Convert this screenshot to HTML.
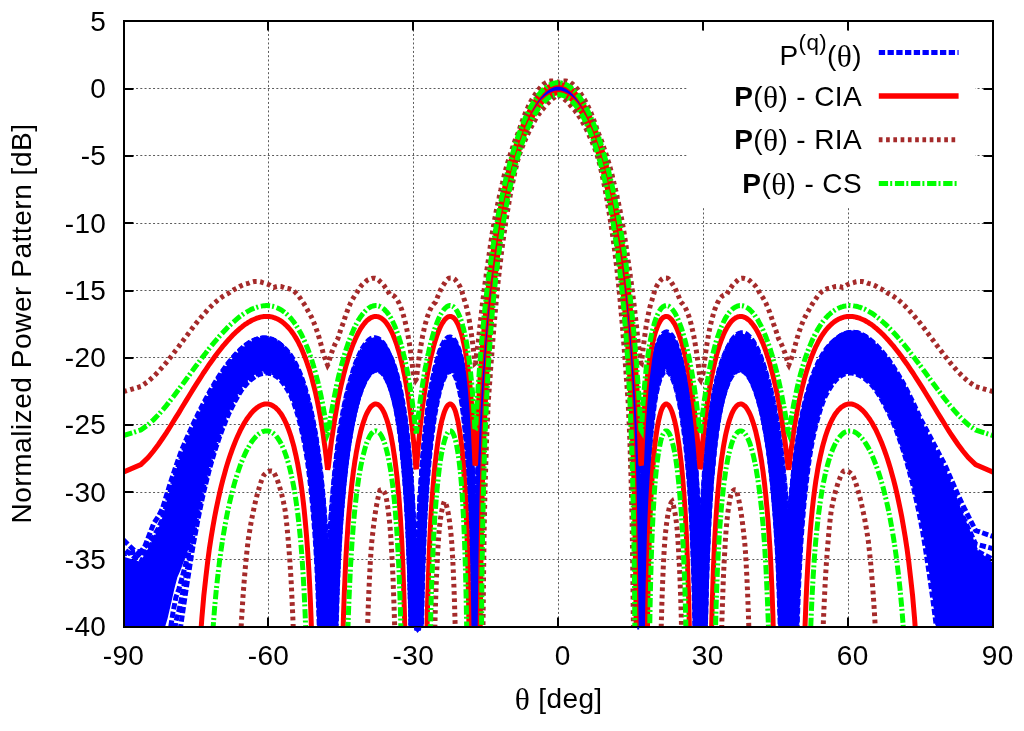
<!DOCTYPE html><html><head><meta charset="utf-8"><title>Normalized Power Pattern</title><style>
html,body{margin:0;padding:0;background:#fff}
#c{position:relative;width:1024px;height:731px;overflow:hidden;background:#fff}
</style></head><body><div id="c">
<svg width="1024" height="731" viewBox="0 0 1024 731" style="position:absolute;left:0;top:0">
<defs><clipPath id="cp"><rect x="123.3" y="21.2" width="869.8" height="605.4"/></clipPath></defs>
<path d="M268.5 21.2V626.6M413.5 21.2V626.6M558.5 21.2V626.6M703.5 21.2V626.6M848.5 21.2V626.6M123.3 88.5H993.1M123.3 155.5H993.1M123.3 223.5H993.1M123.3 290.5H993.1M123.3 357.5H993.1M123.3 424.5H993.1M123.3 492.5H993.1M123.3 559.5H993.1" stroke="#5c5c5c" stroke-width="1" stroke-dasharray="2 2.25" fill="none"/>
<rect x="687.6" y="30.5" width="287.4" height="175.5" fill="#fff"/>
<path d="M268 627.0v-9.5M268 21.0v9.5M413 627.0v-9.5M413 21.0v9.5M558 627.0v-9.5M558 21.0v9.5M703 627.0v-9.5M703 21.0v9.5M848 627.0v-9.5M848 21.0v9.5M124.0 89h9.5M993.0 89h-9.5M124.0 156h9.5M993.0 156h-9.5M124.0 223h9.5M993.0 223h-9.5M124.0 291h9.5M993.0 291h-9.5M124.0 358h9.5M993.0 358h-9.5M124.0 425h9.5M993.0 425h-9.5M124.0 492h9.5M993.0 492h-9.5M124.0 560h9.5M993.0 560h-9.5" stroke="#000" stroke-width="2" fill="none"/>
<g clip-path="url(#cp)" fill="none">
<path d="M123.3 558.0 140.8 563.4 148.1 551.3 153.7 540.9 158.4 532.0 162.5 522.3 166.3 508.2 169.7 495.9 172.9 484.9 175.9 475.1 178.8 466.1 181.5 458.0 184.1 451.5 186.6 445.3 189.0 439.6 191.3 434.1 193.5 429.0 195.7 424.1 197.8 419.5 199.9 415.1 201.9 410.9 203.8 406.9 205.8 403.1 207.6 399.5 209.4 396.1 211.2 392.8 213.0 389.6 214.7 386.6 216.4 383.8 218.1 381.0 219.7 378.4 221.3 375.9 222.9 373.5 224.5 371.2 226.0 369.0 227.5 366.9 229.0 364.9 230.5 363.0 232.0 361.2 233.4 359.5 234.8 357.9 236.2 356.3 237.6 354.8 239.0 353.5 240.3 352.1 241.7 350.8 243.0 349.5 244.3 348.3 245.6 347.2 246.9 346.1 248.2 345.1 249.5 344.2 250.7 343.4 251.9 342.6 253.2 341.9 254.4 341.3 255.6 340.8 256.8 340.3 258.0 339.8 259.2 339.5 260.3 339.2 261.5 338.9 262.7 338.7 263.8 338.6 264.9 338.6 266.1 338.6 267.2 338.6 268.3 338.8 269.4 338.9 270.5 339.2 271.6 339.5 272.7 339.9 273.7 340.4 274.8 341.0 275.9 341.7 276.9 342.4 278.0 343.1 279.0 344.0 280.0 344.6 281.1 345.4 282.1 346.5 283.1 347.5 284.1 348.5 285.1 349.5 286.1 350.8 287.1 352.1 288.1 353.5 289.1 355.0 290.1 356.6 291.1 358.3 292.0 360.0 293.0 361.6 294.0 363.3 294.9 365.1 295.9 366.9 296.8 368.9 297.8 370.9 298.7 373.0 299.6 375.3 300.6 377.6 301.5 380.0 302.4 382.6 303.3 385.3 304.2 388.1 305.1 391.0 306.0 394.1 306.9 397.3 307.8 400.7 308.7 404.2 309.6 407.9 310.5 411.8 311.4 415.8 312.3 420.1 313.1 424.6 314.0 429.3 314.9 434.3 315.8 439.6 316.6 445.1 317.5 451.0 318.3 457.3 319.2 463.9 320.0 471.0 320.9 478.7 321.7 486.9 322.6 495.7 323.4 505.3 324.2 515.8 325.1 527.3 325.9 540.1 326.7 554.3 327.6 570.5 328.4 579.5 329.2 561.3 330.0 545.1 330.8 530.9 331.6 518.3 332.5 506.9 333.3 496.6 334.1 487.1 334.9 478.5 335.7 470.4 336.5 462.9 337.3 455.9 338.0 449.4 338.8 443.2 339.6 437.5 340.4 432.1 341.2 427.2 342.0 422.6 342.8 418.3 343.5 414.1 344.3 410.1 345.1 406.3 345.8 402.7 346.6 399.3 347.4 396.0 348.1 392.8 348.9 389.8 349.7 386.9 350.4 384.2 351.2 381.3 351.9 378.6 352.7 376.0 353.4 373.5 354.2 371.2 354.9 368.9 355.7 366.7 356.4 364.7 357.2 362.7 357.9 360.9 358.6 359.1 359.4 357.4 360.1 355.9 360.8 354.4 361.6 352.9 362.3 351.6 363.0 350.3 363.8 349.2 364.5 348.1 365.2 347.0 365.9 346.1 366.6 345.2 367.4 344.4 368.1 343.6 368.8 343.0 369.5 342.4 370.2 341.9 370.9 341.4 371.6 341.0 372.4 340.7 373.1 340.4 373.8 340.3 374.5 340.2 375.2 340.1 375.9 340.2 376.6 340.3 377.3 340.5 378.0 340.7 378.7 341.0 379.4 341.4 380.0 341.8 380.7 342.3 381.4 342.9 382.1 343.6 382.8 344.3 383.5 345.1 384.2 346.0 384.9 346.9 385.5 348.0 386.2 349.1 386.9 350.3 387.6 351.5 388.3 352.9 388.9 354.4 389.6 355.9 390.3 357.5 391.0 359.1 391.6 360.8 392.3 362.9 393.0 364.9 393.6 366.8 394.3 368.9 395.0 371.1 395.6 373.4 396.3 375.8 397.0 378.3 397.6 381.0 398.3 383.8 399.0 386.8 399.6 389.9 400.3 393.1 400.9 396.5 401.6 400.1 402.2 403.9 402.9 407.9 403.5 412.1 404.2 416.5 404.9 421.2 405.5 426.1 406.2 431.4 406.8 436.9 407.5 442.9 408.1 449.3 408.7 456.2 409.4 463.6 410.0 471.6 410.7 480.2 411.3 489.6 412.0 499.9 412.6 511.3 413.2 524.0 413.9 538.3 414.5 554.7 415.2 573.5 415.8 582.6 416.4 583.9 417.1 567.2 417.7 551.0 418.3 534.8 419.0 520.5 419.6 507.8 420.2 496.3 420.9 485.8 421.5 476.3 422.1 467.5 422.7 459.6 423.4 452.2 424.0 445.4 424.6 438.9 425.2 432.9 425.9 427.2 426.5 421.8 427.1 416.6 427.7 411.8 428.4 407.1 429.0 402.8 429.6 398.6 430.2 394.7 430.8 391.0 431.4 387.4 432.1 384.0 432.7 380.8 433.3 377.7 433.9 374.8 434.5 372.1 435.1 369.4 435.8 366.9 436.4 364.6 437.0 362.3 437.6 360.2 438.2 358.2 438.8 356.3 439.4 354.5 440.0 352.9 440.6 351.3 441.2 349.9 441.8 348.5 442.5 347.3 443.1 346.1 443.7 345.1 444.3 344.1 444.9 343.2 445.5 342.5 446.1 341.8 446.7 341.2 447.3 340.7 447.9 340.3 448.5 340.0 449.1 339.8 449.7 339.8 450.3 339.8 450.9 340.0 451.5 340.2 452.1 340.6 452.7 341.0 453.3 341.6 453.9 342.3 454.5 343.1 455.1 344.0 455.7 345.0 456.2 346.2 456.8 347.4 457.4 348.8 458.0 350.2 458.6 351.8 459.2 353.6 459.8 355.5 460.4 357.6 461.0 359.8 461.6 362.3 462.2 365.0 462.7 367.9 463.3 371.0 463.9 374.4 464.5 378.0 465.1 382.0 465.7 386.2 466.3 390.9 466.9 395.9 467.4 401.4 468.0 407.3 468.6 413.8 469.2 421.0 469.8 428.9 470.4 437.6 470.9 447.4 471.5 458.3 472.1 470.8 472.7 485.3 473.3 502.2 473.8 522.6 474.4 547.9 475.0 563.8 475.6 566.0 476.2 541.6 476.7 515.1 477.3 493.1 477.9 474.2 478.5 457.6 479.1 442.8 479.6 429.4 480.2 417.2 480.8 406.0 481.4 395.5 481.9 385.8 482.5 376.6 483.1 368.0 483.7 359.8 484.2 352.1 484.8 344.7 485.4 337.7 486.0 331.0 486.5 324.6 487.1 318.4 487.7 312.4 488.2 306.7 488.8 301.2 489.4 295.8 490.0 290.7 490.5 285.7 491.1 280.8 491.7 276.1 492.2 271.5 492.8 267.1 493.4 262.8 493.9 258.6 494.5 254.5 495.1 250.5 495.7 246.6 496.2 242.7 496.8 239.0 497.4 235.4 497.9 231.8 498.5 228.4 499.1 225.0 499.6 221.7 500.2 218.5 500.8 215.3 501.3 212.2 501.9 209.2 502.5 206.3 503.0 203.4 503.6 200.5 504.1 197.8 504.7 195.0 505.3 192.4 505.8 189.8 506.4 187.2 507.0 184.7 507.5 182.2 508.1 179.8 508.7 177.4 509.2 175.1 509.8 172.9 510.3 170.6 510.9 168.4 511.5 166.3 512.0 164.2 512.6 162.1 513.2 160.1 513.7 158.1 514.3 156.2 514.8 154.3 515.4 152.4 516.0 150.5 516.5 148.7 517.1 147.0 517.6 145.2 518.2 143.5 518.8 141.9 519.3 140.2 519.9 138.7 520.4 137.1 521.0 135.6 521.5 134.1 522.1 132.6 522.7 131.1 523.2 129.7 523.8 128.3 524.3 126.9 524.9 125.6 525.5 124.3 526.0 123.0 526.6 121.7 527.1 120.5 527.7 119.3 528.2 118.1 528.8 117.0 529.4 115.8 529.9 114.7 530.5 113.7 531.0 112.6 531.6 111.6 532.1 110.6 532.7 109.6 533.2 108.7 533.8 107.7 534.4 106.8 534.9 105.9 535.5 105.1 536.0 104.3 536.6 103.4 537.1 102.7 537.7 101.9 538.2 101.1 538.8 100.4 539.4 99.7 539.9 99.0 540.5 98.4 541.0 97.8 541.6 97.1 542.1 96.6 542.7 96.0 543.2 95.4 543.8 94.9 544.4 94.4 544.9 93.9 545.5 93.5 546.0 93.0 546.6 92.6 547.1 92.2 547.7 91.8 548.2 91.5 548.8 91.1 549.3 90.8 549.9 90.5 550.4 90.2 551.0 90.0 551.6 89.8 552.1 89.5 552.7 89.4 553.2 89.2 553.8 89.0 554.3 88.9 554.9 88.8 555.4 88.7 556.0 88.6 556.5 88.6 557.1 88.5 557.6 88.5 558.2 88.5 558.8 88.5 559.3 88.5 559.9 88.6 560.4 88.6 561.0 88.7 561.5 88.8 562.1 88.9 562.6 89.0 563.2 89.2 563.7 89.3 564.3 89.5 564.8 89.7 565.4 90.0 566.0 90.2 566.5 90.5 567.1 90.8 567.6 91.1 568.2 91.4 568.7 91.8 569.3 92.2 569.8 92.6 570.4 93.0 570.9 93.4 571.5 93.9 572.0 94.3 572.6 94.8 573.2 95.3 573.7 95.9 574.3 96.4 574.8 97.0 575.4 97.6 575.9 98.3 576.5 98.9 577.0 99.6 577.6 100.3 578.2 101.0 578.7 101.7 579.3 102.5 579.8 103.2 580.4 104.0 580.9 104.9 581.5 105.7 582.0 106.6 582.6 107.5 583.2 108.4 583.7 109.3 584.3 110.3 584.8 111.3 585.4 112.3 585.9 113.3 586.5 114.4 587.0 115.5 587.6 116.6 588.2 117.7 588.7 118.9 589.3 120.1 589.8 121.3 590.4 122.5 590.9 123.8 591.5 125.1 592.1 126.4 592.6 127.7 593.2 129.1 593.7 130.5 594.3 132.0 594.9 133.4 595.4 134.9 596.0 136.4 596.5 137.9 597.1 139.5 597.6 141.1 598.2 142.7 598.8 144.4 599.3 146.1 599.9 147.9 600.4 149.6 601.0 151.5 601.6 153.3 602.1 155.2 602.7 157.1 603.2 159.1 603.8 161.1 604.4 163.1 604.9 165.2 605.5 167.3 606.1 169.5 606.6 171.7 607.2 173.9 607.7 176.2 608.3 178.6 608.9 180.9 609.4 183.4 610.0 185.8 610.6 188.4 611.1 190.9 611.7 193.6 612.3 196.3 612.8 199.0 613.4 201.8 613.9 204.6 614.5 207.6 615.1 210.5 615.6 213.6 616.2 216.7 616.8 219.9 617.3 223.1 617.9 226.4 618.5 229.7 619.0 233.2 619.6 236.8 620.2 240.5 620.7 244.3 621.3 248.1 621.9 252.0 622.5 256.0 623.0 260.1 623.6 264.3 624.2 268.6 624.7 273.1 625.3 277.6 625.9 282.3 626.4 287.2 627.0 292.2 627.6 297.3 628.2 302.7 628.7 308.2 629.3 313.9 629.9 319.8 630.4 326.0 631.0 332.4 631.6 339.1 632.2 346.1 632.7 353.4 633.3 361.0 633.9 369.1 634.5 377.7 635.0 386.7 635.6 396.3 636.2 406.6 636.8 417.7 637.3 429.7 637.9 442.8 638.5 457.3 639.1 473.4 639.7 491.7 640.2 512.9 640.8 528.7 641.4 525.3 642.0 518.6 642.6 498.6 643.1 481.8 643.7 467.5 644.3 455.0 644.9 444.1 645.5 434.3 646.0 425.6 646.6 417.7 647.2 410.6 647.8 404.0 648.4 398.1 649.0 392.6 649.5 387.5 650.1 382.8 650.7 378.5 651.3 374.6 651.9 370.9 652.5 367.5 653.1 364.3 653.7 361.4 654.2 358.7 654.8 356.2 655.4 353.9 656.0 351.7 656.6 349.8 657.2 348.0 657.8 346.3 658.4 344.8 659.0 343.4 659.6 342.2 660.2 341.0 660.7 339.9 661.3 338.9 661.9 338.0 662.5 337.2 663.1 336.5 663.7 335.9 664.3 335.4 664.9 335.1 665.5 334.8 666.1 334.6 666.7 334.6 667.3 334.6 667.9 334.7 668.5 335.0 669.1 335.4 669.7 335.9 670.3 336.5 670.9 337.1 671.5 337.8 672.1 338.6 672.7 339.5 673.3 340.4 673.9 341.5 674.6 342.7 675.2 344.0 675.8 345.3 676.4 346.8 677.0 348.4 677.6 350.0 678.2 351.8 678.8 353.7 679.4 355.7 680.0 357.8 680.6 360.0 681.3 362.3 681.9 364.8 682.5 367.4 683.1 370.1 683.7 372.9 684.3 375.9 685.0 379.1 685.6 382.4 686.2 385.9 686.8 389.5 687.4 393.3 688.0 397.4 688.7 401.6 689.3 406.0 689.9 410.7 690.5 415.7 691.2 420.8 691.8 426.2 692.4 431.9 693.0 438.0 693.7 444.5 694.3 451.4 694.9 459.0 695.5 467.3 696.2 476.3 696.8 486.0 697.4 496.6 698.1 508.1 698.7 520.9 699.3 532.4 700.0 543.1 700.6 543.7 701.2 541.1 701.9 526.7 702.5 513.6 703.2 501.8 703.8 491.2 704.4 481.6 705.1 472.7 705.7 464.5 706.4 456.9 707.0 449.9 707.7 443.3 708.3 437.1 708.9 431.3 709.6 425.9 710.2 420.9 710.9 416.2 711.5 411.7 712.2 407.4 712.9 403.4 713.5 399.5 714.2 395.8 714.8 392.3 715.5 389.0 716.1 385.8 716.8 382.8 717.4 379.9 718.1 377.2 718.8 374.6 719.4 372.1 720.1 369.7 720.8 367.4 721.4 365.3 722.1 363.3 722.8 361.3 723.4 359.5 724.1 357.5 724.8 355.5 725.4 353.8 726.1 352.3 726.8 350.8 727.5 349.3 728.1 347.9 728.8 346.5 729.5 345.2 730.2 344.1 730.9 343.0 731.5 342.0 732.2 341.0 732.9 340.2 733.6 339.4 734.3 338.6 735.0 338.0 735.7 337.4 736.4 336.9 737.0 336.4 737.7 336.0 738.4 335.7 739.1 335.5 739.8 335.3 740.5 335.2 741.2 335.0 741.9 335.1 742.6 335.2 743.3 335.3 744.0 335.5 744.8 335.8 745.5 336.2 746.2 336.6 746.9 337.1 747.6 337.6 748.3 338.3 749.0 339.0 749.8 339.7 750.5 340.6 751.2 341.5 751.9 342.4 752.6 343.5 753.4 344.6 754.1 345.8 754.8 347.1 755.6 348.4 756.3 349.8 757.0 351.3 757.8 352.9 758.5 354.6 759.2 356.3 760.0 358.2 760.7 360.1 761.5 362.2 762.2 364.3 763.0 366.5 763.7 368.9 764.5 371.3 765.2 373.9 766.0 376.6 766.7 379.1 767.5 381.7 768.3 384.4 769.0 387.2 769.8 390.2 770.6 393.3 771.3 396.5 772.1 399.9 772.9 403.4 773.6 407.1 774.4 410.9 775.2 415.0 776.0 419.2 776.8 424.0 777.6 429.2 778.4 434.6 779.1 440.4 779.9 446.5 780.7 453.1 781.5 460.0 782.3 467.4 783.1 475.4 783.9 484.0 784.8 493.4 785.6 503.6 786.4 514.8 787.2 527.2 788.0 540.4 788.8 528.9 789.7 517.7 790.5 507.4 791.3 497.8 792.2 489.0 793.0 480.7 793.8 473.1 794.7 465.9 795.5 459.1 796.4 452.7 797.2 446.7 798.1 441.1 798.9 435.7 799.8 430.6 800.6 425.8 801.5 421.2 802.4 416.8 803.3 412.6 804.1 408.7 805.0 404.9 805.9 401.2 806.8 397.8 807.7 394.4 808.6 391.3 809.5 388.2 810.4 385.3 811.3 382.5 812.2 379.9 813.1 377.3 814.0 374.9 814.9 372.6 815.8 370.3 816.8 368.2 817.7 366.1 818.6 364.2 819.6 362.3 820.5 360.6 821.5 358.9 822.4 357.3 823.4 355.7 824.4 354.2 825.3 352.5 826.3 350.9 827.3 349.4 828.3 347.9 829.3 346.5 830.3 345.2 831.3 344.0 832.3 343.0 833.3 342.1 834.3 341.0 835.3 340.0 836.4 339.2 837.4 338.6 838.4 337.8 839.5 337.0 840.5 336.2 841.6 335.6 842.7 335.0 843.7 334.4 844.8 333.9 845.9 333.6 847.0 333.3 848.1 333.1 849.2 333.0 850.3 332.9 851.5 332.9 852.6 332.9 853.7 333.0 854.9 333.1 856.1 333.4 857.2 333.6 858.4 334.0 859.6 334.6 860.8 335.1 862.0 335.8 863.2 336.5 864.5 337.3 865.7 338.2 866.9 339.1 868.2 340.1 869.5 341.1 870.8 342.3 872.1 343.5 873.4 344.8 874.7 346.1 876.1 347.6 877.4 349.0 878.8 350.4 880.2 352.0 881.6 353.6 883.0 355.3 884.4 357.1 885.9 359.0 887.4 361.0 888.9 363.1 890.4 365.3 891.9 367.6 893.5 370.0 895.1 372.6 896.7 375.2 898.3 378.0 900.0 380.9 901.7 384.0 903.4 387.2 905.2 390.6 907.0 394.1 908.8 397.8 910.6 401.7 912.6 405.8 914.5 410.2 916.5 414.8 918.6 419.6 920.7 424.7 922.9 428.9 925.1 433.4 927.4 438.0 929.8 442.8 932.3 447.9 934.9 453.2 937.6 458.8 940.5 464.7 943.5 470.8 946.7 478.3 950.1 487.3 953.9 497.0 958.0 507.8 962.7 519.6 968.3 532.9 975.6 550.3 993.1 564.8 L993.1 656.6 975.6 656.6 968.3 656.6 962.7 656.6 958.0 656.6 953.9 656.6 950.1 656.6 946.7 656.6 943.5 656.6 940.5 647.3 937.6 617.4 934.9 593.9 932.3 574.8 929.8 558.5 927.4 544.2 925.1 531.1 922.9 519.3 920.7 508.7 918.6 499.0 916.5 490.2 914.5 482.1 912.6 474.6 910.6 467.6 908.8 461.1 907.0 455.0 905.2 449.3 903.4 443.9 901.7 438.9 900.0 434.1 898.3 429.6 896.7 425.4 895.1 421.5 893.5 417.9 891.9 414.5 890.4 411.2 888.9 408.1 887.4 405.2 885.9 402.4 884.4 399.7 883.0 397.1 881.6 394.7 880.2 392.4 878.8 390.3 877.4 388.2 876.1 386.2 874.7 384.4 873.4 382.7 872.1 381.3 870.8 379.9 869.5 378.7 868.2 377.5 866.9 376.5 865.7 375.5 864.5 374.6 863.2 373.7 862.0 373.0 860.8 372.3 859.6 371.8 858.4 371.3 857.2 370.8 856.1 370.4 854.9 370.0 853.7 369.7 852.6 369.5 851.5 369.4 850.3 369.3 849.2 369.4 848.1 369.4 847.0 369.6 845.9 369.9 844.8 370.2 843.7 370.6 842.7 371.1 841.6 371.7 840.5 372.3 839.5 373.0 838.4 373.8 837.4 374.7 836.4 375.7 835.3 376.7 834.3 377.9 833.3 379.1 832.3 380.4 831.3 381.8 830.3 383.3 829.3 384.9 828.3 386.5 827.3 388.1 826.3 389.9 825.3 391.7 824.4 393.9 823.4 396.2 822.4 398.7 821.5 401.3 820.5 404.0 819.6 406.9 818.6 409.9 817.7 413.1 816.8 416.4 815.8 419.8 814.9 423.5 814.0 427.3 813.1 431.3 812.2 435.6 811.3 440.1 810.4 444.8 809.5 450.0 808.6 456.0 807.7 462.4 806.8 469.2 805.9 476.3 805.0 483.7 804.1 491.7 803.3 500.4 802.4 509.9 801.5 520.3 800.6 531.9 799.8 544.8 798.9 559.4 798.1 576.2 797.2 595.8 796.4 619.5 795.5 648.9 794.7 656.6 793.8 656.6 793.0 656.6 792.2 656.6 791.3 656.6 790.5 656.6 789.7 656.6 788.8 656.6 788.0 656.6 787.2 656.6 786.4 656.6 785.6 656.6 784.8 656.6 783.9 656.6 783.1 656.6 782.3 656.6 781.5 647.5 780.7 621.2 779.9 598.7 779.1 579.4 778.4 562.7 777.6 548.0 776.8 535.0 776.0 523.3 775.2 512.7 774.4 503.0 773.6 494.2 772.9 486.1 772.1 478.5 771.3 471.5 770.6 465.0 769.8 458.9 769.0 453.2 768.3 447.8 767.5 442.7 766.7 438.0 766.0 433.5 765.2 429.2 764.5 425.2 763.7 421.4 763.0 417.8 762.2 414.3 761.5 411.0 760.7 407.8 760.0 404.8 759.2 402.0 758.5 399.3 757.8 396.7 757.0 394.3 756.3 392.0 755.6 389.9 754.8 387.8 754.1 385.9 753.4 384.1 752.6 382.4 751.9 380.8 751.2 379.3 750.5 377.9 749.8 376.6 749.0 375.4 748.3 374.3 747.6 373.3 746.9 372.3 746.2 371.5 745.5 370.7 744.8 370.1 744.0 369.5 743.3 369.0 742.6 368.6 741.9 368.3 741.2 368.0 740.5 367.9 739.8 367.8 739.1 367.8 738.4 367.9 737.7 368.1 737.0 368.3 736.4 368.7 735.7 369.1 735.0 369.6 734.3 370.2 733.6 370.9 732.9 371.7 732.2 372.5 731.5 373.5 730.9 374.6 730.2 375.9 729.5 377.4 728.8 378.9 728.1 380.6 727.5 382.4 726.8 384.3 726.1 386.4 725.4 388.5 724.8 390.8 724.1 393.3 723.4 395.9 722.8 398.6 722.1 401.4 721.4 404.2 720.8 407.1 720.1 410.3 719.4 413.5 718.8 417.0 718.1 420.7 717.4 424.6 716.8 428.9 716.1 433.8 715.5 438.9 714.8 444.4 714.2 450.3 713.5 456.6 712.9 463.4 712.2 470.7 711.5 478.6 710.9 487.2 710.2 496.6 709.6 507.0 708.9 518.5 708.3 531.4 707.7 546.1 707.0 563.0 706.4 583.0 705.7 607.3 705.1 638.3 704.4 656.6 703.8 656.6 703.2 656.6 702.5 656.6 701.9 656.6 701.2 656.6 700.6 656.6 700.0 656.6 699.3 656.6 698.7 656.6 698.1 656.6 697.4 656.6 696.8 656.6 696.2 656.6 695.5 628.9 694.9 599.4 694.3 576.0 693.7 556.5 693.0 539.9 692.4 525.5 691.8 512.7 691.2 501.9 690.5 492.4 689.9 483.6 689.3 475.6 688.7 468.2 688.0 461.3 687.4 454.8 686.8 448.8 686.2 443.2 685.6 437.9 685.0 433.0 684.3 428.3 683.7 423.9 683.1 419.6 682.5 415.5 681.9 411.6 681.3 408.0 680.6 404.5 680.0 401.3 679.4 398.2 678.8 395.4 678.2 392.7 677.6 390.1 677.0 387.7 676.4 385.5 675.8 383.4 675.2 381.5 674.6 379.7 673.9 378.0 673.3 376.5 672.7 375.1 672.1 373.8 671.5 372.6 670.9 371.6 670.3 370.7 669.7 369.9 669.1 369.2 668.5 368.7 667.9 368.3 667.3 368.0 666.7 367.8 666.1 367.8 665.5 367.9 664.9 368.1 664.3 368.4 663.7 368.9 663.1 369.5 662.5 370.3 661.9 371.2 661.3 372.2 660.7 373.4 660.2 374.8 659.6 376.4 659.0 378.2 658.4 380.2 657.8 382.4 657.2 384.9 656.6 387.5 656.0 390.4 655.4 393.6 654.8 397.1 654.2 400.8 653.7 404.9 653.1 409.3 652.5 414.2 651.9 419.5 651.3 425.1 650.7 431.1 650.1 437.7 649.5 445.1 649.0 453.5 648.4 463.1 647.8 473.9 647.2 486.3 646.6 500.6 646.0 517.4 645.5 537.7 644.9 563.2 644.3 596.9 643.7 645.0 643.1 656.6 642.6 656.6 642.0 656.6 641.4 656.6 640.8 656.6 640.2 656.6 639.7 656.6 639.1 651.8 638.5 593.3 637.9 552.6 637.3 521.7 636.8 496.7 636.2 475.7 635.6 457.5 635.0 441.5 634.5 427.4 633.9 414.7 633.3 403.1 632.7 392.3 632.2 382.2 631.6 372.8 631.0 363.9 630.4 355.6 629.9 347.7 629.3 340.1 628.7 333.0 628.2 326.1 627.6 319.6 627.0 313.3 626.4 307.3 625.9 301.5 625.3 295.9 624.7 290.5 624.2 285.3 623.6 280.2 623.0 275.4 622.5 270.6 621.9 266.0 621.3 261.6 620.7 257.3 620.2 253.1 619.6 249.0 619.0 245.0 618.5 241.1 617.9 237.4 617.3 233.7 616.8 230.1 616.2 226.7 615.6 223.3 615.1 220.0 614.5 216.7 613.9 213.5 613.4 210.4 612.8 207.3 612.3 204.4 611.7 201.5 611.1 198.6 610.6 195.9 610.0 193.1 609.4 190.5 608.9 187.9 608.3 185.3 607.7 182.8 607.2 180.3 606.6 177.9 606.1 175.6 605.5 173.3 604.9 171.0 604.4 168.8 603.8 166.6 603.2 164.4 602.7 162.3 602.1 160.3 601.6 158.3 601.0 156.3 600.4 154.4 599.9 152.5 599.3 150.6 598.8 148.8 598.2 147.0 597.6 145.2 597.1 143.5 596.5 141.8 596.0 140.2 595.4 138.5 594.9 136.9 594.3 135.4 593.7 133.9 593.2 132.4 592.6 130.9 592.1 129.5 591.5 128.1 590.9 126.8 590.4 125.4 589.8 124.1 589.3 122.8 588.7 121.6 588.2 120.3 587.6 119.1 587.0 117.9 586.5 116.8 585.9 115.7 585.4 114.6 584.8 113.5 584.3 112.4 583.7 111.4 583.2 110.4 582.6 109.4 582.0 108.5 581.5 107.5 580.9 106.6 580.4 105.8 579.8 104.9 579.3 104.1 578.7 103.3 578.2 102.5 577.6 101.7 577.0 101.0 576.5 100.3 575.9 99.6 575.4 98.9 574.8 98.2 574.3 97.6 573.7 97.0 573.2 96.4 572.6 95.9 572.0 95.3 571.5 94.8 570.9 94.3 570.4 93.8 569.8 93.4 569.3 92.9 568.7 92.5 568.2 92.1 567.6 91.7 567.1 91.4 566.5 91.1 566.0 90.8 565.4 90.5 564.8 90.2 564.3 89.9 563.7 89.7 563.2 89.5 562.6 89.3 562.1 89.1 561.5 89.0 561.0 88.9 560.4 88.8 559.9 88.7 559.3 88.6 558.8 88.6 558.2 88.5 557.6 88.6 557.1 88.6 556.5 88.7 556.0 88.8 555.4 88.9 554.9 89.0 554.3 89.1 553.8 89.3 553.2 89.5 552.7 89.7 552.1 89.9 551.6 90.2 551.0 90.5 550.4 90.8 549.9 91.1 549.3 91.4 548.8 91.7 548.2 92.1 547.7 92.5 547.1 92.9 546.6 93.4 546.0 93.8 545.5 94.3 544.9 94.8 544.4 95.3 543.8 95.9 543.2 96.4 542.7 97.0 542.1 97.6 541.6 98.2 541.0 98.9 540.5 99.6 539.9 100.3 539.4 101.0 538.8 101.7 538.2 102.5 537.7 103.3 537.1 104.1 536.6 104.9 536.0 105.8 535.5 106.6 534.9 107.5 534.4 108.5 533.8 109.4 533.2 110.4 532.7 111.4 532.1 112.4 531.6 113.5 531.0 114.6 530.5 115.7 529.9 116.8 529.4 117.9 528.8 119.1 528.2 120.3 527.7 121.6 527.1 122.8 526.6 124.1 526.0 125.4 525.5 126.8 524.9 128.1 524.3 129.5 523.8 130.9 523.2 132.4 522.7 133.9 522.1 135.4 521.5 136.9 521.0 138.5 520.4 140.2 519.9 141.8 519.3 143.5 518.8 145.2 518.2 147.0 517.6 148.8 517.1 150.6 516.5 152.5 516.0 154.4 515.4 156.3 514.8 158.3 514.3 160.3 513.7 162.3 513.2 164.4 512.6 166.6 512.0 168.8 511.5 171.0 510.9 173.3 510.3 175.6 509.8 177.9 509.2 180.3 508.7 182.8 508.1 185.3 507.5 187.9 507.0 190.5 506.4 193.1 505.8 195.9 505.3 198.6 504.7 201.5 504.1 204.4 503.6 207.3 503.0 210.4 502.5 213.5 501.9 216.7 501.3 220.0 500.8 223.3 500.2 226.7 499.6 230.1 499.1 233.7 498.5 237.4 497.9 241.1 497.4 245.0 496.8 249.0 496.2 253.1 495.7 257.3 495.1 261.6 494.5 266.0 493.9 270.6 493.4 275.4 492.8 280.2 492.2 285.3 491.7 290.5 491.1 295.9 490.5 301.5 490.0 307.3 489.4 313.3 488.8 319.6 488.2 326.1 487.7 333.0 487.1 340.1 486.5 347.7 486.0 355.6 485.4 363.9 484.8 372.8 484.2 382.2 483.7 392.3 483.1 403.1 482.5 414.7 481.9 427.4 481.4 441.5 480.8 457.5 480.2 475.7 479.6 496.7 479.1 521.7 478.5 552.6 477.9 593.3 477.3 651.8 476.7 656.6 476.2 656.6 475.6 656.6 475.0 656.6 474.4 656.6 473.8 656.6 473.3 656.6 472.7 645.0 472.1 596.9 471.5 563.2 470.9 537.7 470.4 517.4 469.8 500.6 469.2 486.3 468.6 473.9 468.0 463.1 467.4 453.5 466.9 445.1 466.3 437.7 465.7 431.1 465.1 425.1 464.5 419.5 463.9 414.2 463.3 409.3 462.7 404.9 462.2 400.8 461.6 397.1 461.0 393.6 460.4 390.4 459.8 387.5 459.2 384.9 458.6 382.4 458.0 380.2 457.4 378.2 456.8 376.4 456.2 374.8 455.7 373.4 455.1 372.2 454.5 371.2 453.9 370.3 453.3 369.5 452.7 368.9 452.1 368.4 451.5 368.1 450.9 367.9 450.3 367.8 449.7 367.8 449.1 368.0 448.5 368.3 447.9 368.7 447.3 369.2 446.7 369.9 446.1 370.7 445.5 371.6 444.9 372.6 444.3 373.8 443.7 375.1 443.1 376.5 442.5 378.0 441.8 379.7 441.2 381.5 440.6 383.4 440.0 385.5 439.4 387.7 438.8 390.1 438.2 392.7 437.6 395.4 437.0 398.2 436.4 401.3 435.8 404.5 435.1 408.0 434.5 411.6 433.9 415.5 433.3 419.6 432.7 423.9 432.1 428.3 431.4 433.0 430.8 437.9 430.2 443.2 429.6 448.8 429.0 454.8 428.4 461.3 427.7 468.2 427.1 475.6 426.5 483.6 425.9 492.4 425.2 501.9 424.6 512.7 424.0 525.5 423.4 539.9 422.7 556.5 422.1 576.0 421.5 599.4 420.9 628.9 420.2 656.6 419.6 656.6 419.0 656.6 418.3 656.6 417.7 656.6 417.1 656.6 416.4 656.6 415.8 656.6 415.2 656.6 414.5 656.6 413.9 656.6 413.2 656.6 412.6 656.6 412.0 656.6 411.3 638.3 410.7 607.3 410.0 583.0 409.4 563.0 408.7 546.1 408.1 531.4 407.5 518.5 406.8 507.0 406.2 496.6 405.5 487.2 404.9 478.6 404.2 470.7 403.5 463.4 402.9 456.6 402.2 450.3 401.6 444.4 400.9 438.9 400.3 433.8 399.6 428.9 399.0 424.6 398.3 420.7 397.6 417.0 397.0 413.5 396.3 410.3 395.6 407.1 395.0 404.2 394.3 401.4 393.6 398.6 393.0 395.9 392.3 393.3 391.6 390.8 391.0 388.5 390.3 386.4 389.6 384.3 388.9 382.4 388.3 380.6 387.6 378.9 386.9 377.4 386.2 375.9 385.5 374.6 384.9 373.5 384.2 372.5 383.5 371.7 382.8 370.9 382.1 370.2 381.4 369.6 380.7 369.1 380.0 368.7 379.4 368.3 378.7 368.1 378.0 367.9 377.3 367.8 376.6 367.8 375.9 367.9 375.2 368.0 374.5 368.3 373.8 368.6 373.1 369.0 372.4 369.5 371.6 370.1 370.9 370.7 370.2 371.5 369.5 372.3 368.8 373.3 368.1 374.3 367.4 375.4 366.6 376.6 365.9 377.9 365.2 379.3 364.5 380.8 363.8 382.4 363.0 384.1 362.3 385.9 361.6 387.8 360.8 389.9 360.1 392.0 359.4 394.3 358.6 396.7 357.9 399.3 357.2 402.0 356.4 404.8 355.7 407.8 354.9 411.0 354.2 414.3 353.4 417.8 352.7 421.4 351.9 425.2 351.2 429.2 350.4 433.5 349.7 438.0 348.9 442.7 348.1 447.8 347.4 453.2 346.6 458.9 345.8 465.0 345.1 471.5 344.3 478.5 343.5 486.1 342.8 494.2 342.0 503.0 341.2 512.7 340.4 523.3 339.6 535.0 338.8 548.0 338.0 562.7 337.3 579.4 336.5 598.7 335.7 621.2 334.9 647.5 334.1 656.6 333.3 656.6 332.5 656.6 331.6 656.6 330.8 656.6 330.0 656.6 329.2 656.6 328.4 656.6 327.6 656.6 326.7 656.6 325.9 656.6 325.1 656.6 324.2 656.6 323.4 656.6 322.6 656.6 321.7 656.6 320.9 648.9 320.0 619.5 319.2 595.8 318.3 576.2 317.5 559.4 316.6 544.8 315.8 531.9 314.9 520.3 314.0 509.9 313.1 500.4 312.3 491.7 311.4 483.7 310.5 476.3 309.6 469.2 308.7 462.4 307.8 456.0 306.9 450.0 306.0 444.8 305.1 440.1 304.2 435.6 303.3 431.3 302.4 427.3 301.5 423.5 300.6 419.8 299.6 416.4 298.7 413.1 297.8 409.9 296.8 406.9 295.9 404.0 294.9 401.3 294.0 398.7 293.0 396.2 292.0 393.9 291.1 391.7 290.1 389.9 289.1 388.1 288.1 386.5 287.1 384.9 286.1 383.3 285.1 381.8 284.1 380.4 283.1 379.1 282.1 377.9 281.1 376.7 280.0 375.7 279.0 374.7 278.0 373.8 276.9 373.0 275.9 372.3 274.8 371.7 273.7 371.1 272.7 370.6 271.6 370.2 270.5 369.9 269.4 369.6 268.3 369.4 267.2 369.4 266.1 369.3 264.9 369.4 263.8 369.5 262.7 369.7 261.5 370.0 260.3 370.4 259.2 370.8 258.0 371.3 256.8 371.9 255.6 372.6 254.4 373.3 253.2 374.1 251.9 375.0 250.7 376.0 249.5 377.1 248.2 378.3 246.9 379.6 245.6 380.9 244.3 382.3 243.0 383.9 241.7 385.7 240.3 387.7 239.0 389.8 237.6 392.0 236.2 394.4 234.8 396.9 233.4 399.5 232.0 402.2 230.5 405.1 229.0 408.2 227.5 411.4 226.0 414.8 224.5 418.3 222.9 422.1 221.3 426.0 219.7 430.2 218.1 434.7 216.4 439.3 214.7 444.3 213.0 449.6 211.2 455.2 209.4 461.2 207.6 467.6 205.8 474.4 203.8 481.8 201.9 489.7 199.9 498.4 197.8 507.8 195.7 518.1 193.5 528.4 191.3 536.6 189.0 543.4 186.6 549.9 184.1 556.7 181.5 563.8 178.8 570.8 175.9 577.3 172.9 589.0 169.7 603.2 166.3 617.9 162.5 630.6 158.4 652.0 153.7 656.6 148.1 656.6 140.8 656.6 123.3 656.6 Z" fill="#0000ff" stroke="none"/>
<g stroke="#0000ff" stroke-width="2.8">
<path d="M123.3 558.0 140.8 563.4 148.1 551.3 153.7 540.9 158.4 532.0 162.5 522.3 166.3 508.2 169.7 495.9 172.9 484.9 175.9 475.1 178.8 466.1 181.5 458.0 184.1 451.5 186.6 445.3 189.0 439.6 191.3 434.1 193.5 429.0 195.7 424.1 197.8 419.5 199.9 415.1 201.9 410.9 203.8 406.9 205.8 403.1 207.6 399.5 209.4 396.1 211.2 392.8 213.0 389.6 214.7 386.6 216.4 383.8 218.1 381.0 219.7 378.4 221.3 375.9 222.9 373.5 224.5 371.2 226.0 369.0 227.5 366.9 229.0 364.9 230.5 363.0 232.0 361.2 233.4 359.5 234.8 357.9 236.2 356.3 237.6 354.8 239.0 353.5 240.3 352.1 241.7 350.8 243.0 349.5 244.3 348.3 245.6 347.2 246.9 346.1 248.2 345.1 249.5 344.2 250.7 343.4 251.9 342.6 253.2 341.9 254.4 341.3 255.6 340.8 256.8 340.3 258.0 339.8 259.2 339.5 260.3 339.2 261.5 338.9 262.7 338.7 263.8 338.6 264.9 338.6 266.1 338.6 267.2 338.6 268.3 338.8 269.4 338.9 270.5 339.2 271.6 339.5 272.7 339.9 273.7 340.4 274.8 341.0 275.9 341.7 276.9 342.4 278.0 343.1 279.0 344.0 280.0 344.6 281.1 345.4 282.1 346.5 283.1 347.5 284.1 348.5 285.1 349.5 286.1 350.8 287.1 352.1 288.1 353.5 289.1 355.0 290.1 356.6 291.1 358.3 292.0 360.0 293.0 361.6 294.0 363.3 294.9 365.1 295.9 366.9 296.8 368.9 297.8 370.9 298.7 373.0 299.6 375.3 300.6 377.6 301.5 380.0 302.4 382.6 303.3 385.3 304.2 388.1 305.1 391.0 306.0 394.1 306.9 397.3 307.8 400.7 308.7 404.2 309.6 407.9 310.5 411.8 311.4 415.8 312.3 420.1 313.1 424.6 314.0 429.3 314.9 434.3 315.8 439.6 316.6 445.1 317.5 451.0 318.3 457.3 319.2 463.9 320.0 471.0 320.9 478.7 321.7 486.9 322.6 495.7 323.4 505.3 324.2 515.8 325.1 527.3 325.9 540.1 326.7 554.3 327.6 570.5 328.4 579.5 329.2 561.3 330.0 545.1 330.8 530.9 331.6 518.3 332.5 506.9 333.3 496.6 334.1 487.1 334.9 478.5 335.7 470.4 336.5 462.9 337.3 455.9 338.0 449.4 338.8 443.2 339.6 437.5 340.4 432.1 341.2 427.2 342.0 422.6 342.8 418.3 343.5 414.1 344.3 410.1 345.1 406.3 345.8 402.7 346.6 399.3 347.4 396.0 348.1 392.8 348.9 389.8 349.7 386.9 350.4 384.2 351.2 381.3 351.9 378.6 352.7 376.0 353.4 373.5 354.2 371.2 354.9 368.9 355.7 366.7 356.4 364.7 357.2 362.7 357.9 360.9 358.6 359.1 359.4 357.4 360.1 355.9 360.8 354.4 361.6 352.9 362.3 351.6 363.0 350.3 363.8 349.2 364.5 348.1 365.2 347.0 365.9 346.1 366.6 345.2 367.4 344.4 368.1 343.6 368.8 343.0 369.5 342.4 370.2 341.9 370.9 341.4 371.6 341.0 372.4 340.7 373.1 340.4 373.8 340.3 374.5 340.2 375.2 340.1 375.9 340.2 376.6 340.3 377.3 340.5 378.0 340.7 378.7 341.0 379.4 341.4 380.0 341.8 380.7 342.3 381.4 342.9 382.1 343.6 382.8 344.3 383.5 345.1 384.2 346.0 384.9 346.9 385.5 348.0 386.2 349.1 386.9 350.3 387.6 351.5 388.3 352.9 388.9 354.4 389.6 355.9 390.3 357.5 391.0 359.1 391.6 360.8 392.3 362.9 393.0 364.9 393.6 366.8 394.3 368.9 395.0 371.1 395.6 373.4 396.3 375.8 397.0 378.3 397.6 381.0 398.3 383.8 399.0 386.8 399.6 389.9 400.3 393.1 400.9 396.5 401.6 400.1 402.2 403.9 402.9 407.9 403.5 412.1 404.2 416.5 404.9 421.2 405.5 426.1 406.2 431.4 406.8 436.9 407.5 442.9 408.1 449.3 408.7 456.2 409.4 463.6 410.0 471.6 410.7 480.2 411.3 489.6 412.0 499.9 412.6 511.3 413.2 524.0 413.9 538.3 414.5 554.7 415.2 573.5 415.8 582.6 416.4 583.9 417.1 567.2 417.7 551.0 418.3 534.8 419.0 520.5 419.6 507.8 420.2 496.3 420.9 485.8 421.5 476.3 422.1 467.5 422.7 459.6 423.4 452.2 424.0 445.4 424.6 438.9 425.2 432.9 425.9 427.2 426.5 421.8 427.1 416.6 427.7 411.8 428.4 407.1 429.0 402.8 429.6 398.6 430.2 394.7 430.8 391.0 431.4 387.4 432.1 384.0 432.7 380.8 433.3 377.7 433.9 374.8 434.5 372.1 435.1 369.4 435.8 366.9 436.4 364.6 437.0 362.3 437.6 360.2 438.2 358.2 438.8 356.3 439.4 354.5 440.0 352.9 440.6 351.3 441.2 349.9 441.8 348.5 442.5 347.3 443.1 346.1 443.7 345.1 444.3 344.1 444.9 343.2 445.5 342.5 446.1 341.8 446.7 341.2 447.3 340.7 447.9 340.3 448.5 340.0 449.1 339.8 449.7 339.8 450.3 339.8 450.9 340.0 451.5 340.2 452.1 340.6 452.7 341.0 453.3 341.6 453.9 342.3 454.5 343.1 455.1 344.0 455.7 345.0 456.2 346.2 456.8 347.4 457.4 348.8 458.0 350.2 458.6 351.8 459.2 353.6 459.8 355.5 460.4 357.6 461.0 359.8 461.6 362.3 462.2 365.0 462.7 367.9 463.3 371.0 463.9 374.4 464.5 378.0 465.1 382.0 465.7 386.2 466.3 390.9 466.9 395.9 467.4 401.4 468.0 407.3 468.6 413.8 469.2 421.0 469.8 428.9 470.4 437.6 470.9 447.4 471.5 458.3 472.1 470.8 472.7 485.3 473.3 502.2 473.8 522.6 474.4 547.9 475.0 563.8 475.6 566.0 476.2 541.6 476.7 515.1 477.3 493.1 477.9 474.2 478.5 457.6 479.1 442.8 479.6 429.4 480.2 417.2 480.8 406.0 481.4 395.5 481.9 385.8 482.5 376.6 483.1 368.0 483.7 359.8 484.2 352.1 484.8 344.7 485.4 337.7 486.0 331.0 486.5 324.6 487.1 318.4 487.7 312.4 488.2 306.7 488.8 301.2 489.4 295.8 490.0 290.7 490.5 285.7 491.1 280.8 491.7 276.1 492.2 271.5 492.8 267.1 493.4 262.8 493.9 258.6 494.5 254.5 495.1 250.5 495.7 246.6 496.2 242.7 496.8 239.0 497.4 235.4 497.9 231.8 498.5 228.4 499.1 225.0 499.6 221.7 500.2 218.5 500.8 215.3 501.3 212.2 501.9 209.2 502.5 206.3 503.0 203.4 503.6 200.5 504.1 197.8 504.7 195.0 505.3 192.4 505.8 189.8 506.4 187.2 507.0 184.7 507.5 182.2 508.1 179.8 508.7 177.4 509.2 175.1 509.8 172.9 510.3 170.6 510.9 168.4 511.5 166.3 512.0 164.2 512.6 162.1 513.2 160.1 513.7 158.1 514.3 156.2 514.8 154.3 515.4 152.4 516.0 150.5 516.5 148.7 517.1 147.0 517.6 145.2 518.2 143.5 518.8 141.9 519.3 140.2 519.9 138.7 520.4 137.1 521.0 135.6 521.5 134.1 522.1 132.6 522.7 131.1 523.2 129.7 523.8 128.3 524.3 126.9 524.9 125.6 525.5 124.3 526.0 123.0 526.6 121.7 527.1 120.5 527.7 119.3 528.2 118.1 528.8 117.0 529.4 115.8 529.9 114.7 530.5 113.7 531.0 112.6 531.6 111.6 532.1 110.6 532.7 109.6 533.2 108.7 533.8 107.7 534.4 106.8 534.9 105.9 535.5 105.1 536.0 104.3 536.6 103.4 537.1 102.7 537.7 101.9 538.2 101.1 538.8 100.4 539.4 99.7 539.9 99.0 540.5 98.4 541.0 97.8 541.6 97.1 542.1 96.6 542.7 96.0 543.2 95.4 543.8 94.9 544.4 94.4 544.9 93.9 545.5 93.5 546.0 93.0 546.6 92.6 547.1 92.2 547.7 91.8 548.2 91.5 548.8 91.1 549.3 90.8 549.9 90.5 550.4 90.2 551.0 90.0 551.6 89.8 552.1 89.5 552.7 89.4 553.2 89.2 553.8 89.0 554.3 88.9 554.9 88.8 555.4 88.7 556.0 88.6 556.5 88.6 557.1 88.5 557.6 88.5 558.2 88.5 558.8 88.5 559.3 88.5 559.9 88.6 560.4 88.6 561.0 88.7 561.5 88.8 562.1 88.9 562.6 89.0 563.2 89.2 563.7 89.3 564.3 89.5 564.8 89.7 565.4 90.0 566.0 90.2 566.5 90.5 567.1 90.8 567.6 91.1 568.2 91.4 568.7 91.8 569.3 92.2 569.8 92.6 570.4 93.0 570.9 93.4 571.5 93.9 572.0 94.3 572.6 94.8 573.2 95.3 573.7 95.9 574.3 96.4 574.8 97.0 575.4 97.6 575.9 98.3 576.5 98.9 577.0 99.6 577.6 100.3 578.2 101.0 578.7 101.7 579.3 102.5 579.8 103.2 580.4 104.0 580.9 104.9 581.5 105.7 582.0 106.6 582.6 107.5 583.2 108.4 583.7 109.3 584.3 110.3 584.8 111.3 585.4 112.3 585.9 113.3 586.5 114.4 587.0 115.5 587.6 116.6 588.2 117.7 588.7 118.9 589.3 120.1 589.8 121.3 590.4 122.5 590.9 123.8 591.5 125.1 592.1 126.4 592.6 127.7 593.2 129.1 593.7 130.5 594.3 132.0 594.9 133.4 595.4 134.9 596.0 136.4 596.5 137.9 597.1 139.5 597.6 141.1 598.2 142.7 598.8 144.4 599.3 146.1 599.9 147.9 600.4 149.6 601.0 151.5 601.6 153.3 602.1 155.2 602.7 157.1 603.2 159.1 603.8 161.1 604.4 163.1 604.9 165.2 605.5 167.3 606.1 169.5 606.6 171.7 607.2 173.9 607.7 176.2 608.3 178.6 608.9 180.9 609.4 183.4 610.0 185.8 610.6 188.4 611.1 190.9 611.7 193.6 612.3 196.3 612.8 199.0 613.4 201.8 613.9 204.6 614.5 207.6 615.1 210.5 615.6 213.6 616.2 216.7 616.8 219.9 617.3 223.1 617.9 226.4 618.5 229.7 619.0 233.2 619.6 236.8 620.2 240.5 620.7 244.3 621.3 248.1 621.9 252.0 622.5 256.0 623.0 260.1 623.6 264.3 624.2 268.6 624.7 273.1 625.3 277.6 625.9 282.3 626.4 287.2 627.0 292.2 627.6 297.3 628.2 302.7 628.7 308.2 629.3 313.9 629.9 319.8 630.4 326.0 631.0 332.4 631.6 339.1 632.2 346.1 632.7 353.4 633.3 361.0 633.9 369.1 634.5 377.7 635.0 386.7 635.6 396.3 636.2 406.6 636.8 417.7 637.3 429.7 637.9 442.8 638.5 457.3 639.1 473.4 639.7 491.7 640.2 512.9 640.8 528.7 641.4 525.3 642.0 518.6 642.6 498.6 643.1 481.8 643.7 467.5 644.3 455.0 644.9 444.1 645.5 434.3 646.0 425.6 646.6 417.7 647.2 410.6 647.8 404.0 648.4 398.1 649.0 392.6 649.5 387.5 650.1 382.8 650.7 378.5 651.3 374.6 651.9 370.9 652.5 367.5 653.1 364.3 653.7 361.4 654.2 358.7 654.8 356.2 655.4 353.9 656.0 351.7 656.6 349.8 657.2 348.0 657.8 346.3 658.4 344.8 659.0 343.4 659.6 342.2 660.2 341.0 660.7 339.9 661.3 338.9 661.9 338.0 662.5 337.2 663.1 336.5 663.7 335.9 664.3 335.4 664.9 335.1 665.5 334.8 666.1 334.6 666.7 334.6 667.3 334.6 667.9 334.7 668.5 335.0 669.1 335.4 669.7 335.9 670.3 336.5 670.9 337.1 671.5 337.8 672.1 338.6 672.7 339.5 673.3 340.4 673.9 341.5 674.6 342.7 675.2 344.0 675.8 345.3 676.4 346.8 677.0 348.4 677.6 350.0 678.2 351.8 678.8 353.7 679.4 355.7 680.0 357.8 680.6 360.0 681.3 362.3 681.9 364.8 682.5 367.4 683.1 370.1 683.7 372.9 684.3 375.9 685.0 379.1 685.6 382.4 686.2 385.9 686.8 389.5 687.4 393.3 688.0 397.4 688.7 401.6 689.3 406.0 689.9 410.7 690.5 415.7 691.2 420.8 691.8 426.2 692.4 431.9 693.0 438.0 693.7 444.5 694.3 451.4 694.9 459.0 695.5 467.3 696.2 476.3 696.8 486.0 697.4 496.6 698.1 508.1 698.7 520.9 699.3 532.4 700.0 543.1 700.6 543.7 701.2 541.1 701.9 526.7 702.5 513.6 703.2 501.8 703.8 491.2 704.4 481.6 705.1 472.7 705.7 464.5 706.4 456.9 707.0 449.9 707.7 443.3 708.3 437.1 708.9 431.3 709.6 425.9 710.2 420.9 710.9 416.2 711.5 411.7 712.2 407.4 712.9 403.4 713.5 399.5 714.2 395.8 714.8 392.3 715.5 389.0 716.1 385.8 716.8 382.8 717.4 379.9 718.1 377.2 718.8 374.6 719.4 372.1 720.1 369.7 720.8 367.4 721.4 365.3 722.1 363.3 722.8 361.3 723.4 359.5 724.1 357.5 724.8 355.5 725.4 353.8 726.1 352.3 726.8 350.8 727.5 349.3 728.1 347.9 728.8 346.5 729.5 345.2 730.2 344.1 730.9 343.0 731.5 342.0 732.2 341.0 732.9 340.2 733.6 339.4 734.3 338.6 735.0 338.0 735.7 337.4 736.4 336.9 737.0 336.4 737.7 336.0 738.4 335.7 739.1 335.5 739.8 335.3 740.5 335.2 741.2 335.0 741.9 335.1 742.6 335.2 743.3 335.3 744.0 335.5 744.8 335.8 745.5 336.2 746.2 336.6 746.9 337.1 747.6 337.6 748.3 338.3 749.0 339.0 749.8 339.7 750.5 340.6 751.2 341.5 751.9 342.4 752.6 343.5 753.4 344.6 754.1 345.8 754.8 347.1 755.6 348.4 756.3 349.8 757.0 351.3 757.8 352.9 758.5 354.6 759.2 356.3 760.0 358.2 760.7 360.1 761.5 362.2 762.2 364.3 763.0 366.5 763.7 368.9 764.5 371.3 765.2 373.9 766.0 376.6 766.7 379.1 767.5 381.7 768.3 384.4 769.0 387.2 769.8 390.2 770.6 393.3 771.3 396.5 772.1 399.9 772.9 403.4 773.6 407.1 774.4 410.9 775.2 415.0 776.0 419.2 776.8 424.0 777.6 429.2 778.4 434.6 779.1 440.4 779.9 446.5 780.7 453.1 781.5 460.0 782.3 467.4 783.1 475.4 783.9 484.0 784.8 493.4 785.6 503.6 786.4 514.8 787.2 527.2 788.0 540.4 788.8 528.9 789.7 517.7 790.5 507.4 791.3 497.8 792.2 489.0 793.0 480.7 793.8 473.1 794.7 465.9 795.5 459.1 796.4 452.7 797.2 446.7 798.1 441.1 798.9 435.7 799.8 430.6 800.6 425.8 801.5 421.2 802.4 416.8 803.3 412.6 804.1 408.7 805.0 404.9 805.9 401.2 806.8 397.8 807.7 394.4 808.6 391.3 809.5 388.2 810.4 385.3 811.3 382.5 812.2 379.9 813.1 377.3 814.0 374.9 814.9 372.6 815.8 370.3 816.8 368.2 817.7 366.1 818.6 364.2 819.6 362.3 820.5 360.6 821.5 358.9 822.4 357.3 823.4 355.7 824.4 354.2 825.3 352.5 826.3 350.9 827.3 349.4 828.3 347.9 829.3 346.5 830.3 345.2 831.3 344.0 832.3 343.0 833.3 342.1 834.3 341.0 835.3 340.0 836.4 339.2 837.4 338.6 838.4 337.8 839.5 337.0 840.5 336.2 841.6 335.6 842.7 335.0 843.7 334.4 844.8 333.9 845.9 333.6 847.0 333.3 848.1 333.1 849.2 333.0 850.3 332.9 851.5 332.9 852.6 332.9 853.7 333.0 854.9 333.1 856.1 333.4 857.2 333.6 858.4 334.0 859.6 334.6 860.8 335.1 862.0 335.8 863.2 336.5 864.5 337.3 865.7 338.2 866.9 339.1 868.2 340.1 869.5 341.1 870.8 342.3 872.1 343.5 873.4 344.8 874.7 346.1 876.1 347.6 877.4 349.0 878.8 350.4 880.2 352.0 881.6 353.6 883.0 355.3 884.4 357.1 885.9 359.0 887.4 361.0 888.9 363.1 890.4 365.3 891.9 367.6 893.5 370.0 895.1 372.6 896.7 375.2 898.3 378.0 900.0 380.9 901.7 384.0 903.4 387.2 905.2 390.6 907.0 394.1 908.8 397.8 910.6 401.7 912.6 405.8 914.5 410.2 916.5 414.8 918.6 419.6 920.7 424.7 922.9 428.9 925.1 433.4 927.4 438.0 929.8 442.8 932.3 447.9 934.9 453.2 937.6 458.8 940.5 464.7 943.5 470.8 946.7 478.3 950.1 487.3 953.9 497.0 958.0 507.8 962.7 519.6 968.3 532.9 975.6 550.3 993.1 564.8"/>
<path d="M123.3 656.6 140.8 656.6 148.1 656.6 153.7 656.6 158.4 652.0 162.5 630.6 166.3 617.9 169.7 603.2 172.9 589.0 175.9 577.3 178.8 570.8 181.5 563.8 184.1 556.7 186.6 549.9 189.0 543.4 191.3 536.6 193.5 528.4 195.7 518.1 197.8 507.8 199.9 498.4 201.9 489.7 203.8 481.8 205.8 474.4 207.6 467.6 209.4 461.2 211.2 455.2 213.0 449.6 214.7 444.3 216.4 439.3 218.1 434.7 219.7 430.2 221.3 426.0 222.9 422.1 224.5 418.3 226.0 414.8 227.5 411.4 229.0 408.2 230.5 405.1 232.0 402.2 233.4 399.5 234.8 396.9 236.2 394.4 237.6 392.0 239.0 389.8 240.3 387.7 241.7 385.7 243.0 383.9 244.3 382.3 245.6 380.9 246.9 379.6 248.2 378.3 249.5 377.1 250.7 376.0 251.9 375.0 253.2 374.1 254.4 373.3 255.6 372.6 256.8 371.9 258.0 371.3 259.2 370.8 260.3 370.4 261.5 370.0 262.7 369.7 263.8 369.5 264.9 369.4 266.1 369.3 267.2 369.4 268.3 369.4 269.4 369.6 270.5 369.9 271.6 370.2 272.7 370.6 273.7 371.1 274.8 371.7 275.9 372.3 276.9 373.0 278.0 373.8 279.0 374.7 280.0 375.7 281.1 376.7 282.1 377.9 283.1 379.1 284.1 380.4 285.1 381.8 286.1 383.3 287.1 384.9 288.1 386.5 289.1 388.1 290.1 389.9 291.1 391.7 292.0 393.9 293.0 396.2 294.0 398.7 294.9 401.3 295.9 404.0 296.8 406.9 297.8 409.9 298.7 413.1 299.6 416.4 300.6 419.8 301.5 423.5 302.4 427.3 303.3 431.3 304.2 435.6 305.1 440.1 306.0 444.8 306.9 450.0 307.8 456.0 308.7 462.4 309.6 469.2 310.5 476.3 311.4 483.7 312.3 491.7 313.1 500.4 314.0 509.9 314.9 520.3 315.8 531.9 316.6 544.8 317.5 559.4 318.3 576.2 319.2 595.8 320.0 619.5 320.9 648.9 321.7 656.6 322.6 656.6 323.4 656.6 324.2 656.6 325.1 656.6 325.9 656.6 326.7 656.6 327.6 656.6 328.4 656.6 329.2 656.6 330.0 656.6 330.8 656.6 331.6 656.6 332.5 656.6 333.3 656.6 334.1 656.6 334.9 647.5 335.7 621.2 336.5 598.7 337.3 579.4 338.0 562.7 338.8 548.0 339.6 535.0 340.4 523.3 341.2 512.7 342.0 503.0 342.8 494.2 343.5 486.1 344.3 478.5 345.1 471.5 345.8 465.0 346.6 458.9 347.4 453.2 348.1 447.8 348.9 442.7 349.7 438.0 350.4 433.5 351.2 429.2 351.9 425.2 352.7 421.4 353.4 417.8 354.2 414.3 354.9 411.0 355.7 407.8 356.4 404.8 357.2 402.0 357.9 399.3 358.6 396.7 359.4 394.3 360.1 392.0 360.8 389.9 361.6 387.8 362.3 385.9 363.0 384.1 363.8 382.4 364.5 380.8 365.2 379.3 365.9 377.9 366.6 376.6 367.4 375.4 368.1 374.3 368.8 373.3 369.5 372.3 370.2 371.5 370.9 370.7 371.6 370.1 372.4 369.5 373.1 369.0 373.8 368.6 374.5 368.3 375.2 368.0 375.9 367.9 376.6 367.8 377.3 367.8 378.0 367.9 378.7 368.1 379.4 368.3 380.0 368.7 380.7 369.1 381.4 369.6 382.1 370.2 382.8 370.9 383.5 371.7 384.2 372.5 384.9 373.5 385.5 374.6 386.2 375.9 386.9 377.4 387.6 378.9 388.3 380.6 388.9 382.4 389.6 384.3 390.3 386.4 391.0 388.5 391.6 390.8 392.3 393.3 393.0 395.9 393.6 398.6 394.3 401.4 395.0 404.2 395.6 407.1 396.3 410.3 397.0 413.5 397.6 417.0 398.3 420.7 399.0 424.6 399.6 428.9 400.3 433.8 400.9 438.9 401.6 444.4 402.2 450.3 402.9 456.6 403.5 463.4 404.2 470.7 404.9 478.6 405.5 487.2 406.2 496.6 406.8 507.0 407.5 518.5 408.1 531.4 408.7 546.1 409.4 563.0 410.0 583.0 410.7 607.3 411.3 638.3 412.0 656.6 412.6 656.6 413.2 656.6 413.9 656.6 414.5 656.6 415.2 656.6 415.8 656.6 416.4 656.6 417.1 656.6 417.7 656.6 418.3 656.6 419.0 656.6 419.6 656.6 420.2 656.6 420.9 628.9 421.5 599.4 422.1 576.0 422.7 556.5 423.4 539.9 424.0 525.5 424.6 512.7 425.2 501.9 425.9 492.4 426.5 483.6 427.1 475.6 427.7 468.2 428.4 461.3 429.0 454.8 429.6 448.8 430.2 443.2 430.8 437.9 431.4 433.0 432.1 428.3 432.7 423.9 433.3 419.6 433.9 415.5 434.5 411.6 435.1 408.0 435.8 404.5 436.4 401.3 437.0 398.2 437.6 395.4 438.2 392.7 438.8 390.1 439.4 387.7 440.0 385.5 440.6 383.4 441.2 381.5 441.8 379.7 442.5 378.0 443.1 376.5 443.7 375.1 444.3 373.8 444.9 372.6 445.5 371.6 446.1 370.7 446.7 369.9 447.3 369.2 447.9 368.7 448.5 368.3 449.1 368.0 449.7 367.8 450.3 367.8 450.9 367.9 451.5 368.1 452.1 368.4 452.7 368.9 453.3 369.5 453.9 370.3 454.5 371.2 455.1 372.2 455.7 373.4 456.2 374.8 456.8 376.4 457.4 378.2 458.0 380.2 458.6 382.4 459.2 384.9 459.8 387.5 460.4 390.4 461.0 393.6 461.6 397.1 462.2 400.8 462.7 404.9 463.3 409.3 463.9 414.2 464.5 419.5 465.1 425.1 465.7 431.1 466.3 437.7 466.9 445.1 467.4 453.5 468.0 463.1 468.6 473.9 469.2 486.3 469.8 500.6 470.4 517.4 470.9 537.7 471.5 563.2 472.1 596.9 472.7 645.0 473.3 656.6 473.8 656.6 474.4 656.6 475.0 656.6 475.6 656.6 476.2 656.6 476.7 656.6 477.3 651.8 477.9 593.3 478.5 552.6 479.1 521.7 479.6 496.7 480.2 475.7 480.8 457.5 481.4 441.5 481.9 427.4 482.5 414.7 483.1 403.1 483.7 392.3 484.2 382.2 484.8 372.8 485.4 363.9 486.0 355.6 486.5 347.7 487.1 340.1 487.7 333.0 488.2 326.1 488.8 319.6 489.4 313.3 490.0 307.3 490.5 301.5 491.1 295.9 491.7 290.5 492.2 285.3 492.8 280.2 493.4 275.4 493.9 270.6 494.5 266.0 495.1 261.6 495.7 257.3 496.2 253.1 496.8 249.0 497.4 245.0 497.9 241.1 498.5 237.4 499.1 233.7 499.6 230.1 500.2 226.7 500.8 223.3 501.3 220.0 501.9 216.7 502.5 213.5 503.0 210.4 503.6 207.3 504.1 204.4 504.7 201.5 505.3 198.6 505.8 195.9 506.4 193.1 507.0 190.5 507.5 187.9 508.1 185.3 508.7 182.8 509.2 180.3 509.8 177.9 510.3 175.6 510.9 173.3 511.5 171.0 512.0 168.8 512.6 166.6 513.2 164.4 513.7 162.3 514.3 160.3 514.8 158.3 515.4 156.3 516.0 154.4 516.5 152.5 517.1 150.6 517.6 148.8 518.2 147.0 518.8 145.2 519.3 143.5 519.9 141.8 520.4 140.2 521.0 138.5 521.5 136.9 522.1 135.4 522.7 133.9 523.2 132.4 523.8 130.9 524.3 129.5 524.9 128.1 525.5 126.8 526.0 125.4 526.6 124.1 527.1 122.8 527.7 121.6 528.2 120.3 528.8 119.1 529.4 117.9 529.9 116.8 530.5 115.7 531.0 114.6 531.6 113.5 532.1 112.4 532.7 111.4 533.2 110.4 533.8 109.4 534.4 108.5 534.9 107.5 535.5 106.6 536.0 105.8 536.6 104.9 537.1 104.1 537.7 103.3 538.2 102.5 538.8 101.7 539.4 101.0 539.9 100.3 540.5 99.6 541.0 98.9 541.6 98.2 542.1 97.6 542.7 97.0 543.2 96.4 543.8 95.9 544.4 95.3 544.9 94.8 545.5 94.3 546.0 93.8 546.6 93.4 547.1 92.9 547.7 92.5 548.2 92.1 548.8 91.7 549.3 91.4 549.9 91.1 550.4 90.8 551.0 90.5 551.6 90.2 552.1 89.9 552.7 89.7 553.2 89.5 553.8 89.3 554.3 89.1 554.9 89.0 555.4 88.9 556.0 88.8 556.5 88.7 557.1 88.6 557.6 88.6 558.2 88.5 558.8 88.6 559.3 88.6 559.9 88.7 560.4 88.8 561.0 88.9 561.5 89.0 562.1 89.1 562.6 89.3 563.2 89.5 563.7 89.7 564.3 89.9 564.8 90.2 565.4 90.5 566.0 90.8 566.5 91.1 567.1 91.4 567.6 91.7 568.2 92.1 568.7 92.5 569.3 92.9 569.8 93.4 570.4 93.8 570.9 94.3 571.5 94.8 572.0 95.3 572.6 95.9 573.2 96.4 573.7 97.0 574.3 97.6 574.8 98.2 575.4 98.9 575.9 99.6 576.5 100.3 577.0 101.0 577.6 101.7 578.2 102.5 578.7 103.3 579.3 104.1 579.8 104.9 580.4 105.8 580.9 106.6 581.5 107.5 582.0 108.5 582.6 109.4 583.2 110.4 583.7 111.4 584.3 112.4 584.8 113.5 585.4 114.6 585.9 115.7 586.5 116.8 587.0 117.9 587.6 119.1 588.2 120.3 588.7 121.6 589.3 122.8 589.8 124.1 590.4 125.4 590.9 126.8 591.5 128.1 592.1 129.5 592.6 130.9 593.2 132.4 593.7 133.9 594.3 135.4 594.9 136.9 595.4 138.5 596.0 140.2 596.5 141.8 597.1 143.5 597.6 145.2 598.2 147.0 598.8 148.8 599.3 150.6 599.9 152.5 600.4 154.4 601.0 156.3 601.6 158.3 602.1 160.3 602.7 162.3 603.2 164.4 603.8 166.6 604.4 168.8 604.9 171.0 605.5 173.3 606.1 175.6 606.6 177.9 607.2 180.3 607.7 182.8 608.3 185.3 608.9 187.9 609.4 190.5 610.0 193.1 610.6 195.9 611.1 198.6 611.7 201.5 612.3 204.4 612.8 207.3 613.4 210.4 613.9 213.5 614.5 216.7 615.1 220.0 615.6 223.3 616.2 226.7 616.8 230.1 617.3 233.7 617.9 237.4 618.5 241.1 619.0 245.0 619.6 249.0 620.2 253.1 620.7 257.3 621.3 261.6 621.9 266.0 622.5 270.6 623.0 275.4 623.6 280.2 624.2 285.3 624.7 290.5 625.3 295.9 625.9 301.5 626.4 307.3 627.0 313.3 627.6 319.6 628.2 326.1 628.7 333.0 629.3 340.1 629.9 347.7 630.4 355.6 631.0 363.9 631.6 372.8 632.2 382.2 632.7 392.3 633.3 403.1 633.9 414.7 634.5 427.4 635.0 441.5 635.6 457.5 636.2 475.7 636.8 496.7 637.3 521.7 637.9 552.6 638.5 593.3 639.1 651.8 639.7 656.6 640.2 656.6 640.8 656.6 641.4 656.6 642.0 656.6 642.6 656.6 643.1 656.6 643.7 645.0 644.3 596.9 644.9 563.2 645.5 537.7 646.0 517.4 646.6 500.6 647.2 486.3 647.8 473.9 648.4 463.1 649.0 453.5 649.5 445.1 650.1 437.7 650.7 431.1 651.3 425.1 651.9 419.5 652.5 414.2 653.1 409.3 653.7 404.9 654.2 400.8 654.8 397.1 655.4 393.6 656.0 390.4 656.6 387.5 657.2 384.9 657.8 382.4 658.4 380.2 659.0 378.2 659.6 376.4 660.2 374.8 660.7 373.4 661.3 372.2 661.9 371.2 662.5 370.3 663.1 369.5 663.7 368.9 664.3 368.4 664.9 368.1 665.5 367.9 666.1 367.8 666.7 367.8 667.3 368.0 667.9 368.3 668.5 368.7 669.1 369.2 669.7 369.9 670.3 370.7 670.9 371.6 671.5 372.6 672.1 373.8 672.7 375.1 673.3 376.5 673.9 378.0 674.6 379.7 675.2 381.5 675.8 383.4 676.4 385.5 677.0 387.7 677.6 390.1 678.2 392.7 678.8 395.4 679.4 398.2 680.0 401.3 680.6 404.5 681.3 408.0 681.9 411.6 682.5 415.5 683.1 419.6 683.7 423.9 684.3 428.3 685.0 433.0 685.6 437.9 686.2 443.2 686.8 448.8 687.4 454.8 688.0 461.3 688.7 468.2 689.3 475.6 689.9 483.6 690.5 492.4 691.2 501.9 691.8 512.7 692.4 525.5 693.0 539.9 693.7 556.5 694.3 576.0 694.9 599.4 695.5 628.9 696.2 656.6 696.8 656.6 697.4 656.6 698.1 656.6 698.7 656.6 699.3 656.6 700.0 656.6 700.6 656.6 701.2 656.6 701.9 656.6 702.5 656.6 703.2 656.6 703.8 656.6 704.4 656.6 705.1 638.3 705.7 607.3 706.4 583.0 707.0 563.0 707.7 546.1 708.3 531.4 708.9 518.5 709.6 507.0 710.2 496.6 710.9 487.2 711.5 478.6 712.2 470.7 712.9 463.4 713.5 456.6 714.2 450.3 714.8 444.4 715.5 438.9 716.1 433.8 716.8 428.9 717.4 424.6 718.1 420.7 718.8 417.0 719.4 413.5 720.1 410.3 720.8 407.1 721.4 404.2 722.1 401.4 722.8 398.6 723.4 395.9 724.1 393.3 724.8 390.8 725.4 388.5 726.1 386.4 726.8 384.3 727.5 382.4 728.1 380.6 728.8 378.9 729.5 377.4 730.2 375.9 730.9 374.6 731.5 373.5 732.2 372.5 732.9 371.7 733.6 370.9 734.3 370.2 735.0 369.6 735.7 369.1 736.4 368.7 737.0 368.3 737.7 368.1 738.4 367.9 739.1 367.8 739.8 367.8 740.5 367.9 741.2 368.0 741.9 368.3 742.6 368.6 743.3 369.0 744.0 369.5 744.8 370.1 745.5 370.7 746.2 371.5 746.9 372.3 747.6 373.3 748.3 374.3 749.0 375.4 749.8 376.6 750.5 377.9 751.2 379.3 751.9 380.8 752.6 382.4 753.4 384.1 754.1 385.9 754.8 387.8 755.6 389.9 756.3 392.0 757.0 394.3 757.8 396.7 758.5 399.3 759.2 402.0 760.0 404.8 760.7 407.8 761.5 411.0 762.2 414.3 763.0 417.8 763.7 421.4 764.5 425.2 765.2 429.2 766.0 433.5 766.7 438.0 767.5 442.7 768.3 447.8 769.0 453.2 769.8 458.9 770.6 465.0 771.3 471.5 772.1 478.5 772.9 486.1 773.6 494.2 774.4 503.0 775.2 512.7 776.0 523.3 776.8 535.0 777.6 548.0 778.4 562.7 779.1 579.4 779.9 598.7 780.7 621.2 781.5 647.5 782.3 656.6 783.1 656.6 783.9 656.6 784.8 656.6 785.6 656.6 786.4 656.6 787.2 656.6 788.0 656.6 788.8 656.6 789.7 656.6 790.5 656.6 791.3 656.6 792.2 656.6 793.0 656.6 793.8 656.6 794.7 656.6 795.5 648.9 796.4 619.5 797.2 595.8 798.1 576.2 798.9 559.4 799.8 544.8 800.6 531.9 801.5 520.3 802.4 509.9 803.3 500.4 804.1 491.7 805.0 483.7 805.9 476.3 806.8 469.2 807.7 462.4 808.6 456.0 809.5 450.0 810.4 444.8 811.3 440.1 812.2 435.6 813.1 431.3 814.0 427.3 814.9 423.5 815.8 419.8 816.8 416.4 817.7 413.1 818.6 409.9 819.6 406.9 820.5 404.0 821.5 401.3 822.4 398.7 823.4 396.2 824.4 393.9 825.3 391.7 826.3 389.9 827.3 388.1 828.3 386.5 829.3 384.9 830.3 383.3 831.3 381.8 832.3 380.4 833.3 379.1 834.3 377.9 835.3 376.7 836.4 375.7 837.4 374.7 838.4 373.8 839.5 373.0 840.5 372.3 841.6 371.7 842.7 371.1 843.7 370.6 844.8 370.2 845.9 369.9 847.0 369.6 848.1 369.4 849.2 369.4 850.3 369.3 851.5 369.4 852.6 369.5 853.7 369.7 854.9 370.0 856.1 370.4 857.2 370.8 858.4 371.3 859.6 371.8 860.8 372.3 862.0 373.0 863.2 373.7 864.5 374.6 865.7 375.5 866.9 376.5 868.2 377.5 869.5 378.7 870.8 379.9 872.1 381.3 873.4 382.7 874.7 384.4 876.1 386.2 877.4 388.2 878.8 390.3 880.2 392.4 881.6 394.7 883.0 397.1 884.4 399.7 885.9 402.4 887.4 405.2 888.9 408.1 890.4 411.2 891.9 414.5 893.5 417.9 895.1 421.5 896.7 425.4 898.3 429.6 900.0 434.1 901.7 438.9 903.4 443.9 905.2 449.3 907.0 455.0 908.8 461.1 910.6 467.6 912.6 474.6 914.5 482.1 916.5 490.2 918.6 499.0 920.7 508.7 922.9 519.3 925.1 531.1 927.4 544.2 929.8 558.5 932.3 574.8 934.9 593.9 937.6 617.4 940.5 647.3 943.5 656.6 946.7 656.6 950.1 656.6 953.9 656.6 958.0 656.6 962.7 656.6 968.3 656.6 975.6 656.6 993.1 656.6"/>
</g><g stroke="#0000ff" stroke-width="5" stroke-dasharray="6.3 2.44">
<path d="M123.3 539.9 140.8 556.7 148.1 537.8 153.7 523.5 158.4 516.4 162.5 508.3 166.3 496.0 169.7 485.1 172.9 475.3 175.9 466.3 178.8 458.0 181.5 450.5 184.1 444.4 186.6 438.6 189.0 433.3 191.3 428.2 193.5 423.4 195.7 418.8 197.8 414.4 199.9 410.3 201.9 406.3 203.8 402.5 205.8 398.9 207.6 395.5 209.4 392.2 211.2 389.0 213.0 386.0 214.7 383.1 216.4 380.4 218.1 377.7 219.7 375.2 221.3 372.8 222.9 370.4 224.5 368.2 226.0 366.1 227.5 364.0 229.0 362.1 230.5 360.3 232.0 358.5 233.4 356.8 234.8 355.2 236.2 353.7 237.6 352.2 239.0 350.9 240.3 349.6 241.7 348.4 243.0 347.2 244.3 346.2 245.6 345.1 246.9 344.2 248.2 343.3 249.5 342.5 250.7 341.8 251.9 341.2 253.2 340.6 254.4 340.1 255.6 339.6 256.8 339.2 258.0 338.9 259.2 338.6 260.3 338.3 261.5 338.2 262.7 338.0 263.8 338.0 264.9 338.0 266.1 338.0 267.2 338.1 268.3 338.3 269.4 338.6 270.5 338.9 271.6 339.2 272.7 339.7 273.7 340.2 274.8 340.7 275.9 341.3 276.9 342.0 278.0 342.7 279.0 343.5 280.0 344.3 281.1 345.2 282.1 346.1 283.1 346.9 284.1 347.8 285.1 348.7 286.1 349.8 287.1 350.9 288.1 352.1 289.1 353.3 290.1 354.6 291.1 356.0 292.0 357.5 293.0 359.1 294.0 360.7 294.9 362.5 295.9 364.3 296.8 366.2 297.8 368.2 298.7 370.3 299.6 372.5 300.6 374.8 301.5 377.2 302.4 379.8 303.3 382.4 304.2 385.2 305.1 388.1 306.0 391.1 306.9 394.2 307.8 397.6 308.7 401.0 309.6 404.7 310.5 408.5 311.4 412.5 312.3 416.7 313.1 421.1 314.0 425.8 314.9 430.7 315.8 435.9 316.6 441.4 317.5 447.2 318.3 453.3 319.2 459.9 320.0 466.9 320.9 474.4 321.7 482.5 322.6 491.2 323.4 500.7 324.2 511.0 325.1 522.4 325.9 535.1 326.7 549.4 327.6 565.7 328.4 561.8 329.2 545.5 330.0 531.1 330.8 518.4 331.6 506.9 332.5 496.5 333.3 487.0 334.1 478.2 334.9 470.1 335.7 462.6 336.5 455.5 337.3 449.0 338.0 442.8 338.8 437.0 339.6 431.5 340.4 426.3 341.2 421.4 342.0 417.1 342.8 412.9 343.5 408.9 344.3 405.1 345.1 401.5 345.8 398.0 346.6 394.7 347.4 391.5 348.1 388.5 348.9 385.6 349.7 382.8 350.4 380.1 351.2 377.4 351.9 374.8 352.7 372.2 353.4 369.8 354.2 367.5 354.9 365.3 355.7 363.3 356.4 361.3 357.2 359.4 357.9 357.6 358.6 355.9 359.4 354.2 360.1 352.7 360.8 351.2 361.6 349.8 362.3 348.5 363.0 347.3 363.8 346.2 364.5 345.1 365.2 344.1 365.9 343.2 366.6 342.3 367.4 341.5 368.1 340.8 368.8 340.1 369.5 339.5 370.2 339.0 370.9 338.6 371.6 338.3 372.4 338.0 373.1 337.9 373.8 337.8 374.5 337.7 375.2 337.8 375.9 337.9 376.6 338.1 377.3 338.3 378.0 338.6 378.7 339.0 379.4 339.4 380.0 339.9 380.7 340.5 381.4 341.2 382.1 341.9 382.8 342.7 383.5 343.6 384.2 344.6 384.9 345.6 385.5 346.8 386.2 348.0 386.9 349.3 387.6 350.6 388.3 352.1 388.9 353.6 389.6 354.8 390.3 356.2 391.0 357.7 391.6 359.2 392.3 360.8 393.0 362.6 393.6 364.4 394.3 366.3 395.0 368.4 395.6 370.5 396.3 372.8 397.0 375.1 397.6 377.6 398.3 380.3 399.0 383.0 399.6 385.9 400.3 388.9 400.9 392.1 401.6 395.5 402.2 399.1 402.9 403.0 403.5 407.0 404.2 411.2 404.9 415.7 405.5 420.4 406.2 425.4 406.8 430.7 407.5 436.3 408.1 442.4 408.7 448.8 409.4 455.7 410.0 463.2 410.7 471.2 411.3 479.9 412.0 489.3 412.6 499.7 413.2 511.1 413.9 523.9 414.5 538.3 415.2 554.4 415.8 562.1 416.4 572.2 417.1 563.4 417.7 545.8 418.3 530.5 419.0 517.0 419.6 504.9 420.2 493.9 420.9 483.9 421.5 474.8 422.1 466.3 422.7 458.4 423.4 451.1 424.0 444.3 424.6 437.9 425.2 431.8 425.9 426.0 426.5 420.5 427.1 415.3 427.7 410.4 428.4 405.7 429.0 401.3 429.6 397.1 430.2 393.1 430.8 389.3 431.4 385.7 432.1 382.2 432.7 379.0 433.3 375.9 433.9 372.9 434.5 370.1 435.1 367.4 435.8 364.8 436.4 362.4 437.0 360.1 437.6 358.0 438.2 355.9 438.8 354.0 439.4 352.1 440.0 350.4 440.6 348.8 441.2 347.3 441.8 345.8 442.5 344.5 443.1 343.3 443.7 342.2 444.3 341.2 444.9 340.4 445.5 339.6 446.1 339.0 446.7 338.4 447.3 337.9 447.9 337.5 448.5 337.2 449.1 337.1 449.7 337.0 450.3 337.0 450.9 337.2 451.5 337.4 452.1 337.8 452.7 338.2 453.3 338.8 453.9 339.5 454.5 340.2 455.1 341.1 455.7 342.1 456.2 343.3 456.8 344.5 457.4 345.8 458.0 347.2 458.6 348.7 459.2 350.4 459.8 352.3 460.4 354.3 461.0 356.6 461.6 359.0 462.2 361.6 462.7 364.4 463.3 367.4 463.9 370.7 464.5 374.2 465.1 378.0 465.7 382.1 466.3 386.6 466.9 391.5 467.4 396.7 468.0 402.4 468.6 408.7 469.2 415.5 469.8 423.0 470.4 431.3 470.9 440.5 471.5 450.8 472.1 462.6 472.7 476.2 473.3 492.0 473.8 510.9 474.4 534.1 475.0 558.2 475.6 548.0 476.2 526.7 476.7 503.1 477.3 483.1 477.9 465.6 478.5 450.1 479.1 436.2 479.6 423.5 480.2 411.9 480.8 401.1 481.4 391.1 481.9 381.7 482.5 372.8 483.1 364.5 483.7 356.6 484.2 349.0 484.8 341.9 485.4 335.0 486.0 328.4 486.5 322.1 487.1 316.1 487.7 310.2 488.2 304.6 488.8 299.2 489.4 293.9 490.0 288.8 490.5 283.9 491.1 279.1 491.7 274.5 492.2 270.0 492.8 265.6 493.4 261.3 493.9 257.2 494.5 253.2 495.1 249.2 495.7 245.3 496.2 241.5 496.8 237.8 497.4 234.2 497.9 230.7 498.5 227.3 499.1 224.0 499.6 220.7 500.2 217.5 500.8 214.4 501.3 211.3 501.9 208.4 502.5 205.5 503.0 202.6 503.6 199.8 504.1 197.1 504.7 194.4 505.3 191.8 505.8 189.2 506.4 186.7 507.0 184.2 507.5 181.8 508.1 179.4 508.7 177.1 509.2 174.8 509.8 172.6 510.3 170.4 510.9 168.2 511.5 166.1 512.0 164.0 512.6 161.9 513.2 159.9 513.7 157.9 514.3 156.0 514.8 154.0 515.4 152.2 516.0 150.3 516.5 148.5 517.1 146.8 517.6 145.0 518.2 143.3 518.8 141.7 519.3 140.0 519.9 138.4 520.4 136.8 521.0 135.3 521.5 133.8 522.1 132.3 522.7 130.9 523.2 129.4 523.8 128.0 524.3 126.7 524.9 125.3 525.5 124.0 526.0 122.8 526.6 121.5 527.1 120.3 527.7 119.1 528.2 117.9 528.8 116.8 529.4 115.6 529.9 114.5 530.5 113.5 531.0 112.4 531.6 111.4 532.1 110.4 532.7 109.4 533.2 108.5 533.8 107.6 534.4 106.7 534.9 105.8 535.5 104.9 536.0 104.1 536.6 103.3 537.1 102.5 537.7 101.7 538.2 101.0 538.8 100.3 539.4 99.6 539.9 98.9 540.5 98.3 541.0 97.6 541.6 97.0 542.1 96.4 542.7 95.9 543.2 95.3 543.8 94.8 544.4 94.3 544.9 93.8 545.5 93.4 546.0 92.9 546.6 92.5 547.1 92.1 547.7 91.8 548.2 91.4 548.8 91.1 549.3 90.8 549.9 90.5 550.4 90.2 551.0 89.9 551.6 89.7 552.1 89.5 552.7 89.3 553.2 89.1 553.8 89.0 554.3 88.9 554.9 88.8 555.4 88.7 556.0 88.6 556.5 88.6 557.1 88.5 557.6 88.5 558.2 88.5 558.8 88.5 559.3 88.5 559.9 88.6 560.4 88.6 561.0 88.7 561.5 88.8 562.1 88.9 562.6 89.0 563.2 89.1 563.7 89.3 564.3 89.5 564.8 89.7 565.4 89.9 566.0 90.2 566.5 90.4 567.1 90.7 567.6 91.0 568.2 91.4 568.7 91.7 569.3 92.1 569.8 92.5 570.4 92.9 570.9 93.3 571.5 93.8 572.0 94.2 572.6 94.7 573.2 95.2 573.7 95.8 574.3 96.3 574.8 96.9 575.4 97.5 575.9 98.1 576.5 98.8 577.0 99.4 577.6 100.1 578.2 100.8 578.7 101.6 579.3 102.3 579.8 103.1 580.4 103.9 580.9 104.7 581.5 105.6 582.0 106.4 582.6 107.3 583.2 108.2 583.7 109.2 584.3 110.1 584.8 111.1 585.4 112.1 585.9 113.1 586.5 114.2 587.0 115.3 587.6 116.4 588.2 117.5 588.7 118.7 589.3 119.8 589.8 121.0 590.4 122.3 590.9 123.5 591.5 124.8 592.1 126.1 592.6 127.5 593.2 128.9 593.7 130.3 594.3 131.7 594.9 133.1 595.4 134.6 596.0 136.1 596.5 137.7 597.1 139.2 597.6 140.9 598.2 142.5 598.8 144.2 599.3 145.9 599.9 147.7 600.4 149.4 601.0 151.3 601.6 153.1 602.1 155.0 602.7 156.9 603.2 158.9 603.8 160.9 604.4 162.9 604.9 165.0 605.5 167.1 606.1 169.2 606.6 171.4 607.2 173.6 607.7 175.9 608.3 178.2 608.9 180.5 609.4 182.9 610.0 185.4 610.6 187.8 611.1 190.4 611.7 193.0 612.3 195.6 612.8 198.3 613.4 201.0 613.9 203.9 614.5 206.7 615.1 209.6 615.6 212.6 616.2 215.7 616.8 218.9 617.3 222.1 617.9 225.3 618.5 228.6 619.0 232.1 619.6 235.7 620.2 239.3 620.7 243.0 621.3 246.8 621.9 250.7 622.5 254.7 623.0 258.7 623.6 262.9 624.2 267.1 624.7 271.5 625.3 276.0 625.9 280.6 626.4 285.4 627.0 290.3 627.6 295.4 628.2 300.6 628.7 306.0 629.3 311.7 629.9 317.5 630.4 323.5 631.0 329.8 631.6 336.3 632.2 343.1 632.7 350.2 633.3 357.7 633.9 365.6 634.5 373.8 635.0 382.6 635.6 391.9 636.2 401.8 636.8 412.4 637.3 423.8 637.9 436.2 638.5 449.9 639.1 464.9 639.7 481.8 640.2 501.2 640.8 515.4 641.4 521.3 642.0 507.8 642.6 489.0 643.1 473.2 643.7 459.6 644.3 447.8 644.9 437.4 645.5 428.2 646.0 419.9 646.6 412.4 647.2 405.5 647.8 399.3 648.4 393.5 649.0 388.2 649.5 383.4 650.1 378.8 650.7 374.6 651.3 370.9 651.9 367.3 652.5 364.0 653.1 360.9 653.7 358.1 654.2 355.4 654.8 353.0 655.4 350.7 656.0 348.6 656.6 346.7 657.2 345.0 657.8 343.4 658.4 341.9 659.0 340.6 659.6 339.4 660.2 338.2 660.7 337.1 661.3 336.1 661.9 335.3 662.5 334.5 663.1 333.8 663.7 333.2 664.3 332.8 664.9 332.4 665.5 332.1 666.1 332.0 666.7 331.9 667.3 332.0 667.9 332.1 668.5 332.3 669.1 332.7 669.7 333.2 670.3 333.8 670.9 334.4 671.5 335.0 672.1 335.8 672.7 336.7 673.3 337.8 673.9 338.9 674.6 340.2 675.2 341.5 675.8 342.9 676.4 344.4 677.0 346.1 677.6 347.8 678.2 349.6 678.8 351.5 679.4 353.6 680.0 355.7 680.6 358.0 681.3 360.4 681.9 362.9 682.5 365.6 683.1 368.3 683.7 371.2 684.3 374.3 685.0 377.5 685.6 380.9 686.2 384.4 686.8 388.1 687.4 392.0 688.0 396.0 688.7 400.3 689.3 404.9 689.9 409.6 690.5 414.6 691.2 419.8 691.8 425.2 692.4 431.0 693.0 437.0 693.7 443.5 694.3 450.3 694.9 457.8 695.5 465.7 696.2 474.3 696.8 483.6 697.4 493.7 698.1 504.8 698.7 516.9 699.3 529.6 700.0 534.7 700.6 528.6 701.2 526.4 701.9 513.6 702.5 501.8 703.2 491.1 703.8 481.4 704.4 472.5 705.1 464.2 705.7 456.6 706.4 449.5 707.0 442.9 707.7 436.7 708.3 430.8 708.9 425.3 709.6 420.2 710.2 415.4 710.9 410.9 711.5 406.6 712.2 402.5 712.9 398.6 713.5 394.9 714.2 391.4 714.8 388.0 715.5 384.9 716.1 381.9 716.8 379.1 717.4 376.4 718.1 373.8 718.8 371.4 719.4 369.1 720.1 366.8 720.8 364.7 721.4 362.7 722.1 360.8 722.8 359.0 723.4 357.3 724.1 355.6 724.8 353.9 725.4 352.5 726.1 351.1 726.8 349.8 727.5 348.5 728.1 347.1 728.8 345.6 729.5 344.3 730.2 343.0 730.9 341.8 731.5 340.7 732.2 339.7 732.9 338.8 733.6 337.9 734.3 337.1 735.0 336.3 735.7 335.7 736.4 335.1 737.0 334.6 737.7 334.1 738.4 333.7 739.1 333.4 739.8 333.1 740.5 333.0 741.2 332.8 741.9 332.8 742.6 332.8 743.3 332.8 744.0 333.0 744.8 333.2 745.5 333.5 746.2 333.9 746.9 334.4 747.6 334.9 748.3 335.5 749.0 336.2 749.8 337.0 750.5 337.8 751.2 338.7 751.9 339.6 752.6 340.6 753.4 341.7 754.1 342.9 754.8 344.1 755.6 345.4 756.3 346.8 757.0 348.3 757.8 349.8 758.5 351.4 759.2 353.1 760.0 354.9 760.7 356.8 761.5 358.8 762.2 360.9 763.0 363.0 763.7 365.3 764.5 367.7 765.2 370.2 766.0 372.8 766.7 375.2 767.5 377.7 768.3 380.3 769.0 383.1 769.8 385.9 770.6 388.9 771.3 392.0 772.1 395.3 772.9 398.7 773.6 402.2 774.4 405.9 775.2 409.8 776.0 414.0 776.8 418.6 777.6 423.6 778.4 428.8 779.1 434.3 779.9 440.1 780.7 446.3 781.5 452.8 782.3 459.9 783.1 467.4 783.9 475.4 784.8 484.1 785.6 493.5 786.4 503.8 787.2 515.1 788.0 527.5 788.8 525.6 789.7 514.1 790.5 503.6 791.3 494.0 792.2 485.2 793.0 477.0 793.8 469.3 794.7 462.2 795.5 455.5 796.4 449.2 797.2 443.2 798.1 437.6 798.9 432.3 799.8 427.3 800.6 422.5 801.5 418.0 802.4 413.6 803.3 409.5 804.1 405.6 805.0 401.8 805.9 398.2 806.8 394.8 807.7 391.5 808.6 388.4 809.5 385.4 810.4 382.5 811.3 379.8 812.2 377.1 813.1 374.6 814.0 372.2 814.9 369.9 815.8 367.7 816.8 365.6 817.7 363.6 818.6 361.7 819.6 359.8 820.5 358.1 821.5 356.4 822.4 354.8 823.4 353.3 824.4 351.9 825.3 350.4 826.3 349.0 827.3 347.7 828.3 346.5 829.3 345.3 830.3 344.2 831.3 343.2 832.3 342.3 833.3 341.5 834.3 340.6 835.3 339.8 836.4 338.9 837.4 338.2 838.4 337.4 839.5 336.6 840.5 335.9 841.6 335.3 842.7 334.7 843.7 334.2 844.8 333.7 845.9 333.3 847.0 333.0 848.1 332.7 849.2 332.5 850.3 332.4 851.5 332.3 852.6 332.3 853.7 332.3 854.9 332.4 856.1 332.6 857.2 332.8 858.4 333.1 859.6 333.5 860.8 334.0 862.0 334.6 863.2 335.2 864.5 335.9 865.7 336.7 866.9 337.5 868.2 338.4 869.5 339.3 870.8 340.4 872.1 341.4 873.4 342.6 874.7 343.8 876.1 345.1 877.4 346.5 878.8 347.9 880.2 349.4 881.6 351.0 883.0 352.7 884.4 354.5 885.9 356.3 887.4 358.3 888.9 360.3 890.4 362.5 891.9 364.7 893.5 367.1 895.1 369.5 896.7 372.1 898.3 374.8 900.0 377.6 901.7 380.6 903.4 383.6 905.2 386.9 907.0 390.3 908.8 393.8 910.6 397.6 912.6 401.5 914.5 405.6 916.5 410.0 918.6 414.6 920.7 419.4 922.9 423.3 925.1 427.5 927.4 431.8 929.8 436.3 932.3 441.0 934.9 446.0 937.6 451.2 940.5 456.6 943.5 462.2 946.7 469.0 950.1 477.0 953.9 485.6 958.0 494.9 962.7 504.9 968.3 516.1 975.6 530.5 993.1 536.5" stroke-dashoffset="0.0"/>
<path d="M123.3 656.6 140.8 656.6 148.1 656.6 153.7 656.6 158.4 656.6 162.5 656.6 166.3 656.6 169.7 656.6 172.9 656.6 175.9 652.0 178.8 638.3 181.5 620.6 184.1 602.8 186.6 586.2 189.0 571.1 191.3 556.4 193.5 543.4 195.7 531.8 197.8 520.2 199.9 509.8 201.9 500.3 203.8 491.6 205.8 483.7 207.6 476.3 209.4 469.4 211.2 463.0 213.0 457.0 214.7 451.4 216.4 446.1 218.1 441.2 219.7 436.5 221.3 432.1 222.9 427.9 224.5 424.0 226.0 420.2 227.5 416.7 229.0 413.3 230.5 410.1 232.0 407.1 233.4 404.3 234.8 401.5 236.2 399.0 237.6 396.5 239.0 394.2 240.3 392.0 241.7 389.9 243.0 388.1 244.3 386.5 245.6 385.0 246.9 383.6 248.2 382.3 249.5 381.1 250.7 379.9 251.9 378.9 253.2 378.0 254.4 377.1 255.6 376.3 256.8 375.6 258.0 375.0 259.2 374.5 260.3 374.1 261.5 373.7 262.7 373.4 263.8 373.2 264.9 373.1 266.1 373.0 267.2 373.0 268.3 373.1 269.4 373.3 270.5 373.6 271.6 373.9 272.7 374.3 273.7 374.8 274.8 375.4 275.9 376.1 276.9 376.8 278.0 377.6 279.0 378.5 280.0 379.5 281.1 380.6 282.1 381.8 283.1 383.1 284.1 384.4 285.1 385.9 286.1 387.5 287.1 389.1 288.1 390.8 289.1 392.5 290.1 394.2 291.1 396.1 292.0 398.4 293.0 400.9 294.0 403.4 294.9 406.1 295.9 409.0 296.8 412.0 297.8 415.2 298.7 418.5 299.6 421.9 300.6 425.5 301.5 429.3 302.4 433.4 303.3 437.6 304.2 442.1 305.1 446.9 306.0 452.0 306.9 457.5 307.8 463.9 308.7 470.7 309.6 478.1 310.5 485.7 311.4 493.8 312.3 502.5 313.1 512.1 314.0 522.6 314.9 534.3 315.8 547.4 316.6 562.3 317.5 579.4 318.3 599.6 319.2 624.1 320.0 655.2 320.9 656.6 321.7 656.6 322.6 656.6 323.4 656.6 324.2 656.6 325.1 656.6 325.9 656.6 326.7 656.6 327.6 656.6 328.4 656.6 329.2 656.6 330.0 656.6 330.8 656.6 331.6 656.6 332.5 656.6 333.3 656.6 334.1 656.6 334.9 656.6 335.7 645.4 336.5 615.8 337.3 592.2 338.0 572.6 338.8 556.0 339.6 541.5 340.4 528.7 341.2 517.2 342.0 506.9 342.8 497.5 343.5 488.9 344.3 480.9 345.1 473.6 345.8 466.7 346.6 460.5 347.4 454.7 348.1 449.2 348.9 444.1 349.7 439.3 350.4 434.7 351.2 430.5 351.9 426.4 352.7 422.5 353.4 418.9 354.2 415.5 354.9 412.2 355.7 409.1 356.4 406.2 357.2 403.4 357.9 400.7 358.6 398.2 359.4 395.9 360.1 393.6 360.8 391.5 361.6 389.5 362.3 387.6 363.0 385.9 363.8 384.2 364.5 382.6 365.2 381.2 365.9 379.8 366.6 378.6 367.4 377.4 368.1 376.3 368.8 375.3 369.5 374.4 370.2 373.6 370.9 372.9 371.6 372.3 372.4 371.7 373.1 371.3 373.8 370.9 374.5 370.6 375.2 370.4 375.9 370.3 376.6 370.2 377.3 370.3 378.0 370.4 378.7 370.6 379.4 370.9 380.0 371.3 380.7 371.7 381.4 372.3 382.1 372.9 382.8 373.6 383.5 374.5 384.2 375.4 384.9 376.4 385.5 377.5 386.2 378.6 386.9 379.9 387.6 381.3 388.3 382.8 388.9 384.4 389.6 386.1 390.3 388.0 391.0 389.9 391.6 392.0 392.3 394.2 393.0 396.5 393.6 398.9 394.3 401.6 395.0 404.6 395.6 407.8 396.3 411.2 397.0 414.9 397.6 418.7 398.3 422.8 399.0 427.1 399.6 431.7 400.3 436.6 400.9 441.8 401.6 447.4 402.2 453.3 402.9 459.7 403.5 466.5 404.2 473.9 404.9 481.9 405.5 490.7 406.2 500.2 406.8 510.7 407.5 522.4 408.1 535.5 408.7 550.4 409.4 567.6 410.0 587.9 410.7 612.3 411.3 643.8 412.0 656.6 412.6 656.6 413.2 656.6 413.9 656.6 414.5 656.6 415.2 656.6 415.8 656.6 416.4 656.6 417.1 656.6 417.7 656.6 418.3 656.6 419.0 656.6 419.6 656.6 420.2 656.6 420.9 656.6 421.5 628.7 422.1 599.4 422.7 576.0 423.4 556.7 424.0 540.1 424.6 525.8 425.2 513.8 425.9 503.2 426.5 493.7 427.1 484.9 427.7 476.9 428.4 469.5 429.0 462.6 429.6 456.2 430.2 450.2 430.8 444.6 431.4 439.4 432.1 434.5 432.7 429.9 433.3 425.3 433.9 421.0 434.5 416.9 435.1 413.1 435.8 409.5 436.4 406.2 437.0 403.0 437.6 400.0 438.2 397.2 438.8 394.5 439.4 392.1 440.0 389.7 440.6 387.6 441.2 385.6 441.8 383.7 442.5 382.0 443.1 380.4 443.7 378.9 444.3 377.6 444.9 376.4 445.5 375.3 446.1 374.4 446.7 373.6 447.3 372.9 447.9 372.3 448.5 371.9 449.1 371.6 449.7 371.4 450.3 371.4 450.9 371.5 451.5 371.7 452.1 372.1 452.7 372.6 453.3 373.2 453.9 374.0 454.5 374.9 455.1 376.0 455.7 377.2 456.2 378.7 456.8 380.3 457.4 382.1 458.0 384.2 458.6 386.5 459.2 389.1 459.8 391.8 460.4 394.9 461.0 398.1 461.6 401.7 462.2 405.6 462.7 409.9 463.3 414.6 463.9 419.6 464.5 425.2 465.1 431.1 465.7 437.4 466.3 444.4 466.9 452.2 467.4 461.2 468.0 471.5 468.6 483.1 469.2 496.5 469.8 512.2 470.4 531.0 470.9 554.1 471.5 584.0 472.1 625.5 472.7 656.6 473.3 656.6 473.8 656.6 474.4 656.6 475.0 656.6 475.6 656.6 476.2 656.6 476.7 656.6 477.3 656.6 477.9 621.0 478.5 571.5 479.1 535.8 479.6 507.9 480.2 485.0 480.8 465.5 481.4 448.4 481.9 433.5 482.5 420.1 483.1 407.6 483.7 396.2 484.2 385.6 484.8 375.7 485.4 366.5 486.0 357.8 486.5 349.6 487.1 341.9 487.7 334.5 488.2 327.5 488.8 320.8 489.4 314.4 490.0 308.2 490.5 302.3 491.1 296.7 491.7 291.2 492.2 285.9 492.8 280.8 493.4 275.9 493.9 271.1 494.5 266.5 495.1 262.0 495.7 257.6 496.2 253.4 496.8 249.3 497.4 245.3 497.9 241.4 498.5 237.6 499.1 233.9 499.6 230.3 500.2 226.8 500.8 223.3 501.3 220.0 501.9 216.8 502.5 213.6 503.0 210.5 503.6 207.5 504.1 204.5 504.7 201.6 505.3 198.8 505.8 196.0 506.4 193.3 507.0 190.7 507.5 188.1 508.1 185.5 508.7 183.0 509.2 180.6 509.8 178.2 510.3 175.8 510.9 173.5 511.5 171.3 512.0 169.0 512.6 166.9 513.2 164.7 513.7 162.6 514.3 160.6 514.8 158.6 515.4 156.6 516.0 154.7 516.5 152.8 517.1 150.9 517.6 149.1 518.2 147.3 518.8 145.6 519.3 143.9 519.9 142.2 520.4 140.5 521.0 138.9 521.5 137.3 522.1 135.8 522.7 134.2 523.2 132.7 523.8 131.3 524.3 129.8 524.9 128.4 525.5 127.1 526.0 125.7 526.6 124.4 527.1 123.1 527.7 121.8 528.2 120.6 528.8 119.4 529.4 118.2 529.9 117.1 530.5 115.9 531.0 114.8 531.6 113.7 532.1 112.7 532.7 111.7 533.2 110.6 533.8 109.7 534.4 108.7 534.9 107.8 535.5 106.9 536.0 106.0 536.6 105.1 537.1 104.3 537.7 103.5 538.2 102.7 538.8 101.9 539.4 101.2 539.9 100.4 540.5 99.7 541.0 99.1 541.6 98.4 542.1 97.8 542.7 97.2 543.2 96.6 543.8 96.0 544.4 95.5 544.9 94.9 545.5 94.4 546.0 93.9 546.6 93.5 547.1 93.0 547.7 92.6 548.2 92.2 548.8 91.8 549.3 91.5 549.9 91.1 550.4 90.8 551.0 90.5 551.6 90.2 552.1 90.0 552.7 89.8 553.2 89.5 553.8 89.4 554.3 89.2 554.9 89.0 555.4 88.9 556.0 88.8 556.5 88.7 557.1 88.6 557.6 88.6 558.2 88.5 558.8 88.6 559.3 88.6 559.9 88.7 560.4 88.8 561.0 88.9 561.5 89.0 562.1 89.2 562.6 89.4 563.2 89.5 563.7 89.8 564.3 90.0 564.8 90.2 565.4 90.5 566.0 90.8 566.5 91.1 567.1 91.5 567.6 91.8 568.2 92.2 568.7 92.6 569.3 93.0 569.8 93.5 570.4 93.9 570.9 94.4 571.5 94.9 572.0 95.5 572.6 96.0 573.2 96.6 573.7 97.2 574.3 97.8 574.8 98.4 575.4 99.1 575.9 99.7 576.5 100.4 577.0 101.2 577.6 101.9 578.2 102.7 578.7 103.5 579.3 104.3 579.8 105.1 580.4 106.0 580.9 106.9 581.5 107.8 582.0 108.7 582.6 109.7 583.2 110.6 583.7 111.7 584.3 112.7 584.8 113.7 585.4 114.8 585.9 115.9 586.5 117.1 587.0 118.2 587.6 119.4 588.2 120.6 588.7 121.8 589.3 123.1 589.8 124.4 590.4 125.7 590.9 127.1 591.5 128.4 592.1 129.8 592.6 131.3 593.2 132.7 593.7 134.2 594.3 135.8 594.9 137.3 595.4 138.9 596.0 140.5 596.5 142.2 597.1 143.9 597.6 145.6 598.2 147.3 598.8 149.1 599.3 150.9 599.9 152.8 600.4 154.7 601.0 156.6 601.6 158.6 602.1 160.6 602.7 162.6 603.2 164.7 603.8 166.9 604.4 169.0 604.9 171.3 605.5 173.5 606.1 175.8 606.6 178.2 607.2 180.6 607.7 183.0 608.3 185.5 608.9 188.1 609.4 190.7 610.0 193.3 610.6 196.0 611.1 198.8 611.7 201.6 612.3 204.5 612.8 207.5 613.4 210.5 613.9 213.6 614.5 216.8 615.1 220.0 615.6 223.3 616.2 226.8 616.8 230.3 617.3 233.9 617.9 237.6 618.5 241.4 619.0 245.3 619.6 249.3 620.2 253.4 620.7 257.6 621.3 262.0 621.9 266.5 622.5 271.1 623.0 275.9 623.6 280.8 624.2 285.9 624.7 291.2 625.3 296.7 625.9 302.3 626.4 308.2 627.0 314.4 627.6 320.8 628.2 327.5 628.7 334.5 629.3 341.9 629.9 349.6 630.4 357.8 631.0 366.5 631.6 375.7 632.2 385.6 632.7 396.2 633.3 407.6 633.9 420.1 634.5 433.5 635.0 448.4 635.6 465.5 636.2 485.0 636.8 507.9 637.3 535.8 637.9 571.5 638.5 621.0 639.1 656.6 639.7 656.6 640.2 656.6 640.8 656.6 641.4 656.6 642.0 656.6 642.6 656.6 643.1 656.6 643.7 656.6 644.3 625.5 644.9 584.0 645.5 554.1 646.0 531.0 646.6 512.2 647.2 496.5 647.8 483.1 648.4 471.5 649.0 461.2 649.5 452.2 650.1 444.4 650.7 437.4 651.3 431.1 651.9 425.2 652.5 419.6 653.1 414.6 653.7 409.9 654.2 405.6 654.8 401.7 655.4 398.1 656.0 394.9 656.6 391.8 657.2 389.1 657.8 386.5 658.4 384.2 659.0 382.1 659.6 380.3 660.2 378.7 660.7 377.2 661.3 376.0 661.9 374.9 662.5 374.0 663.1 373.2 663.7 372.6 664.3 372.1 664.9 371.7 665.5 371.5 666.1 371.4 666.7 371.4 667.3 371.6 667.9 371.9 668.5 372.3 669.1 372.9 669.7 373.6 670.3 374.4 670.9 375.3 671.5 376.4 672.1 377.6 672.7 378.9 673.3 380.4 673.9 382.0 674.6 383.7 675.2 385.6 675.8 387.6 676.4 389.7 677.0 392.1 677.6 394.5 678.2 397.2 678.8 400.0 679.4 403.0 680.0 406.2 680.6 409.5 681.3 413.1 681.9 416.9 682.5 421.0 683.1 425.3 683.7 429.9 684.3 434.5 685.0 439.4 685.6 444.6 686.2 450.2 686.8 456.2 687.4 462.6 688.0 469.5 688.7 476.9 689.3 484.9 689.9 493.7 690.5 503.2 691.2 513.8 691.8 525.8 692.4 540.1 693.0 556.7 693.7 576.0 694.3 599.4 694.9 628.7 695.5 656.6 696.2 656.6 696.8 656.6 697.4 656.6 698.1 656.6 698.7 656.6 699.3 656.6 700.0 656.6 700.6 656.6 701.2 656.6 701.9 656.6 702.5 656.6 703.2 656.6 703.8 656.6 704.4 656.6 705.1 643.8 705.7 612.3 706.4 587.9 707.0 567.6 707.7 550.4 708.3 535.5 708.9 522.4 709.6 510.7 710.2 500.2 710.9 490.7 711.5 481.9 712.2 473.9 712.9 466.5 713.5 459.7 714.2 453.3 714.8 447.4 715.5 441.8 716.1 436.6 716.8 431.7 717.4 427.1 718.1 422.8 718.8 418.7 719.4 414.9 720.1 411.2 720.8 407.8 721.4 404.6 722.1 401.6 722.8 398.9 723.4 396.5 724.1 394.2 724.8 392.0 725.4 389.9 726.1 388.0 726.8 386.1 727.5 384.4 728.1 382.8 728.8 381.3 729.5 379.9 730.2 378.6 730.9 377.5 731.5 376.4 732.2 375.4 732.9 374.5 733.6 373.6 734.3 372.9 735.0 372.3 735.7 371.7 736.4 371.3 737.0 370.9 737.7 370.6 738.4 370.4 739.1 370.3 739.8 370.2 740.5 370.3 741.2 370.4 741.9 370.6 742.6 370.9 743.3 371.3 744.0 371.7 744.8 372.3 745.5 372.9 746.2 373.6 746.9 374.4 747.6 375.3 748.3 376.3 749.0 377.4 749.8 378.6 750.5 379.8 751.2 381.2 751.9 382.6 752.6 384.2 753.4 385.9 754.1 387.6 754.8 389.5 755.6 391.5 756.3 393.6 757.0 395.9 757.8 398.2 758.5 400.7 759.2 403.4 760.0 406.2 760.7 409.1 761.5 412.2 762.2 415.5 763.0 418.9 763.7 422.5 764.5 426.4 765.2 430.5 766.0 434.7 766.7 439.3 767.5 444.1 768.3 449.2 769.0 454.7 769.8 460.5 770.6 466.7 771.3 473.6 772.1 480.9 772.9 488.9 773.6 497.5 774.4 506.9 775.2 517.2 776.0 528.7 776.8 541.5 777.6 556.0 778.4 572.6 779.1 592.2 779.9 615.8 780.7 645.4 781.5 656.6 782.3 656.6 783.1 656.6 783.9 656.6 784.8 656.6 785.6 656.6 786.4 656.6 787.2 656.6 788.0 656.6 788.8 656.6 789.7 656.6 790.5 656.6 791.3 656.6 792.2 656.6 793.0 656.6 793.8 656.6 794.7 656.6 795.5 656.6 796.4 655.2 797.2 624.1 798.1 599.6 798.9 579.4 799.8 562.3 800.6 547.4 801.5 534.3 802.4 522.6 803.3 512.1 804.1 502.5 805.0 493.8 805.9 485.7 806.8 478.1 807.7 470.7 808.6 463.9 809.5 457.5 810.4 452.0 811.3 446.9 812.2 442.1 813.1 437.6 814.0 433.4 814.9 429.3 815.8 425.5 816.8 421.9 817.7 418.5 818.6 415.2 819.6 412.0 820.5 409.0 821.5 406.1 822.4 403.4 823.4 400.9 824.4 398.4 825.3 396.1 826.3 394.2 827.3 392.5 828.3 390.8 829.3 389.1 830.3 387.5 831.3 385.9 832.3 384.4 833.3 383.1 834.3 381.8 835.3 380.6 836.4 379.5 837.4 378.5 838.4 377.6 839.5 376.8 840.5 376.1 841.6 375.4 842.7 374.8 843.7 374.3 844.8 373.9 845.9 373.6 847.0 373.3 848.1 373.1 849.2 373.0 850.3 373.0 851.5 373.1 852.6 373.2 853.7 373.4 854.9 373.7 856.1 374.1 857.2 374.5 858.4 375.0 859.6 375.5 860.8 376.1 862.0 376.8 863.2 377.6 864.5 378.4 865.7 379.3 866.9 380.4 868.2 381.5 869.5 382.7 870.8 384.0 872.1 385.3 873.4 386.8 874.7 388.6 876.1 390.5 877.4 392.5 878.8 394.7 880.2 396.9 881.6 399.3 883.0 401.8 884.4 404.5 885.9 407.3 887.4 410.2 888.9 413.3 890.4 416.5 891.9 419.9 893.5 423.5 895.1 427.3 896.7 431.3 898.3 435.8 900.0 440.6 901.7 445.6 903.4 451.0 905.2 456.7 907.0 462.8 908.8 469.3 910.6 476.3 912.6 483.8 914.5 492.0 916.5 500.9 918.6 510.6 920.7 521.3 922.9 533.1 925.1 546.5 927.4 561.6 929.8 577.6 932.3 595.4 934.9 615.2 937.6 636.5 940.5 655.4 943.5 656.6 946.7 656.6 950.1 656.6 953.9 656.6 958.0 656.6 962.7 656.6 968.3 656.6 975.6 656.6 993.1 656.6" stroke-dashoffset="1.5"/>
<path d="M123.3 554.0 140.8 551.3 148.1 543.2 153.7 536.5 158.4 528.2 162.5 519.1 166.3 505.6 169.7 493.6 172.9 483.0 175.9 473.3 178.8 464.5 181.5 456.5 184.1 450.0 186.6 443.9 189.0 438.2 191.3 432.8 193.5 427.6 195.7 422.8 197.8 418.1 199.9 413.7 201.9 409.6 203.8 405.6 205.8 401.8 207.6 398.1 209.4 394.7 211.2 391.4 213.0 388.2 214.7 385.2 216.4 382.3 218.1 379.5 219.7 376.9 221.3 374.3 222.9 371.9 224.5 369.6 226.0 367.4 227.5 365.3 229.0 363.2 230.5 361.3 232.0 359.5 233.4 357.8 234.8 356.2 236.2 354.7 237.6 353.3 239.0 351.9 240.3 350.6 241.7 349.2 243.0 348.0 244.3 346.8 245.6 345.7 246.9 344.6 248.2 343.7 249.5 342.8 250.7 342.1 251.9 341.4 253.2 340.8 254.4 340.2 255.6 339.7 256.8 339.3 258.0 338.9 259.2 338.6 260.3 338.4 261.5 338.2 262.7 338.1 263.8 338.1 264.9 338.1 266.1 338.2 267.2 338.3 268.3 338.5 269.4 338.8 270.5 339.1 271.6 339.5 272.7 339.9 273.7 340.3 274.8 340.8 275.9 341.4 276.9 342.0 278.0 342.8 279.0 343.6 280.0 344.5 281.1 345.3 282.1 346.2 283.1 347.2 284.1 348.3 285.1 349.5 286.1 350.6 287.1 351.7 288.1 352.9 289.1 354.2 290.1 355.6 291.1 357.1 292.0 358.6 293.0 360.2 294.0 361.9 294.9 363.7 295.9 365.5 296.8 367.5 297.8 369.5 298.7 371.6 299.6 373.9 300.6 376.2 301.5 378.7 302.4 381.3 303.3 383.9 304.2 386.7 305.1 389.7 306.0 392.7 306.9 395.9 307.8 399.3 308.7 402.8 309.6 406.5 310.5 410.3 311.4 414.4 312.3 418.6 313.1 423.1 314.0 427.8 314.9 432.7 315.8 437.9 316.6 443.4 317.5 449.3 318.3 455.5 319.2 462.1 320.0 469.1 320.9 476.6 321.7 484.7 322.6 493.4 323.4 502.8 324.2 513.1 325.1 524.4 325.9 536.8 326.7 550.7 327.6 566.4 328.4 569.1 329.2 552.3 330.0 537.3 330.8 523.9 331.6 512.0 332.5 501.2 333.3 491.3 334.1 482.8 334.9 474.9 335.7 467.6 336.5 460.8 337.3 454.3 338.0 448.3 338.8 442.6 339.6 437.2 340.4 432.0 341.2 426.8 342.0 422.0 342.8 417.3 343.5 412.9 344.3 408.7 345.1 404.7 345.8 400.9 346.6 397.3 347.4 393.9 348.1 390.6 348.9 387.7 349.7 384.9 350.4 382.1 351.2 379.3 351.9 376.7 352.7 374.1 353.4 371.7 354.2 369.3 354.9 367.1 355.7 365.0 356.4 363.0 357.2 361.0 357.9 359.2 358.6 357.6 359.4 356.0 360.1 354.4 360.8 353.0 361.6 351.7 362.3 350.4 363.0 349.2 363.8 348.1 364.5 347.1 365.2 346.1 365.9 345.2 366.6 344.4 367.4 343.7 368.1 343.0 368.8 342.4 369.5 341.9 370.2 341.4 370.9 341.0 371.6 340.7 372.4 340.4 373.1 340.3 373.8 340.1 374.5 340.1 375.2 340.1 375.9 340.1 376.6 340.2 377.3 340.4 378.0 340.6 378.7 340.9 379.4 341.3 380.0 341.7 380.7 342.3 381.4 342.8 382.1 343.5 382.8 344.2 383.5 345.0 384.2 345.9 384.9 346.9 385.5 347.9 386.2 349.0 386.9 350.2 387.6 351.2 388.3 352.3 388.9 353.6 389.6 355.3 390.3 357.0 391.0 358.9 391.6 360.7 392.3 362.5 393.0 364.3 393.6 366.3 394.3 368.3 395.0 370.5 395.6 372.8 396.3 375.2 397.0 377.8 397.6 380.4 398.3 383.2 399.0 386.2 399.6 389.3 400.3 392.6 400.9 396.0 401.6 399.6 402.2 403.4 402.9 407.5 403.5 411.7 404.2 416.2 404.9 420.9 405.5 425.9 406.2 431.2 406.8 436.9 407.5 442.8 408.1 449.1 408.7 455.8 409.4 463.0 410.0 470.7 410.7 479.0 411.3 488.0 412.0 497.8 412.6 508.5 413.2 520.2 413.9 533.3 414.5 547.8 415.2 564.1 415.8 578.1 416.4 579.1 417.1 563.5 417.7 548.8 418.3 533.0 419.0 519.1 419.6 506.7 420.2 495.6 420.9 485.4 421.5 476.1 422.1 467.5 422.7 459.3 423.4 451.8 424.0 444.7 424.6 438.1 425.2 431.9 425.9 426.2 426.5 420.8 427.1 415.7 427.7 410.9 428.4 406.4 429.0 402.1 429.6 398.0 430.2 394.1 430.8 390.4 431.4 386.9 432.1 383.5 432.7 380.3 433.3 377.3 433.9 374.4 434.5 371.7 435.1 369.1 435.8 366.6 436.4 364.2 437.0 362.0 437.6 359.9 438.2 357.9 438.8 356.0 439.4 354.3 440.0 352.6 440.6 351.1 441.2 349.6 441.8 348.3 442.5 347.0 443.1 345.9 443.7 344.8 444.3 343.9 444.9 343.1 445.5 342.3 446.1 341.6 446.7 341.1 447.3 340.6 447.9 340.3 448.5 339.9 449.1 339.7 449.7 339.6 450.3 339.5 450.9 339.6 451.5 339.8 452.1 340.1 452.7 340.4 453.3 340.9 453.9 341.6 454.5 342.3 455.1 343.1 455.7 344.1 456.2 345.2 456.8 346.4 457.4 347.8 458.0 349.3 458.6 351.0 459.2 352.8 459.8 354.7 460.4 356.9 461.0 359.2 461.6 361.7 462.2 364.5 462.7 367.4 463.3 370.6 463.9 374.1 464.5 377.8 465.1 381.8 465.7 386.2 466.3 390.8 466.9 395.7 467.4 401.0 468.0 406.8 468.6 413.2 469.2 420.1 469.8 427.7 470.4 436.1 470.9 445.5 471.5 455.9 472.1 467.6 472.7 480.9 473.3 496.7 473.8 516.0 474.4 539.8 475.0 561.5 475.6 565.1 476.2 535.3 476.7 510.3 477.3 489.3 477.9 471.0 478.5 454.9 479.1 440.5 479.6 427.4 480.2 415.4 480.8 404.4 481.4 394.1 481.9 384.4 482.5 375.4 483.1 366.9 483.7 358.8 484.2 351.2 484.8 343.9 485.4 336.9 486.0 330.2 486.5 323.8 487.1 317.7 487.7 311.8 488.2 306.1 488.8 300.6 489.4 295.3 490.0 290.1 490.5 285.2 491.1 280.3 491.7 275.7 492.2 271.1 492.8 266.7 493.4 262.4 493.9 258.2 494.5 254.2 495.1 250.2 495.7 246.3 496.2 242.6 496.8 238.9 497.4 235.3 497.9 231.8 498.5 228.3 499.1 224.9 499.6 221.6 500.2 218.4 500.8 215.2 501.3 212.1 501.9 209.1 502.5 206.1 503.0 203.2 503.6 200.4 504.1 197.6 504.7 194.9 505.3 192.2 505.8 189.6 506.4 187.0 507.0 184.5 507.5 182.0 508.1 179.6 508.7 177.3 509.2 174.9 509.8 172.7 510.3 170.4 510.9 168.2 511.5 166.1 512.0 164.0 512.6 162.0 513.2 160.0 513.7 158.0 514.3 156.1 514.8 154.2 515.4 152.3 516.0 150.5 516.5 148.7 517.1 146.9 517.6 145.2 518.2 143.5 518.8 141.9 519.3 140.2 519.9 138.6 520.4 137.1 521.0 135.5 521.5 134.0 522.1 132.5 522.7 131.1 523.2 129.6 523.8 128.3 524.3 126.9 524.9 125.6 525.5 124.2 526.0 123.0 526.6 121.7 527.1 120.5 527.7 119.3 528.2 118.1 528.8 116.9 529.4 115.8 529.9 114.7 530.5 113.7 531.0 112.6 531.6 111.6 532.1 110.6 532.7 109.6 533.2 108.7 533.8 107.7 534.4 106.8 534.9 105.9 535.5 105.1 536.0 104.2 536.6 103.4 537.1 102.6 537.7 101.9 538.2 101.1 538.8 100.4 539.4 99.7 539.9 99.0 540.5 98.4 541.0 97.8 541.6 97.1 542.1 96.6 542.7 96.0 543.2 95.4 543.8 94.9 544.4 94.4 544.9 93.9 545.5 93.5 546.0 93.0 546.6 92.6 547.1 92.2 547.7 91.8 548.2 91.5 548.8 91.1 549.3 90.8 549.9 90.5 550.4 90.2 551.0 90.0 551.6 89.8 552.1 89.5 552.7 89.3 553.2 89.2 553.8 89.0 554.3 88.9 554.9 88.8 555.4 88.7 556.0 88.6 556.5 88.6 557.1 88.5 557.6 88.5 558.2 88.5 558.8 88.5 559.3 88.5 559.9 88.6 560.4 88.6 561.0 88.7 561.5 88.8 562.1 88.9 562.6 89.0 563.2 89.2 563.7 89.3 564.3 89.5 564.8 89.7 565.4 90.0 566.0 90.2 566.5 90.5 567.1 90.8 567.6 91.1 568.2 91.4 568.7 91.8 569.3 92.2 569.8 92.5 570.4 93.0 570.9 93.4 571.5 93.9 572.0 94.3 572.6 94.8 573.2 95.3 573.7 95.9 574.3 96.4 574.8 97.0 575.4 97.6 575.9 98.3 576.5 98.9 577.0 99.6 577.6 100.3 578.2 101.0 578.7 101.7 579.3 102.5 579.8 103.2 580.4 104.0 580.9 104.9 581.5 105.7 582.0 106.6 582.6 107.5 583.2 108.4 583.7 109.3 584.3 110.3 584.8 111.3 585.4 112.3 585.9 113.3 586.5 114.4 587.0 115.5 587.6 116.6 588.2 117.7 588.7 118.9 589.3 120.0 589.8 121.2 590.4 122.5 590.9 123.7 591.5 125.0 592.1 126.4 592.6 127.7 593.2 129.1 593.7 130.5 594.3 131.9 594.9 133.4 595.4 134.8 596.0 136.3 596.5 137.9 597.1 139.5 597.6 141.1 598.2 142.7 598.8 144.4 599.3 146.1 599.9 147.8 600.4 149.6 601.0 151.4 601.6 153.2 602.1 155.1 602.7 157.0 603.2 158.9 603.8 160.9 604.4 162.9 604.9 165.0 605.5 167.1 606.1 169.3 606.6 171.5 607.2 173.7 607.7 176.0 608.3 178.4 608.9 180.7 609.4 183.2 610.0 185.7 610.6 188.2 611.1 190.8 611.7 193.4 612.3 196.1 612.8 198.8 613.4 201.6 613.9 204.5 614.5 207.4 615.1 210.4 615.6 213.5 616.2 216.6 616.8 219.8 617.3 223.0 617.9 226.3 618.5 229.7 619.0 233.2 619.6 236.7 620.2 240.3 620.7 244.0 621.3 247.8 621.9 251.7 622.5 255.7 623.0 259.7 623.6 263.9 624.2 268.2 624.7 272.6 625.3 277.2 625.9 281.9 626.4 286.7 627.0 291.6 627.6 296.8 628.2 302.1 628.7 307.5 629.3 313.2 629.9 319.1 630.4 325.2 631.0 331.6 631.6 338.2 632.2 345.1 632.7 352.4 633.3 360.0 633.9 368.0 634.5 376.4 635.0 385.4 635.6 394.9 636.2 405.0 636.8 415.9 637.3 427.7 637.9 440.5 638.5 454.6 639.1 470.2 639.7 487.8 640.2 508.0 640.8 528.1 641.4 523.7 642.0 512.3 642.6 493.2 643.1 477.2 643.7 463.7 644.3 452.2 644.9 441.9 645.5 432.6 646.0 424.3 646.6 416.7 647.2 409.7 647.8 403.4 648.4 397.6 649.0 392.2 649.5 387.3 650.1 382.7 650.7 378.4 651.3 374.4 651.9 370.7 652.5 367.2 653.1 364.0 653.7 361.0 654.2 358.2 654.8 355.6 655.4 353.3 656.0 351.1 656.6 349.1 657.2 347.2 657.8 345.5 658.4 343.9 659.0 342.5 659.6 341.2 660.2 340.1 660.7 339.0 661.3 338.0 661.9 337.2 662.5 336.5 663.1 335.9 663.7 335.4 664.3 335.0 664.9 334.7 665.5 334.5 666.1 334.4 666.7 334.4 667.3 334.5 667.9 334.7 668.5 335.0 669.1 335.3 669.7 335.8 670.3 336.3 670.9 336.9 671.5 337.6 672.1 338.4 672.7 339.3 673.3 340.2 673.9 341.3 674.6 342.5 675.2 343.7 675.8 345.1 676.4 346.6 677.0 348.1 677.6 349.8 678.2 351.5 678.8 353.4 679.4 355.4 680.0 357.5 680.6 359.7 681.3 362.0 681.9 364.4 682.5 367.0 683.1 369.7 683.7 372.5 684.3 375.5 685.0 378.6 685.6 381.9 686.2 385.3 686.8 388.9 687.4 392.7 688.0 396.7 688.7 400.8 689.3 405.2 689.9 409.9 690.5 414.7 691.2 419.9 691.8 425.4 692.4 431.3 693.0 437.6 693.7 444.3 694.3 451.4 694.9 458.9 695.5 467.0 696.2 475.7 696.8 485.1 697.4 495.4 698.1 506.7 698.7 519.2 699.3 529.7 700.0 539.7 700.6 540.5 701.2 534.0 701.9 521.2 702.5 509.5 703.2 498.7 703.8 488.9 704.4 479.7 705.1 471.3 705.7 463.5 706.4 456.2 707.0 449.3 707.7 442.9 708.3 436.9 708.9 431.3 709.6 425.9 710.2 420.8 710.9 416.0 711.5 411.4 712.2 407.1 712.9 403.0 713.5 399.1 714.2 395.4 714.8 391.9 715.5 388.5 716.1 385.3 716.8 382.3 717.4 379.4 718.1 376.7 718.8 374.0 719.4 371.5 720.1 369.2 720.8 366.9 721.4 364.8 722.1 362.7 722.8 360.8 723.4 359.0 724.1 357.1 724.8 355.4 725.4 353.6 726.1 351.9 726.8 350.2 727.5 348.6 728.1 347.3 728.8 346.2 729.5 345.2 730.2 344.1 730.9 343.0 731.5 341.9 732.2 341.0 732.9 340.1 733.6 339.3 734.3 338.6 735.0 337.9 735.7 337.3 736.4 336.8 737.0 336.3 737.7 336.0 738.4 335.7 739.1 335.4 739.8 335.2 740.5 335.1 741.2 335.0 741.9 335.0 742.6 335.0 743.3 335.1 744.0 335.3 744.8 335.5 745.5 335.8 746.2 336.2 746.9 336.6 747.6 337.1 748.3 337.6 749.0 338.3 749.8 339.0 750.5 339.7 751.2 340.6 751.9 341.5 752.6 342.5 753.4 343.5 754.1 344.6 754.8 345.8 755.6 347.1 756.3 348.5 757.0 349.9 757.8 351.4 758.5 353.0 759.2 354.7 760.0 356.5 760.7 358.5 761.5 360.5 762.2 362.6 763.0 364.8 763.7 367.1 764.5 369.5 765.2 372.0 766.0 374.7 766.7 377.1 767.5 379.7 768.3 382.3 769.0 385.3 769.8 388.4 770.6 391.6 771.3 395.0 772.1 398.6 772.9 402.3 773.6 406.2 774.4 410.3 775.2 414.6 776.0 419.2 776.8 423.8 777.6 428.6 778.4 433.7 779.1 439.0 779.9 444.7 780.7 450.6 781.5 457.0 782.3 463.7 783.1 471.0 783.9 479.3 784.8 488.3 785.6 498.0 786.4 508.6 787.2 520.4 788.0 532.8 788.8 526.1 789.7 515.1 790.5 504.9 791.3 495.6 792.2 486.8 793.0 478.7 793.8 471.1 794.7 464.0 795.5 457.3 796.4 451.1 797.2 445.1 798.1 439.5 798.9 434.2 799.8 429.1 800.6 424.3 801.5 419.8 802.4 415.4 803.3 411.3 804.1 407.3 805.0 403.5 805.9 399.9 806.8 396.5 807.7 393.2 808.6 390.0 809.5 387.0 810.4 384.1 811.3 381.3 812.2 378.6 813.1 376.1 814.0 373.6 814.9 371.3 815.8 369.0 816.8 366.9 817.7 364.8 818.6 362.9 819.6 361.0 820.5 359.2 821.5 357.5 822.4 355.9 823.4 354.4 824.4 352.9 825.3 351.4 826.3 350.0 827.3 348.6 828.3 347.3 829.3 346.1 830.3 345.0 831.3 343.9 832.3 342.8 833.3 341.8 834.3 340.8 835.3 339.9 836.4 339.1 837.4 338.3 838.4 337.4 839.5 336.6 840.5 336.0 841.6 335.4 842.7 334.8 843.7 334.4 844.8 333.9 845.9 333.5 847.0 333.2 848.1 332.9 849.2 332.7 850.3 332.5 851.5 332.4 852.6 332.4 853.7 332.4 854.9 332.5 856.1 332.6 857.2 332.8 858.4 333.1 859.6 333.6 860.8 334.1 862.0 334.7 863.2 335.4 864.5 336.1 865.7 336.9 866.9 337.8 868.2 338.7 869.5 339.7 870.8 340.9 872.1 342.0 873.4 343.3 874.7 344.7 876.1 346.1 877.4 347.5 878.8 348.9 880.2 350.4 881.6 352.0 883.0 353.7 884.4 355.5 885.9 357.3 887.4 359.4 888.9 361.5 890.4 363.7 891.9 366.1 893.5 368.5 895.1 371.1 896.7 373.8 898.3 376.6 900.0 379.5 901.7 382.6 903.4 385.8 905.2 389.2 907.0 392.7 908.8 396.5 910.6 400.4 912.6 404.5 914.5 408.9 916.5 413.4 918.6 418.3 920.7 423.4 922.9 427.6 925.1 432.0 927.4 436.6 929.8 441.4 932.3 446.5 934.9 451.8 937.6 457.3 940.5 463.0 943.5 469.1 946.7 476.4 950.1 485.1 953.9 494.5 958.0 504.7 962.7 515.9 968.3 528.2 975.6 544.1 993.1 548.6" stroke-dashoffset="2.9"/>
<path d="M123.3 656.6 140.8 656.6 148.1 656.6 153.7 656.6 158.4 656.6 162.5 656.6 166.3 656.6 169.7 656.6 172.9 643.5 175.9 621.5 178.8 611.3 181.5 598.4 184.1 585.3 186.6 572.8 189.0 561.2 191.3 549.5 193.5 538.2 195.7 527.0 197.8 515.9 199.9 505.9 201.9 496.7 203.8 488.3 205.8 480.5 207.6 473.3 209.4 466.6 211.2 460.3 213.0 454.5 214.7 449.0 216.4 443.8 218.1 439.0 219.7 434.4 221.3 429.0 222.9 425.0 224.5 421.1 226.0 417.5 227.5 414.0 229.0 410.7 230.5 407.6 232.0 404.6 233.4 401.8 234.8 399.2 236.2 396.7 237.6 394.3 239.0 392.0 240.3 389.8 241.7 387.8 243.0 386.0 244.3 384.4 245.6 382.9 246.9 381.5 248.2 380.3 249.5 379.1 250.7 378.0 251.9 377.0 253.2 376.0 254.4 375.2 255.6 374.4 256.8 373.8 258.0 373.2 259.2 372.6 260.3 372.2 261.5 371.8 262.7 371.5 263.8 371.3 264.9 371.2 266.1 371.2 267.2 371.2 268.3 371.3 269.4 371.5 270.5 371.7 271.6 372.0 272.7 372.5 273.7 372.9 274.8 373.5 275.9 374.2 276.9 374.9 278.0 375.5 279.0 376.2 280.0 377.0 281.1 377.9 282.1 378.9 283.1 379.9 284.1 381.1 285.1 382.3 286.1 383.6 287.1 385.0 288.1 386.6 289.1 388.4 290.1 390.3 291.1 392.4 292.0 394.5 293.0 396.8 294.0 399.1 294.9 401.7 295.9 404.3 296.8 407.1 297.8 410.0 298.7 413.2 299.6 416.5 300.6 420.1 301.5 423.8 302.4 427.8 303.3 432.0 304.2 436.4 305.1 441.1 306.0 446.1 306.9 451.4 307.8 457.0 308.7 463.0 309.6 469.5 310.5 476.6 311.4 484.5 312.3 493.2 313.1 502.6 314.0 512.9 314.9 524.4 315.8 537.2 316.6 551.8 317.5 568.5 318.3 587.3 319.2 609.1 320.0 636.0 320.9 656.6 321.7 656.6 322.6 656.6 323.4 656.6 324.2 656.6 325.1 656.6 325.9 656.6 326.7 656.6 327.6 656.6 328.4 656.6 329.2 656.6 330.0 656.6 330.8 656.6 331.6 656.6 332.5 656.6 333.3 656.6 334.1 656.6 334.9 653.9 335.7 626.8 336.5 603.5 337.3 583.6 338.0 566.4 338.8 551.3 339.6 537.9 340.4 525.9 341.2 515.1 342.0 505.3 342.8 496.3 343.5 488.0 344.3 480.4 345.1 473.3 345.8 466.6 346.6 460.4 347.4 454.4 348.1 448.8 348.9 443.6 349.7 438.7 350.4 434.0 351.2 429.6 351.9 425.5 352.7 421.5 353.4 417.8 354.2 414.4 354.9 411.1 355.7 408.1 356.4 405.2 357.2 402.4 357.9 399.8 358.6 397.3 359.4 395.0 360.1 392.7 360.8 390.6 361.6 388.7 362.3 386.8 363.0 385.0 363.8 383.4 364.5 381.9 365.2 380.4 365.9 379.1 366.6 377.8 367.4 376.7 368.1 375.6 368.8 374.6 369.5 373.8 370.2 373.0 370.9 372.3 371.6 371.6 372.4 371.1 373.1 370.7 373.8 370.3 374.5 370.0 375.2 369.8 375.9 369.7 376.6 369.6 377.3 369.6 378.0 369.7 378.7 369.9 379.4 370.1 380.0 370.5 380.7 370.9 381.4 371.4 382.1 372.0 382.8 372.7 383.5 373.5 384.2 374.4 384.9 375.4 385.5 376.5 386.2 377.8 386.9 379.3 387.6 380.9 388.3 382.5 388.9 384.1 389.6 385.8 390.3 387.7 391.0 389.6 391.6 391.7 392.3 393.9 393.0 396.3 393.6 398.8 394.3 401.5 395.0 404.3 395.6 407.2 396.3 410.3 397.0 413.6 397.6 417.1 398.3 420.7 399.0 424.6 399.6 429.1 400.3 434.0 400.9 439.2 401.6 444.8 402.2 450.8 402.9 457.2 403.5 464.1 404.2 471.5 404.9 479.6 405.5 488.3 406.2 497.9 406.8 508.4 407.5 520.2 408.1 533.3 408.7 548.3 409.4 565.7 410.0 586.3 410.7 611.5 411.3 642.9 412.0 656.6 412.6 656.6 413.2 656.6 413.9 656.6 414.5 656.6 415.2 656.6 415.8 656.6 416.4 656.6 417.1 656.6 417.7 656.6 418.3 656.6 419.0 656.6 419.6 656.6 420.2 656.6 420.9 638.6 421.5 608.1 422.1 583.9 422.7 564.0 423.4 547.0 424.0 532.3 424.6 519.1 425.2 507.7 425.9 497.2 426.5 487.7 427.1 479.0 427.7 471.0 428.4 463.6 429.0 456.7 429.6 450.3 430.2 444.3 430.8 438.7 431.4 433.5 432.1 428.6 432.7 423.9 433.3 419.8 433.9 415.9 434.5 412.2 435.1 408.8 435.8 405.5 436.4 402.5 437.0 399.6 437.6 396.8 438.2 394.3 438.8 391.9 439.4 389.6 440.0 387.5 440.6 385.5 441.2 383.5 441.8 381.7 442.5 380.0 443.1 378.4 443.7 377.0 444.3 375.7 444.9 374.5 445.5 373.4 446.1 372.5 446.7 371.7 447.3 371.1 447.9 370.5 448.5 370.1 449.1 369.8 449.7 369.6 450.3 369.6 450.9 369.7 451.5 369.9 452.1 370.2 452.7 370.7 453.3 371.3 453.9 372.1 454.5 373.0 455.1 374.1 455.7 375.3 456.2 376.7 456.8 378.3 457.4 380.1 458.0 382.2 458.6 384.5 459.2 386.9 459.8 389.5 460.4 392.2 461.0 395.2 461.6 398.4 462.2 401.9 462.7 405.8 463.3 410.0 463.9 414.6 464.5 419.6 465.1 425.3 465.7 431.7 466.3 438.7 466.9 446.5 467.4 455.1 468.0 464.8 468.6 475.8 469.2 488.2 469.8 502.7 470.4 519.7 470.9 540.2 471.5 565.7 472.1 599.0 472.7 646.0 473.3 656.6 473.8 656.6 474.4 656.6 475.0 656.6 475.6 656.6 476.2 656.6 476.7 656.6 477.3 656.6 477.9 601.6 478.5 558.6 479.1 526.4 479.6 500.5 480.2 479.0 480.8 460.4 481.4 444.1 481.9 429.6 482.5 416.4 483.1 404.4 483.7 393.3 484.2 383.0 484.8 373.5 485.4 364.5 486.0 356.0 486.5 348.0 487.1 340.4 487.7 333.2 488.2 326.3 488.8 319.7 489.4 313.4 490.0 307.3 490.5 301.5 491.1 295.9 491.7 290.5 492.2 285.3 492.8 280.3 493.4 275.4 493.9 270.7 494.5 266.1 495.1 261.7 495.7 257.4 496.2 253.2 496.8 249.1 497.4 245.1 497.9 241.3 498.5 237.5 499.1 233.8 499.6 230.3 500.2 226.7 500.8 223.3 501.3 220.0 501.9 216.8 502.5 213.6 503.0 210.5 503.6 207.4 504.1 204.4 504.7 201.5 505.3 198.7 505.8 195.9 506.4 193.2 507.0 190.5 507.5 187.9 508.1 185.3 508.7 182.8 509.2 180.4 509.8 178.0 510.3 175.6 510.9 173.3 511.5 171.0 512.0 168.8 512.6 166.6 513.2 164.5 513.7 162.4 514.3 160.4 514.8 158.3 515.4 156.4 516.0 154.4 516.5 152.5 517.1 150.7 517.6 148.9 518.2 147.1 518.8 145.3 519.3 143.6 519.9 141.9 520.4 140.3 521.0 138.6 521.5 137.1 522.1 135.5 522.7 134.0 523.2 132.5 523.8 131.0 524.3 129.6 524.9 128.2 525.5 126.8 526.0 125.4 526.6 124.1 527.1 122.8 527.7 121.6 528.2 120.3 528.8 119.1 529.4 118.0 529.9 116.8 530.5 115.7 531.0 114.6 531.6 113.5 532.1 112.5 532.7 111.4 533.2 110.4 533.8 109.5 534.4 108.5 534.9 107.6 535.5 106.7 536.0 105.8 536.6 105.0 537.1 104.1 537.7 103.3 538.2 102.5 538.8 101.8 539.4 101.0 539.9 100.3 540.5 99.6 541.0 98.9 541.6 98.3 542.1 97.7 542.7 97.0 543.2 96.5 543.8 95.9 544.4 95.4 544.9 94.8 545.5 94.3 546.0 93.8 546.6 93.4 547.1 93.0 547.7 92.5 548.2 92.1 548.8 91.8 549.3 91.4 549.9 91.1 550.4 90.8 551.0 90.5 551.6 90.2 552.1 89.9 552.7 89.7 553.2 89.5 553.8 89.3 554.3 89.1 554.9 89.0 555.4 88.9 556.0 88.8 556.5 88.7 557.1 88.6 557.6 88.6 558.2 88.5 558.8 88.6 559.3 88.6 559.9 88.7 560.4 88.8 561.0 88.9 561.5 89.0 562.1 89.1 562.6 89.3 563.2 89.5 563.7 89.7 564.3 89.9 564.8 90.2 565.4 90.5 566.0 90.8 566.5 91.1 567.1 91.4 567.6 91.8 568.2 92.1 568.7 92.5 569.3 93.0 569.8 93.4 570.4 93.8 570.9 94.3 571.5 94.8 572.0 95.4 572.6 95.9 573.2 96.5 573.7 97.0 574.3 97.7 574.8 98.3 575.4 98.9 575.9 99.6 576.5 100.3 577.0 101.0 577.6 101.8 578.2 102.5 578.7 103.3 579.3 104.1 579.8 105.0 580.4 105.8 580.9 106.7 581.5 107.6 582.0 108.5 582.6 109.5 583.2 110.4 583.7 111.4 584.3 112.5 584.8 113.5 585.4 114.6 585.9 115.7 586.5 116.8 587.0 118.0 587.6 119.1 588.2 120.3 588.7 121.6 589.3 122.8 589.8 124.1 590.4 125.4 590.9 126.8 591.5 128.2 592.1 129.6 592.6 131.0 593.2 132.5 593.7 134.0 594.3 135.5 594.9 137.1 595.4 138.6 596.0 140.3 596.5 141.9 597.1 143.6 597.6 145.3 598.2 147.1 598.8 148.9 599.3 150.7 599.9 152.5 600.4 154.4 601.0 156.4 601.6 158.3 602.1 160.4 602.7 162.4 603.2 164.5 603.8 166.6 604.4 168.8 604.9 171.0 605.5 173.3 606.1 175.6 606.6 178.0 607.2 180.4 607.7 182.8 608.3 185.3 608.9 187.9 609.4 190.5 610.0 193.2 610.6 195.9 611.1 198.7 611.7 201.5 612.3 204.4 612.8 207.4 613.4 210.5 613.9 213.6 614.5 216.8 615.1 220.0 615.6 223.3 616.2 226.7 616.8 230.3 617.3 233.8 617.9 237.5 618.5 241.3 619.0 245.1 619.6 249.1 620.2 253.2 620.7 257.4 621.3 261.7 621.9 266.1 622.5 270.7 623.0 275.4 623.6 280.3 624.2 285.3 624.7 290.5 625.3 295.9 625.9 301.5 626.4 307.3 627.0 313.4 627.6 319.7 628.2 326.3 628.7 333.2 629.3 340.4 629.9 348.0 630.4 356.0 631.0 364.5 631.6 373.5 632.2 383.0 632.7 393.3 633.3 404.4 633.9 416.4 634.5 429.6 635.0 444.1 635.6 460.4 636.2 479.0 636.8 500.5 637.3 526.4 637.9 558.6 638.5 601.6 639.1 656.6 639.7 656.6 640.2 656.6 640.8 656.6 641.4 656.6 642.0 656.6 642.6 656.6 643.1 656.6 643.7 646.0 644.3 599.0 644.9 565.7 645.5 540.2 646.0 519.7 646.6 502.7 647.2 488.2 647.8 475.8 648.4 464.8 649.0 455.1 649.5 446.5 650.1 438.7 650.7 431.7 651.3 425.3 651.9 419.6 652.5 414.6 653.1 410.0 653.7 405.8 654.2 401.9 654.8 398.4 655.4 395.2 656.0 392.2 656.6 389.5 657.2 386.9 657.8 384.5 658.4 382.2 659.0 380.1 659.6 378.3 660.2 376.7 660.7 375.3 661.3 374.1 661.9 373.0 662.5 372.1 663.1 371.3 663.7 370.7 664.3 370.2 664.9 369.9 665.5 369.7 666.1 369.6 666.7 369.6 667.3 369.8 667.9 370.1 668.5 370.5 669.1 371.1 669.7 371.7 670.3 372.5 670.9 373.4 671.5 374.5 672.1 375.7 672.7 377.0 673.3 378.4 673.9 380.0 674.6 381.7 675.2 383.5 675.8 385.5 676.4 387.5 677.0 389.6 677.6 391.9 678.2 394.3 678.8 396.8 679.4 399.6 680.0 402.5 680.6 405.5 681.3 408.8 681.9 412.2 682.5 415.9 683.1 419.8 683.7 423.9 684.3 428.6 685.0 433.5 685.6 438.7 686.2 444.3 686.8 450.3 687.4 456.7 688.0 463.6 688.7 471.0 689.3 479.0 689.9 487.7 690.5 497.2 691.2 507.7 691.8 519.1 692.4 532.3 693.0 547.0 693.7 564.0 694.3 583.9 694.9 608.1 695.5 638.6 696.2 656.6 696.8 656.6 697.4 656.6 698.1 656.6 698.7 656.6 699.3 656.6 700.0 656.6 700.6 656.6 701.2 656.6 701.9 656.6 702.5 656.6 703.2 656.6 703.8 656.6 704.4 656.6 705.1 642.9 705.7 611.5 706.4 586.3 707.0 565.7 707.7 548.3 708.3 533.3 708.9 520.2 709.6 508.4 710.2 497.9 710.9 488.3 711.5 479.6 712.2 471.5 712.9 464.1 713.5 457.2 714.2 450.8 714.8 444.8 715.5 439.2 716.1 434.0 716.8 429.1 717.4 424.6 718.1 420.7 718.8 417.1 719.4 413.6 720.1 410.3 720.8 407.2 721.4 404.3 722.1 401.5 722.8 398.8 723.4 396.3 724.1 393.9 724.8 391.7 725.4 389.6 726.1 387.7 726.8 385.8 727.5 384.1 728.1 382.5 728.8 380.9 729.5 379.3 730.2 377.8 730.9 376.5 731.5 375.4 732.2 374.4 732.9 373.5 733.6 372.7 734.3 372.0 735.0 371.4 735.7 370.9 736.4 370.5 737.0 370.1 737.7 369.9 738.4 369.7 739.1 369.6 739.8 369.6 740.5 369.7 741.2 369.8 741.9 370.0 742.6 370.3 743.3 370.7 744.0 371.1 744.8 371.6 745.5 372.3 746.2 373.0 746.9 373.8 747.6 374.6 748.3 375.6 749.0 376.7 749.8 377.8 750.5 379.1 751.2 380.4 751.9 381.9 752.6 383.4 753.4 385.0 754.1 386.8 754.8 388.7 755.6 390.6 756.3 392.7 757.0 395.0 757.8 397.3 758.5 399.8 759.2 402.4 760.0 405.2 760.7 408.1 761.5 411.1 762.2 414.4 763.0 417.8 763.7 421.5 764.5 425.5 765.2 429.6 766.0 434.0 766.7 438.7 767.5 443.6 768.3 448.8 769.0 454.4 769.8 460.4 770.6 466.6 771.3 473.3 772.1 480.4 772.9 488.0 773.6 496.3 774.4 505.3 775.2 515.1 776.0 525.9 776.8 537.9 777.6 551.3 778.4 566.4 779.1 583.6 779.9 603.5 780.7 626.8 781.5 653.9 782.3 656.6 783.1 656.6 783.9 656.6 784.8 656.6 785.6 656.6 786.4 656.6 787.2 656.6 788.0 656.6 788.8 656.6 789.7 656.6 790.5 656.6 791.3 656.6 792.2 656.6 793.0 656.6 793.8 656.6 794.7 656.6 795.5 656.6 796.4 636.0 797.2 609.1 798.1 587.3 798.9 568.5 799.8 551.8 800.6 537.2 801.5 524.4 802.4 512.9 803.3 502.6 804.1 493.2 805.0 484.5 805.9 476.6 806.8 469.5 807.7 463.0 808.6 457.0 809.5 451.4 810.4 446.1 811.3 441.1 812.2 436.4 813.1 432.0 814.0 427.8 814.9 423.8 815.8 420.1 816.8 416.5 817.7 413.2 818.6 410.0 819.6 407.1 820.5 404.3 821.5 401.7 822.4 399.1 823.4 396.8 824.4 394.5 825.3 392.4 826.3 390.3 827.3 388.4 828.3 386.6 829.3 385.0 830.3 383.6 831.3 382.3 832.3 381.1 833.3 379.9 834.3 378.9 835.3 377.9 836.4 377.0 837.4 376.2 838.4 375.5 839.5 374.9 840.5 374.2 841.6 373.5 842.7 372.9 843.7 372.5 844.8 372.0 845.9 371.7 847.0 371.5 848.1 371.3 849.2 371.2 850.3 371.2 851.5 371.2 852.6 371.3 853.7 371.5 854.9 371.8 856.1 372.2 857.2 372.6 858.4 373.1 859.6 373.6 860.8 374.2 862.0 374.9 863.2 375.6 864.5 376.5 865.7 377.4 866.9 378.4 868.2 379.5 869.5 380.7 870.8 381.9 872.1 383.3 873.4 384.7 874.7 386.5 876.1 388.3 877.4 390.3 878.8 392.4 880.2 394.7 881.6 397.0 883.0 399.5 884.4 402.1 885.9 404.8 887.4 407.6 888.9 410.7 890.4 413.8 891.9 417.2 893.5 420.7 895.1 424.4 896.7 428.3 898.3 432.7 900.0 437.3 901.7 442.2 903.4 447.4 905.2 452.9 907.0 458.8 908.8 465.0 910.6 471.2 912.6 477.9 914.5 485.1 916.5 492.9 918.6 501.3 920.7 510.5 922.9 520.6 925.1 531.8 927.4 544.3 929.8 559.3 932.3 576.6 934.9 597.0 937.6 622.0 940.5 653.4 943.5 656.6 946.7 656.6 950.1 656.6 953.9 656.6 958.0 656.6 962.7 656.6 968.3 656.6 975.6 656.6 993.1 656.6" stroke-dashoffset="4.4"/>
<path d="M123.3 548.6 140.8 562.1 148.1 548.6 153.7 540.9 158.4 532.0 162.5 522.3 166.3 508.2 169.7 495.9 172.9 484.9 175.9 475.1 178.8 466.1 181.5 458.0 184.1 451.5 186.6 445.3 189.0 439.6 191.3 434.1 193.5 429.0 195.7 424.1 197.8 419.5 199.9 415.1 201.9 410.9 203.8 406.9 205.8 403.1 207.6 399.5 209.4 396.1 211.2 392.8 213.0 389.6 214.7 386.6 216.4 383.8 218.1 381.0 219.7 378.4 221.3 375.9 222.9 373.5 224.5 371.2 226.0 369.0 227.5 366.9 229.0 364.9 230.5 363.0 232.0 361.2 233.4 359.5 234.8 357.9 236.2 356.3 237.6 354.8 239.0 353.5 240.3 352.1 241.7 350.8 243.0 349.5 244.3 348.3 245.6 347.2 246.9 346.1 248.2 345.1 249.5 344.2 250.7 343.4 251.9 342.6 253.2 341.9 254.4 341.3 255.6 340.8 256.8 340.3 258.0 339.8 259.2 339.5 260.3 339.2 261.5 338.9 262.7 338.7 263.8 338.6 264.9 338.6 266.1 338.6 267.2 338.6 268.3 338.8 269.4 338.9 270.5 339.2 271.6 339.5 272.7 339.9 273.7 340.4 274.8 341.0 275.9 341.7 276.9 342.4 278.0 343.1 279.0 344.0 280.0 344.6 281.1 345.4 282.1 346.5 283.1 347.5 284.1 348.5 285.1 349.5 286.1 350.8 287.1 352.1 288.1 353.5 289.1 355.0 290.1 356.6 291.1 358.3 292.0 360.0 293.0 361.6 294.0 363.3 294.9 365.1 295.9 366.9 296.8 368.9 297.8 370.9 298.7 373.0 299.6 375.3 300.6 377.6 301.5 380.0 302.4 382.6 303.3 385.3 304.2 388.1 305.1 391.0 306.0 394.1 306.9 397.3 307.8 400.7 308.7 404.2 309.6 407.9 310.5 411.8 311.4 415.8 312.3 420.1 313.1 424.6 314.0 429.3 314.9 434.3 315.8 439.6 316.6 445.1 317.5 451.0 318.3 457.3 319.2 463.9 320.0 471.0 320.9 478.7 321.7 486.9 322.6 495.7 323.4 505.3 324.2 515.8 325.1 527.3 325.9 540.1 326.7 554.3 327.6 570.5 328.4 579.5 329.2 561.3 330.0 545.1 330.8 530.9 331.6 518.3 332.5 506.9 333.3 496.6 334.1 487.1 334.9 478.5 335.7 470.4 336.5 462.9 337.3 455.9 338.0 449.4 338.8 443.2 339.6 437.5 340.4 432.1 341.2 427.2 342.0 422.6 342.8 418.3 343.5 414.1 344.3 410.1 345.1 406.3 345.8 402.7 346.6 399.3 347.4 396.0 348.1 392.8 348.9 389.8 349.7 386.9 350.4 384.2 351.2 381.3 351.9 378.6 352.7 376.0 353.4 373.5 354.2 371.2 354.9 368.9 355.7 366.7 356.4 364.7 357.2 362.7 357.9 360.9 358.6 359.1 359.4 357.4 360.1 355.9 360.8 354.4 361.6 352.9 362.3 351.6 363.0 350.3 363.8 349.2 364.5 348.1 365.2 347.0 365.9 346.1 366.6 345.2 367.4 344.4 368.1 343.6 368.8 343.0 369.5 342.4 370.2 341.9 370.9 341.4 371.6 341.0 372.4 340.7 373.1 340.4 373.8 340.3 374.5 340.2 375.2 340.1 375.9 340.2 376.6 340.3 377.3 340.5 378.0 340.7 378.7 341.0 379.4 341.4 380.0 341.8 380.7 342.3 381.4 342.9 382.1 343.6 382.8 344.3 383.5 345.1 384.2 346.0 384.9 346.9 385.5 348.0 386.2 349.1 386.9 350.3 387.6 351.5 388.3 352.9 388.9 354.4 389.6 355.9 390.3 357.5 391.0 359.1 391.6 360.8 392.3 362.9 393.0 364.9 393.6 366.8 394.3 368.9 395.0 371.1 395.6 373.4 396.3 375.8 397.0 378.3 397.6 381.0 398.3 383.8 399.0 386.8 399.6 389.9 400.3 393.1 400.9 396.5 401.6 400.1 402.2 403.9 402.9 407.9 403.5 412.1 404.2 416.5 404.9 421.2 405.5 426.1 406.2 431.4 406.8 436.9 407.5 442.9 408.1 449.3 408.7 456.2 409.4 463.6 410.0 471.6 410.7 480.2 411.3 489.6 412.0 499.9 412.6 511.3 413.2 524.0 413.9 538.3 414.5 554.7 415.2 573.5 415.8 582.6 416.4 583.9 417.1 567.2 417.7 551.0 418.3 534.8 419.0 520.5 419.6 507.8 420.2 496.3 420.9 485.8 421.5 476.3 422.1 467.5 422.7 459.6 423.4 452.2 424.0 445.4 424.6 438.9 425.2 432.9 425.9 427.2 426.5 421.8 427.1 416.6 427.7 411.8 428.4 407.1 429.0 402.8 429.6 398.6 430.2 394.7 430.8 391.0 431.4 387.4 432.1 384.0 432.7 380.8 433.3 377.7 433.9 374.8 434.5 372.1 435.1 369.4 435.8 366.9 436.4 364.6 437.0 362.3 437.6 360.2 438.2 358.2 438.8 356.3 439.4 354.5 440.0 352.9 440.6 351.3 441.2 349.9 441.8 348.5 442.5 347.3 443.1 346.1 443.7 345.1 444.3 344.1 444.9 343.2 445.5 342.5 446.1 341.8 446.7 341.2 447.3 340.7 447.9 340.3 448.5 340.0 449.1 339.8 449.7 339.8 450.3 339.8 450.9 340.0 451.5 340.2 452.1 340.6 452.7 341.0 453.3 341.6 453.9 342.3 454.5 343.1 455.1 344.0 455.7 345.0 456.2 346.2 456.8 347.4 457.4 348.8 458.0 350.2 458.6 351.8 459.2 353.6 459.8 355.5 460.4 357.6 461.0 359.8 461.6 362.3 462.2 365.0 462.7 367.9 463.3 371.0 463.9 374.4 464.5 378.0 465.1 382.0 465.7 386.2 466.3 390.9 466.9 395.9 467.4 401.4 468.0 407.3 468.6 413.8 469.2 421.0 469.8 428.9 470.4 437.6 470.9 447.4 471.5 458.3 472.1 470.8 472.7 485.3 473.3 502.2 473.8 522.6 474.4 547.9 475.0 563.8 475.6 566.0 476.2 541.6 476.7 515.1 477.3 493.1 477.9 474.2 478.5 457.6 479.1 442.8 479.6 429.4 480.2 417.2 480.8 406.0 481.4 395.5 481.9 385.8 482.5 376.6 483.1 368.0 483.7 359.8 484.2 352.1 484.8 344.7 485.4 337.7 486.0 331.0 486.5 324.6 487.1 318.4 487.7 312.4 488.2 306.7 488.8 301.2 489.4 295.8 490.0 290.7 490.5 285.7 491.1 280.8 491.7 276.1 492.2 271.5 492.8 267.1 493.4 262.8 493.9 258.6 494.5 254.5 495.1 250.5 495.7 246.6 496.2 242.7 496.8 239.0 497.4 235.4 497.9 231.8 498.5 228.4 499.1 225.0 499.6 221.7 500.2 218.5 500.8 215.3 501.3 212.2 501.9 209.2 502.5 206.3 503.0 203.4 503.6 200.5 504.1 197.8 504.7 195.0 505.3 192.4 505.8 189.8 506.4 187.2 507.0 184.7 507.5 182.2 508.1 179.8 508.7 177.4 509.2 175.1 509.8 172.9 510.3 170.6 510.9 168.4 511.5 166.3 512.0 164.2 512.6 162.1 513.2 160.1 513.7 158.1 514.3 156.2 514.8 154.3 515.4 152.4 516.0 150.5 516.5 148.7 517.1 147.0 517.6 145.2 518.2 143.5 518.8 141.9 519.3 140.2 519.9 138.7 520.4 137.1 521.0 135.6 521.5 134.1 522.1 132.6 522.7 131.1 523.2 129.7 523.8 128.3 524.3 126.9 524.9 125.6 525.5 124.3 526.0 123.0 526.6 121.7 527.1 120.5 527.7 119.3 528.2 118.1 528.8 117.0 529.4 115.8 529.9 114.7 530.5 113.7 531.0 112.6 531.6 111.6 532.1 110.6 532.7 109.6 533.2 108.7 533.8 107.7 534.4 106.8 534.9 105.9 535.5 105.1 536.0 104.3 536.6 103.4 537.1 102.7 537.7 101.9 538.2 101.1 538.8 100.4 539.4 99.7 539.9 99.0 540.5 98.4 541.0 97.8 541.6 97.1 542.1 96.6 542.7 96.0 543.2 95.4 543.8 94.9 544.4 94.4 544.9 93.9 545.5 93.5 546.0 93.0 546.6 92.6 547.1 92.2 547.7 91.8 548.2 91.5 548.8 91.1 549.3 90.8 549.9 90.5 550.4 90.2 551.0 90.0 551.6 89.8 552.1 89.5 552.7 89.4 553.2 89.2 553.8 89.0 554.3 88.9 554.9 88.8 555.4 88.7 556.0 88.6 556.5 88.6 557.1 88.5 557.6 88.5 558.2 88.5 558.8 88.5 559.3 88.5 559.9 88.6 560.4 88.6 561.0 88.7 561.5 88.8 562.1 88.9 562.6 89.0 563.2 89.2 563.7 89.3 564.3 89.5 564.8 89.7 565.4 90.0 566.0 90.2 566.5 90.5 567.1 90.8 567.6 91.1 568.2 91.4 568.7 91.8 569.3 92.2 569.8 92.6 570.4 93.0 570.9 93.4 571.5 93.9 572.0 94.3 572.6 94.8 573.2 95.3 573.7 95.9 574.3 96.4 574.8 97.0 575.4 97.6 575.9 98.3 576.5 98.9 577.0 99.6 577.6 100.3 578.2 101.0 578.7 101.7 579.3 102.5 579.8 103.2 580.4 104.0 580.9 104.9 581.5 105.7 582.0 106.6 582.6 107.5 583.2 108.4 583.7 109.3 584.3 110.3 584.8 111.3 585.4 112.3 585.9 113.3 586.5 114.4 587.0 115.5 587.6 116.6 588.2 117.7 588.7 118.9 589.3 120.1 589.8 121.3 590.4 122.5 590.9 123.8 591.5 125.1 592.1 126.4 592.6 127.7 593.2 129.1 593.7 130.5 594.3 132.0 594.9 133.4 595.4 134.9 596.0 136.4 596.5 137.9 597.1 139.5 597.6 141.1 598.2 142.7 598.8 144.4 599.3 146.1 599.9 147.9 600.4 149.6 601.0 151.5 601.6 153.3 602.1 155.2 602.7 157.1 603.2 159.1 603.8 161.1 604.4 163.1 604.9 165.2 605.5 167.3 606.1 169.5 606.6 171.7 607.2 173.9 607.7 176.2 608.3 178.6 608.9 180.9 609.4 183.4 610.0 185.8 610.6 188.4 611.1 190.9 611.7 193.6 612.3 196.3 612.8 199.0 613.4 201.8 613.9 204.6 614.5 207.6 615.1 210.5 615.6 213.6 616.2 216.7 616.8 219.9 617.3 223.1 617.9 226.4 618.5 229.7 619.0 233.2 619.6 236.8 620.2 240.5 620.7 244.3 621.3 248.1 621.9 252.0 622.5 256.0 623.0 260.1 623.6 264.3 624.2 268.6 624.7 273.1 625.3 277.6 625.9 282.3 626.4 287.2 627.0 292.2 627.6 297.3 628.2 302.7 628.7 308.2 629.3 313.9 629.9 319.8 630.4 326.0 631.0 332.4 631.6 339.1 632.2 346.1 632.7 353.4 633.3 361.0 633.9 369.1 634.5 377.7 635.0 386.7 635.6 396.3 636.2 406.6 636.8 417.7 637.3 429.7 637.9 442.8 638.5 457.3 639.1 473.4 639.7 491.7 640.2 512.9 640.8 528.7 641.4 525.3 642.0 518.6 642.6 498.6 643.1 481.8 643.7 467.5 644.3 455.0 644.9 444.1 645.5 434.3 646.0 425.6 646.6 417.7 647.2 410.6 647.8 404.0 648.4 398.1 649.0 392.6 649.5 387.5 650.1 382.8 650.7 378.5 651.3 374.6 651.9 370.9 652.5 367.5 653.1 364.3 653.7 361.4 654.2 358.7 654.8 356.2 655.4 353.9 656.0 351.7 656.6 349.8 657.2 348.0 657.8 346.3 658.4 344.8 659.0 343.4 659.6 342.2 660.2 341.0 660.7 339.9 661.3 338.9 661.9 338.0 662.5 337.2 663.1 336.5 663.7 335.9 664.3 335.4 664.9 335.1 665.5 334.8 666.1 334.6 666.7 334.6 667.3 334.6 667.9 334.7 668.5 335.0 669.1 335.4 669.7 335.9 670.3 336.5 670.9 337.1 671.5 337.8 672.1 338.6 672.7 339.5 673.3 340.4 673.9 341.5 674.6 342.7 675.2 344.0 675.8 345.3 676.4 346.8 677.0 348.4 677.6 350.0 678.2 351.8 678.8 353.7 679.4 355.7 680.0 357.8 680.6 360.0 681.3 362.3 681.9 364.8 682.5 367.4 683.1 370.1 683.7 372.9 684.3 375.9 685.0 379.1 685.6 382.4 686.2 385.9 686.8 389.5 687.4 393.3 688.0 397.4 688.7 401.6 689.3 406.0 689.9 410.7 690.5 415.7 691.2 420.8 691.8 426.2 692.4 431.9 693.0 438.0 693.7 444.5 694.3 451.4 694.9 459.0 695.5 467.3 696.2 476.3 696.8 486.0 697.4 496.6 698.1 508.1 698.7 520.9 699.3 532.4 700.0 543.1 700.6 543.7 701.2 541.1 701.9 526.7 702.5 513.6 703.2 501.8 703.8 491.2 704.4 481.6 705.1 472.7 705.7 464.5 706.4 456.9 707.0 449.9 707.7 443.3 708.3 437.1 708.9 431.3 709.6 425.9 710.2 420.9 710.9 416.2 711.5 411.7 712.2 407.4 712.9 403.4 713.5 399.5 714.2 395.8 714.8 392.3 715.5 389.0 716.1 385.8 716.8 382.8 717.4 379.9 718.1 377.2 718.8 374.6 719.4 372.1 720.1 369.7 720.8 367.4 721.4 365.3 722.1 363.3 722.8 361.3 723.4 359.5 724.1 357.5 724.8 355.5 725.4 353.8 726.1 352.3 726.8 350.8 727.5 349.3 728.1 347.9 728.8 346.5 729.5 345.2 730.2 344.1 730.9 343.0 731.5 342.0 732.2 341.0 732.9 340.2 733.6 339.4 734.3 338.6 735.0 338.0 735.7 337.4 736.4 336.9 737.0 336.4 737.7 336.0 738.4 335.7 739.1 335.5 739.8 335.3 740.5 335.2 741.2 335.0 741.9 335.1 742.6 335.2 743.3 335.3 744.0 335.5 744.8 335.8 745.5 336.2 746.2 336.6 746.9 337.1 747.6 337.6 748.3 338.3 749.0 339.0 749.8 339.7 750.5 340.6 751.2 341.5 751.9 342.4 752.6 343.5 753.4 344.6 754.1 345.8 754.8 347.1 755.6 348.4 756.3 349.8 757.0 351.3 757.8 352.9 758.5 354.6 759.2 356.3 760.0 358.2 760.7 360.1 761.5 362.2 762.2 364.3 763.0 366.5 763.7 368.9 764.5 371.3 765.2 373.9 766.0 376.6 766.7 379.1 767.5 381.7 768.3 384.4 769.0 387.2 769.8 390.2 770.6 393.3 771.3 396.5 772.1 399.9 772.9 403.4 773.6 407.1 774.4 410.9 775.2 415.0 776.0 419.2 776.8 424.0 777.6 429.2 778.4 434.6 779.1 440.4 779.9 446.5 780.7 453.1 781.5 460.0 782.3 467.4 783.1 475.4 783.9 484.0 784.8 493.4 785.6 503.6 786.4 514.8 787.2 527.2 788.0 540.4 788.8 528.9 789.7 517.7 790.5 507.4 791.3 497.8 792.2 489.0 793.0 480.7 793.8 473.1 794.7 465.9 795.5 459.1 796.4 452.7 797.2 446.7 798.1 441.1 798.9 435.7 799.8 430.6 800.6 425.8 801.5 421.2 802.4 416.8 803.3 412.6 804.1 408.7 805.0 404.9 805.9 401.2 806.8 397.8 807.7 394.4 808.6 391.3 809.5 388.2 810.4 385.3 811.3 382.5 812.2 379.9 813.1 377.3 814.0 374.9 814.9 372.6 815.8 370.3 816.8 368.2 817.7 366.1 818.6 364.2 819.6 362.3 820.5 360.6 821.5 358.9 822.4 357.3 823.4 355.7 824.4 354.2 825.3 352.5 826.3 350.9 827.3 349.4 828.3 347.9 829.3 346.5 830.3 345.2 831.3 344.0 832.3 343.0 833.3 342.1 834.3 341.0 835.3 340.0 836.4 339.2 837.4 338.6 838.4 337.8 839.5 337.0 840.5 336.2 841.6 335.6 842.7 335.0 843.7 334.4 844.8 333.9 845.9 333.6 847.0 333.3 848.1 333.1 849.2 333.0 850.3 332.9 851.5 332.9 852.6 332.9 853.7 333.0 854.9 333.1 856.1 333.4 857.2 333.6 858.4 334.0 859.6 334.6 860.8 335.1 862.0 335.8 863.2 336.5 864.5 337.3 865.7 338.2 866.9 339.1 868.2 340.1 869.5 341.1 870.8 342.3 872.1 343.5 873.4 344.8 874.7 346.1 876.1 347.6 877.4 349.0 878.8 350.4 880.2 352.0 881.6 353.6 883.0 355.3 884.4 357.1 885.9 359.0 887.4 361.0 888.9 363.1 890.4 365.3 891.9 367.6 893.5 370.0 895.1 372.6 896.7 375.2 898.3 378.0 900.0 380.9 901.7 384.0 903.4 387.2 905.2 390.6 907.0 394.1 908.8 397.8 910.6 401.7 912.6 405.8 914.5 410.2 916.5 414.8 918.6 419.6 920.7 424.7 922.9 428.9 925.1 433.4 927.4 438.0 929.8 442.8 932.3 447.9 934.9 453.2 937.6 458.8 940.5 464.7 943.5 470.8 946.7 478.3 950.1 487.3 953.9 497.0 958.0 507.8 962.7 519.6 968.3 532.9 975.6 550.3 993.1 559.4" stroke-dashoffset="5.8"/>
<path d="M123.3 656.6 140.8 656.6 148.1 656.6 153.7 656.6 158.4 656.6 162.5 656.6 166.3 653.4 169.7 633.2 172.9 613.1 175.9 597.3 178.8 589.3 181.5 579.8 184.1 570.1 186.6 560.8 189.0 552.0 191.3 542.9 193.5 533.2 195.7 522.5 197.8 511.8 199.9 502.1 201.9 493.2 203.8 485.0 205.8 477.4 207.6 470.4 209.4 463.8 211.2 457.7 213.0 452.0 214.7 446.6 216.4 441.6 218.1 436.8 219.7 432.3 221.3 426.0 222.9 422.1 224.5 418.3 226.0 414.8 227.5 411.4 229.0 408.2 230.5 405.1 232.0 402.2 233.4 399.5 234.8 396.9 236.2 394.4 237.6 392.0 239.0 389.8 240.3 387.7 241.7 385.7 243.0 383.9 244.3 382.3 245.6 380.9 246.9 379.6 248.2 378.3 249.5 377.1 250.7 376.0 251.9 375.0 253.2 374.1 254.4 373.3 255.6 372.6 256.8 371.9 258.0 371.3 259.2 370.8 260.3 370.4 261.5 370.0 262.7 369.7 263.8 369.5 264.9 369.4 266.1 369.3 267.2 369.4 268.3 369.4 269.4 369.6 270.5 369.9 271.6 370.2 272.7 370.6 273.7 371.1 274.8 371.7 275.9 372.3 276.9 373.0 278.0 373.8 279.0 374.7 280.0 375.7 281.1 376.7 282.1 377.9 283.1 379.1 284.1 380.4 285.1 381.8 286.1 383.3 287.1 384.9 288.1 386.5 289.1 388.1 290.1 389.9 291.1 391.7 292.0 393.9 293.0 396.2 294.0 398.7 294.9 401.3 295.9 404.0 296.8 406.9 297.8 409.9 298.7 413.1 299.6 416.4 300.6 419.8 301.5 423.5 302.4 427.3 303.3 431.3 304.2 435.6 305.1 440.1 306.0 444.8 306.9 450.0 307.8 456.0 308.7 462.4 309.6 469.2 310.5 476.3 311.4 483.7 312.3 491.7 313.1 500.4 314.0 509.9 314.9 520.3 315.8 531.9 316.6 544.8 317.5 559.4 318.3 576.2 319.2 595.8 320.0 619.5 320.9 648.9 321.7 656.6 322.6 656.6 323.4 656.6 324.2 656.6 325.1 656.6 325.9 656.6 326.7 656.6 327.6 656.6 328.4 656.6 329.2 656.6 330.0 656.6 330.8 656.6 331.6 656.6 332.5 656.6 333.3 656.6 334.1 656.6 334.9 647.5 335.7 621.2 336.5 598.7 337.3 579.4 338.0 562.7 338.8 548.0 339.6 535.0 340.4 523.3 341.2 512.7 342.0 503.0 342.8 494.2 343.5 486.1 344.3 478.5 345.1 471.5 345.8 465.0 346.6 458.9 347.4 453.2 348.1 447.8 348.9 442.7 349.7 438.0 350.4 433.5 351.2 429.2 351.9 425.2 352.7 421.4 353.4 417.8 354.2 414.3 354.9 411.0 355.7 407.8 356.4 404.8 357.2 402.0 357.9 399.3 358.6 396.7 359.4 394.3 360.1 392.0 360.8 389.9 361.6 387.8 362.3 385.9 363.0 384.1 363.8 382.4 364.5 380.8 365.2 379.3 365.9 377.9 366.6 376.6 367.4 375.4 368.1 374.3 368.8 373.3 369.5 372.3 370.2 371.5 370.9 370.7 371.6 370.1 372.4 369.5 373.1 369.0 373.8 368.6 374.5 368.3 375.2 368.0 375.9 367.9 376.6 367.8 377.3 367.8 378.0 367.9 378.7 368.1 379.4 368.3 380.0 368.7 380.7 369.1 381.4 369.6 382.1 370.2 382.8 370.9 383.5 371.7 384.2 372.5 384.9 373.5 385.5 374.6 386.2 375.9 386.9 377.4 387.6 378.9 388.3 380.6 388.9 382.4 389.6 384.3 390.3 386.4 391.0 388.5 391.6 390.8 392.3 393.3 393.0 395.9 393.6 398.6 394.3 401.4 395.0 404.2 395.6 407.1 396.3 410.3 397.0 413.5 397.6 417.0 398.3 420.7 399.0 424.6 399.6 428.9 400.3 433.8 400.9 438.9 401.6 444.4 402.2 450.3 402.9 456.6 403.5 463.4 404.2 470.7 404.9 478.6 405.5 487.2 406.2 496.6 406.8 507.0 407.5 518.5 408.1 531.4 408.7 546.1 409.4 563.0 410.0 583.0 410.7 607.3 411.3 638.3 412.0 656.6 412.6 656.6 413.2 656.6 413.9 656.6 414.5 656.6 415.2 656.6 415.8 656.6 416.4 656.6 417.1 656.6 417.7 656.6 418.3 656.6 419.0 656.6 419.6 656.6 420.2 656.6 420.9 628.9 421.5 599.4 422.1 576.0 422.7 556.5 423.4 539.9 424.0 525.5 424.6 512.7 425.2 501.9 425.9 492.4 426.5 483.6 427.1 475.6 427.7 468.2 428.4 461.3 429.0 454.8 429.6 448.8 430.2 443.2 430.8 437.9 431.4 433.0 432.1 428.3 432.7 423.9 433.3 419.6 433.9 415.5 434.5 411.6 435.1 408.0 435.8 404.5 436.4 401.3 437.0 398.2 437.6 395.4 438.2 392.7 438.8 390.1 439.4 387.7 440.0 385.5 440.6 383.4 441.2 381.5 441.8 379.7 442.5 378.0 443.1 376.5 443.7 375.1 444.3 373.8 444.9 372.6 445.5 371.6 446.1 370.7 446.7 369.9 447.3 369.2 447.9 368.7 448.5 368.3 449.1 368.0 449.7 367.8 450.3 367.8 450.9 367.9 451.5 368.1 452.1 368.4 452.7 368.9 453.3 369.5 453.9 370.3 454.5 371.2 455.1 372.2 455.7 373.4 456.2 374.8 456.8 376.4 457.4 378.2 458.0 380.2 458.6 382.4 459.2 384.9 459.8 387.5 460.4 390.4 461.0 393.6 461.6 397.1 462.2 400.8 462.7 404.9 463.3 409.3 463.9 414.2 464.5 419.5 465.1 425.1 465.7 431.1 466.3 437.7 466.9 445.1 467.4 453.5 468.0 463.1 468.6 473.9 469.2 486.3 469.8 500.6 470.4 517.4 470.9 537.7 471.5 563.2 472.1 596.9 472.7 645.0 473.3 656.6 473.8 656.6 474.4 656.6 475.0 656.6 475.6 656.6 476.2 656.6 476.7 656.6 477.3 651.8 477.9 593.3 478.5 552.6 479.1 521.7 479.6 496.7 480.2 475.7 480.8 457.5 481.4 441.5 481.9 427.4 482.5 414.7 483.1 403.1 483.7 392.3 484.2 382.2 484.8 372.8 485.4 363.9 486.0 355.6 486.5 347.7 487.1 340.1 487.7 333.0 488.2 326.1 488.8 319.6 489.4 313.3 490.0 307.3 490.5 301.5 491.1 295.9 491.7 290.5 492.2 285.3 492.8 280.2 493.4 275.4 493.9 270.6 494.5 266.0 495.1 261.6 495.7 257.3 496.2 253.1 496.8 249.0 497.4 245.0 497.9 241.1 498.5 237.4 499.1 233.7 499.6 230.1 500.2 226.7 500.8 223.3 501.3 220.0 501.9 216.7 502.5 213.5 503.0 210.4 503.6 207.3 504.1 204.4 504.7 201.5 505.3 198.6 505.8 195.9 506.4 193.1 507.0 190.5 507.5 187.9 508.1 185.3 508.7 182.8 509.2 180.3 509.8 177.9 510.3 175.6 510.9 173.3 511.5 171.0 512.0 168.8 512.6 166.6 513.2 164.4 513.7 162.3 514.3 160.3 514.8 158.3 515.4 156.3 516.0 154.4 516.5 152.5 517.1 150.6 517.6 148.8 518.2 147.0 518.8 145.2 519.3 143.5 519.9 141.8 520.4 140.2 521.0 138.5 521.5 136.9 522.1 135.4 522.7 133.9 523.2 132.4 523.8 130.9 524.3 129.5 524.9 128.1 525.5 126.8 526.0 125.4 526.6 124.1 527.1 122.8 527.7 121.6 528.2 120.3 528.8 119.1 529.4 117.9 529.9 116.8 530.5 115.7 531.0 114.6 531.6 113.5 532.1 112.4 532.7 111.4 533.2 110.4 533.8 109.4 534.4 108.5 534.9 107.5 535.5 106.6 536.0 105.8 536.6 104.9 537.1 104.1 537.7 103.3 538.2 102.5 538.8 101.7 539.4 101.0 539.9 100.3 540.5 99.6 541.0 98.9 541.6 98.2 542.1 97.6 542.7 97.0 543.2 96.4 543.8 95.9 544.4 95.3 544.9 94.8 545.5 94.3 546.0 93.8 546.6 93.4 547.1 92.9 547.7 92.5 548.2 92.1 548.8 91.7 549.3 91.4 549.9 91.1 550.4 90.8 551.0 90.5 551.6 90.2 552.1 89.9 552.7 89.7 553.2 89.5 553.8 89.3 554.3 89.1 554.9 89.0 555.4 88.9 556.0 88.8 556.5 88.7 557.1 88.6 557.6 88.6 558.2 88.5 558.8 88.6 559.3 88.6 559.9 88.7 560.4 88.8 561.0 88.9 561.5 89.0 562.1 89.1 562.6 89.3 563.2 89.5 563.7 89.7 564.3 89.9 564.8 90.2 565.4 90.5 566.0 90.8 566.5 91.1 567.1 91.4 567.6 91.7 568.2 92.1 568.7 92.5 569.3 92.9 569.8 93.4 570.4 93.8 570.9 94.3 571.5 94.8 572.0 95.3 572.6 95.9 573.2 96.4 573.7 97.0 574.3 97.6 574.8 98.2 575.4 98.9 575.9 99.6 576.5 100.3 577.0 101.0 577.6 101.7 578.2 102.5 578.7 103.3 579.3 104.1 579.8 104.9 580.4 105.8 580.9 106.6 581.5 107.5 582.0 108.5 582.6 109.4 583.2 110.4 583.7 111.4 584.3 112.4 584.8 113.5 585.4 114.6 585.9 115.7 586.5 116.8 587.0 117.9 587.6 119.1 588.2 120.3 588.7 121.6 589.3 122.8 589.8 124.1 590.4 125.4 590.9 126.8 591.5 128.1 592.1 129.5 592.6 130.9 593.2 132.4 593.7 133.9 594.3 135.4 594.9 136.9 595.4 138.5 596.0 140.2 596.5 141.8 597.1 143.5 597.6 145.2 598.2 147.0 598.8 148.8 599.3 150.6 599.9 152.5 600.4 154.4 601.0 156.3 601.6 158.3 602.1 160.3 602.7 162.3 603.2 164.4 603.8 166.6 604.4 168.8 604.9 171.0 605.5 173.3 606.1 175.6 606.6 177.9 607.2 180.3 607.7 182.8 608.3 185.3 608.9 187.9 609.4 190.5 610.0 193.1 610.6 195.9 611.1 198.6 611.7 201.5 612.3 204.4 612.8 207.3 613.4 210.4 613.9 213.5 614.5 216.7 615.1 220.0 615.6 223.3 616.2 226.7 616.8 230.1 617.3 233.7 617.9 237.4 618.5 241.1 619.0 245.0 619.6 249.0 620.2 253.1 620.7 257.3 621.3 261.6 621.9 266.0 622.5 270.6 623.0 275.4 623.6 280.2 624.2 285.3 624.7 290.5 625.3 295.9 625.9 301.5 626.4 307.3 627.0 313.3 627.6 319.6 628.2 326.1 628.7 333.0 629.3 340.1 629.9 347.7 630.4 355.6 631.0 363.9 631.6 372.8 632.2 382.2 632.7 392.3 633.3 403.1 633.9 414.7 634.5 427.4 635.0 441.5 635.6 457.5 636.2 475.7 636.8 496.7 637.3 521.7 637.9 552.6 638.5 593.3 639.1 651.8 639.7 656.6 640.2 656.6 640.8 656.6 641.4 656.6 642.0 656.6 642.6 656.6 643.1 656.6 643.7 645.0 644.3 596.9 644.9 563.2 645.5 537.7 646.0 517.4 646.6 500.6 647.2 486.3 647.8 473.9 648.4 463.1 649.0 453.5 649.5 445.1 650.1 437.7 650.7 431.1 651.3 425.1 651.9 419.5 652.5 414.2 653.1 409.3 653.7 404.9 654.2 400.8 654.8 397.1 655.4 393.6 656.0 390.4 656.6 387.5 657.2 384.9 657.8 382.4 658.4 380.2 659.0 378.2 659.6 376.4 660.2 374.8 660.7 373.4 661.3 372.2 661.9 371.2 662.5 370.3 663.1 369.5 663.7 368.9 664.3 368.4 664.9 368.1 665.5 367.9 666.1 367.8 666.7 367.8 667.3 368.0 667.9 368.3 668.5 368.7 669.1 369.2 669.7 369.9 670.3 370.7 670.9 371.6 671.5 372.6 672.1 373.8 672.7 375.1 673.3 376.5 673.9 378.0 674.6 379.7 675.2 381.5 675.8 383.4 676.4 385.5 677.0 387.7 677.6 390.1 678.2 392.7 678.8 395.4 679.4 398.2 680.0 401.3 680.6 404.5 681.3 408.0 681.9 411.6 682.5 415.5 683.1 419.6 683.7 423.9 684.3 428.3 685.0 433.0 685.6 437.9 686.2 443.2 686.8 448.8 687.4 454.8 688.0 461.3 688.7 468.2 689.3 475.6 689.9 483.6 690.5 492.4 691.2 501.9 691.8 512.7 692.4 525.5 693.0 539.9 693.7 556.5 694.3 576.0 694.9 599.4 695.5 628.9 696.2 656.6 696.8 656.6 697.4 656.6 698.1 656.6 698.7 656.6 699.3 656.6 700.0 656.6 700.6 656.6 701.2 656.6 701.9 656.6 702.5 656.6 703.2 656.6 703.8 656.6 704.4 656.6 705.1 638.3 705.7 607.3 706.4 583.0 707.0 563.0 707.7 546.1 708.3 531.4 708.9 518.5 709.6 507.0 710.2 496.6 710.9 487.2 711.5 478.6 712.2 470.7 712.9 463.4 713.5 456.6 714.2 450.3 714.8 444.4 715.5 438.9 716.1 433.8 716.8 428.9 717.4 424.6 718.1 420.7 718.8 417.0 719.4 413.5 720.1 410.3 720.8 407.1 721.4 404.2 722.1 401.4 722.8 398.6 723.4 395.9 724.1 393.3 724.8 390.8 725.4 388.5 726.1 386.4 726.8 384.3 727.5 382.4 728.1 380.6 728.8 378.9 729.5 377.4 730.2 375.9 730.9 374.6 731.5 373.5 732.2 372.5 732.9 371.7 733.6 370.9 734.3 370.2 735.0 369.6 735.7 369.1 736.4 368.7 737.0 368.3 737.7 368.1 738.4 367.9 739.1 367.8 739.8 367.8 740.5 367.9 741.2 368.0 741.9 368.3 742.6 368.6 743.3 369.0 744.0 369.5 744.8 370.1 745.5 370.7 746.2 371.5 746.9 372.3 747.6 373.3 748.3 374.3 749.0 375.4 749.8 376.6 750.5 377.9 751.2 379.3 751.9 380.8 752.6 382.4 753.4 384.1 754.1 385.9 754.8 387.8 755.6 389.9 756.3 392.0 757.0 394.3 757.8 396.7 758.5 399.3 759.2 402.0 760.0 404.8 760.7 407.8 761.5 411.0 762.2 414.3 763.0 417.8 763.7 421.4 764.5 425.2 765.2 429.2 766.0 433.5 766.7 438.0 767.5 442.7 768.3 447.8 769.0 453.2 769.8 458.9 770.6 465.0 771.3 471.5 772.1 478.5 772.9 486.1 773.6 494.2 774.4 503.0 775.2 512.7 776.0 523.3 776.8 535.0 777.6 548.0 778.4 562.7 779.1 579.4 779.9 598.7 780.7 621.2 781.5 647.5 782.3 656.6 783.1 656.6 783.9 656.6 784.8 656.6 785.6 656.6 786.4 656.6 787.2 656.6 788.0 656.6 788.8 656.6 789.7 656.6 790.5 656.6 791.3 656.6 792.2 656.6 793.0 656.6 793.8 656.6 794.7 656.6 795.5 648.9 796.4 619.5 797.2 595.8 798.1 576.2 798.9 559.4 799.8 544.8 800.6 531.9 801.5 520.3 802.4 509.9 803.3 500.4 804.1 491.7 805.0 483.7 805.9 476.3 806.8 469.2 807.7 462.4 808.6 456.0 809.5 450.0 810.4 444.8 811.3 440.1 812.2 435.6 813.1 431.3 814.0 427.3 814.9 423.5 815.8 419.8 816.8 416.4 817.7 413.1 818.6 409.9 819.6 406.9 820.5 404.0 821.5 401.3 822.4 398.7 823.4 396.2 824.4 393.9 825.3 391.7 826.3 389.9 827.3 388.1 828.3 386.5 829.3 384.9 830.3 383.3 831.3 381.8 832.3 380.4 833.3 379.1 834.3 377.9 835.3 376.7 836.4 375.7 837.4 374.7 838.4 373.8 839.5 373.0 840.5 372.3 841.6 371.7 842.7 371.1 843.7 370.6 844.8 370.2 845.9 369.9 847.0 369.6 848.1 369.4 849.2 369.4 850.3 369.3 851.5 369.4 852.6 369.5 853.7 369.7 854.9 370.0 856.1 370.4 857.2 370.8 858.4 371.3 859.6 371.8 860.8 372.3 862.0 373.0 863.2 373.7 864.5 374.6 865.7 375.5 866.9 376.5 868.2 377.5 869.5 378.7 870.8 379.9 872.1 381.3 873.4 382.7 874.7 384.4 876.1 386.2 877.4 388.2 878.8 390.3 880.2 392.4 881.6 394.7 883.0 397.1 884.4 399.7 885.9 402.4 887.4 405.2 888.9 408.1 890.4 411.2 891.9 414.5 893.5 417.9 895.1 421.5 896.7 425.4 898.3 429.6 900.0 434.1 901.7 438.9 903.4 443.9 905.2 449.3 907.0 455.0 908.8 461.1 910.6 467.6 912.6 474.6 914.5 482.1 916.5 490.2 918.6 499.0 920.7 508.7 922.9 519.3 925.1 531.1 927.4 544.2 929.8 558.5 932.3 574.8 934.9 593.9 937.6 617.4 940.5 647.3 943.5 656.6 946.7 656.6 950.1 656.6 953.9 656.6 958.0 656.6 962.7 656.6 968.3 656.6 975.6 656.6 993.1 656.6" stroke-dashoffset="7.3"/>
</g>
<path d="M123.3 472.2 140.8 464.6 148.1 457.5 153.7 450.8 158.4 444.5 162.5 438.5 166.3 432.9 169.7 427.5 172.9 422.3 175.9 417.4 178.8 412.8 181.5 408.3 184.1 404.0 186.6 399.9 189.0 396.0 191.3 392.2 193.5 388.6 195.7 385.1 197.8 381.8 199.9 378.6 201.9 375.5 203.8 372.5 205.8 369.6 207.6 366.9 209.4 364.2 211.2 361.7 213.0 359.2 214.7 356.8 216.4 354.5 218.1 352.3 219.7 350.2 221.3 348.2 222.9 346.2 224.5 344.4 226.0 342.6 227.5 340.8 229.0 339.2 230.5 337.6 232.0 336.0 233.4 334.6 234.8 333.2 236.2 331.8 237.6 330.6 239.0 329.3 240.3 328.2 241.7 327.1 243.0 326.0 244.3 325.1 245.6 324.1 246.9 323.3 248.2 322.4 249.5 321.7 250.7 321.0 251.9 320.3 253.2 319.7 254.4 319.2 255.6 318.7 256.8 318.2 258.0 317.8 259.2 317.5 260.3 317.2 261.5 316.9 262.7 316.7 263.8 316.6 264.9 316.5 266.1 316.4 267.2 316.4 268.3 316.5 269.4 316.6 270.5 316.7 271.6 316.9 272.7 317.2 273.7 317.5 274.8 317.9 275.9 318.3 276.9 318.7 278.0 319.2 279.0 319.8 280.0 320.4 281.1 321.1 282.1 321.8 283.1 322.6 284.1 323.4 285.1 324.3 286.1 325.2 287.1 326.2 288.1 327.3 289.1 328.4 290.1 329.5 291.1 330.8 292.0 332.1 293.0 333.4 294.0 334.9 294.9 336.3 295.9 337.9 296.8 339.5 297.8 341.2 298.7 343.0 299.6 344.8 300.6 346.7 301.5 348.7 302.4 350.8 303.3 353.0 304.2 355.2 305.1 357.5 306.0 360.0 306.9 362.5 307.8 365.1 308.7 367.8 309.6 370.6 310.5 373.6 311.4 376.6 312.3 379.8 313.1 383.1 314.0 386.6 314.9 390.1 315.8 393.9 316.6 397.8 317.5 401.8 318.3 406.1 319.2 410.5 320.0 415.2 320.9 420.0 321.7 425.1 322.6 430.5 323.4 436.1 324.2 442.1 325.1 448.4 325.9 455.0 326.7 462.1 327.6 469.6 328.4 466.9 329.2 459.6 330.0 452.6 330.8 446.1 331.6 439.9 332.5 434.1 333.3 428.5 334.1 423.2 334.9 418.2 335.7 413.4 336.5 408.8 337.3 404.4 338.0 400.2 338.8 396.2 339.6 392.3 340.4 388.6 341.2 385.0 342.0 381.6 342.8 378.3 343.5 375.2 344.3 372.1 345.1 369.2 345.8 366.4 346.6 363.7 347.4 361.1 348.1 358.6 348.9 356.2 349.7 353.9 350.4 351.6 351.2 349.5 351.9 347.4 352.7 345.4 353.4 343.5 354.2 341.7 354.9 340.0 355.7 338.3 356.4 336.7 357.2 335.1 357.9 333.7 358.6 332.3 359.4 330.9 360.1 329.6 360.8 328.4 361.6 327.3 362.3 326.2 363.0 325.2 363.8 324.2 364.5 323.3 365.2 322.5 365.9 321.7 366.6 320.9 367.4 320.2 368.1 319.6 368.8 319.1 369.5 318.6 370.2 318.1 370.9 317.7 371.6 317.4 372.4 317.1 373.1 316.8 373.8 316.6 374.5 316.5 375.2 316.4 375.9 316.4 376.6 316.5 377.3 316.6 378.0 316.7 378.7 316.9 379.4 317.2 380.0 317.5 380.7 317.8 381.4 318.3 382.1 318.7 382.8 319.3 383.5 319.9 384.2 320.5 384.9 321.2 385.5 322.0 386.2 322.8 386.9 323.7 387.6 324.7 388.3 325.7 388.9 326.8 389.6 327.9 390.3 329.2 391.0 330.4 391.6 331.8 392.3 333.2 393.0 334.7 393.6 336.3 394.3 338.0 395.0 339.7 395.6 341.5 396.3 343.4 397.0 345.4 397.6 347.5 398.3 349.6 399.0 351.9 399.6 354.2 400.3 356.7 400.9 359.3 401.6 361.9 402.2 364.7 402.9 367.6 403.5 370.7 404.2 373.8 404.9 377.1 405.5 380.6 406.2 384.2 406.8 388.0 407.5 391.9 408.1 396.0 408.7 400.4 409.4 404.9 410.0 409.7 410.7 414.7 411.3 420.0 412.0 425.5 412.6 431.4 413.2 437.6 413.9 444.2 414.5 451.2 415.2 458.8 415.8 466.8 416.4 469.0 417.1 460.8 417.7 453.1 418.3 445.9 419.0 439.1 419.6 432.7 420.2 426.7 420.9 420.9 421.5 415.5 422.1 410.3 422.7 405.3 423.4 400.6 424.0 396.1 424.6 391.8 425.2 387.7 425.9 383.8 426.5 380.0 427.1 376.4 427.7 372.9 428.4 369.6 429.0 366.4 429.6 363.4 430.2 360.4 430.8 357.6 431.4 354.9 432.1 352.3 432.7 349.9 433.3 347.5 433.9 345.2 434.5 343.1 435.1 341.0 435.8 339.0 436.4 337.1 437.0 335.3 437.6 333.6 438.2 332.0 438.8 330.4 439.4 329.0 440.0 327.6 440.6 326.3 441.2 325.1 441.8 324.0 442.5 322.9 443.1 322.0 443.7 321.1 444.3 320.2 444.9 319.5 445.5 318.9 446.1 318.3 446.7 317.8 447.3 317.3 447.9 317.0 448.5 316.7 449.1 316.6 449.7 316.4 450.3 316.4 450.9 316.5 451.5 316.6 452.1 316.9 452.7 317.2 453.3 317.6 453.9 318.1 454.5 318.7 455.1 319.4 455.7 320.2 456.2 321.1 456.8 322.1 457.4 323.2 458.0 324.4 458.6 325.7 459.2 327.2 459.8 328.8 460.4 330.5 461.0 332.3 461.6 334.3 462.2 336.5 462.7 338.8 463.3 341.3 463.9 343.9 464.5 346.8 465.1 349.8 465.7 353.1 466.3 356.6 466.9 360.4 467.4 364.4 468.0 368.8 468.6 373.5 469.2 378.6 469.8 384.0 470.4 390.0 470.9 396.4 471.5 403.5 472.1 411.2 472.7 419.7 473.3 429.1 473.8 439.7 474.4 451.6 475.0 465.3 475.6 463.9 476.2 449.8 476.7 436.9 477.3 425.1 477.9 414.1 478.5 403.9 479.1 394.3 479.6 385.3 480.2 376.7 480.8 368.6 481.4 360.9 481.9 353.5 482.5 346.5 483.1 339.7 483.7 333.3 484.2 327.0 484.8 321.0 485.4 315.2 486.0 309.6 486.5 304.2 487.1 298.9 487.7 293.8 488.2 288.9 488.8 284.1 489.4 279.4 490.0 274.9 490.5 270.5 491.1 266.2 491.7 262.0 492.2 257.9 492.8 253.9 493.4 250.0 493.9 246.2 494.5 242.5 495.1 238.9 495.7 235.4 496.2 231.9 496.8 228.5 497.4 225.2 497.9 221.9 498.5 218.7 499.1 215.6 499.6 212.6 500.2 209.6 500.8 206.6 501.3 203.8 501.9 200.9 502.5 198.2 503.0 195.5 503.6 192.8 504.1 190.2 504.7 187.6 505.3 185.1 505.8 182.7 506.4 180.2 507.0 177.9 507.5 175.5 508.1 173.2 508.7 171.0 509.2 168.8 509.8 166.6 510.3 164.5 510.9 162.4 511.5 160.3 512.0 158.3 512.6 156.4 513.2 154.4 513.7 152.5 514.3 150.6 514.8 148.8 515.4 147.0 516.0 145.2 516.5 143.5 517.1 141.8 517.6 140.1 518.2 138.5 518.8 136.8 519.3 135.3 519.9 133.7 520.4 132.2 521.0 130.7 521.5 129.2 522.1 127.8 522.7 126.4 523.2 125.0 523.8 123.6 524.3 122.3 524.9 121.0 525.5 119.7 526.0 118.5 526.6 117.2 527.1 116.0 527.7 114.9 528.2 113.7 528.8 112.6 529.4 111.5 529.9 110.4 530.5 109.4 531.0 108.3 531.6 107.3 532.1 106.3 532.7 105.4 533.2 104.4 533.8 103.5 534.4 102.6 534.9 101.8 535.5 100.9 536.0 100.1 536.6 99.3 537.1 98.5 537.7 97.8 538.2 97.0 538.8 96.3 539.4 95.6 539.9 95.0 540.5 94.3 541.0 93.7 541.6 93.1 542.1 92.5 542.7 91.9 543.2 91.4 543.8 90.8 544.4 90.3 544.9 89.9 545.5 89.4 546.0 89.0 546.6 88.5 547.1 88.1 547.7 87.7 548.2 87.4 548.8 87.0 549.3 86.7 549.9 86.4 550.4 86.1 551.0 85.9 551.6 85.6 552.1 85.4 552.7 85.2 553.2 85.0 553.8 84.8 554.3 84.7 554.9 84.6 555.4 84.5 556.0 84.4 556.5 84.3 557.1 84.3 557.6 84.2 558.2 84.2 558.8 84.2 559.3 84.3 559.9 84.3 560.4 84.4 561.0 84.5 561.5 84.6 562.1 84.7 562.6 84.8 563.2 85.0 563.7 85.2 564.3 85.4 564.8 85.6 565.4 85.9 566.0 86.1 566.5 86.4 567.1 86.7 567.6 87.0 568.2 87.4 568.7 87.7 569.3 88.1 569.8 88.5 570.4 89.0 570.9 89.4 571.5 89.9 572.0 90.3 572.6 90.8 573.2 91.4 573.7 91.9 574.3 92.5 574.8 93.1 575.4 93.7 575.9 94.3 576.5 95.0 577.0 95.6 577.6 96.3 578.2 97.0 578.7 97.8 579.3 98.5 579.8 99.3 580.4 100.1 580.9 100.9 581.5 101.8 582.0 102.6 582.6 103.5 583.2 104.4 583.7 105.4 584.3 106.3 584.8 107.3 585.4 108.3 585.9 109.4 586.5 110.4 587.0 111.5 587.6 112.6 588.2 113.7 588.7 114.9 589.3 116.0 589.8 117.2 590.4 118.5 590.9 119.7 591.5 121.0 592.1 122.3 592.6 123.6 593.2 125.0 593.7 126.4 594.3 127.8 594.9 129.2 595.4 130.7 596.0 132.2 596.5 133.7 597.1 135.3 597.6 136.8 598.2 138.5 598.8 140.1 599.3 141.8 599.9 143.5 600.4 145.2 601.0 147.0 601.6 148.8 602.1 150.6 602.7 152.5 603.2 154.4 603.8 156.4 604.4 158.3 604.9 160.3 605.5 162.4 606.1 164.5 606.6 166.6 607.2 168.8 607.7 171.0 608.3 173.2 608.9 175.5 609.4 177.9 610.0 180.2 610.6 182.7 611.1 185.1 611.7 187.6 612.3 190.2 612.8 192.8 613.4 195.5 613.9 198.2 614.5 200.9 615.1 203.8 615.6 206.6 616.2 209.6 616.8 212.6 617.3 215.6 617.9 218.7 618.5 221.9 619.0 225.2 619.6 228.5 620.2 231.9 620.7 235.4 621.3 238.9 621.9 242.5 622.5 246.2 623.0 250.0 623.6 253.9 624.2 257.9 624.7 262.0 625.3 266.2 625.9 270.5 626.4 274.9 627.0 279.4 627.6 284.1 628.2 288.9 628.7 293.8 629.3 298.9 629.9 304.2 630.4 309.6 631.0 315.2 631.6 321.0 632.2 327.0 632.7 333.3 633.3 339.7 633.9 346.5 634.5 353.5 635.0 360.9 635.6 368.6 636.2 376.7 636.8 385.3 637.3 394.3 637.9 403.9 638.5 414.1 639.1 425.1 639.7 436.9 640.2 449.8 640.8 463.9 641.4 465.3 642.0 451.6 642.6 439.7 643.1 429.1 643.7 419.7 644.3 411.2 644.9 403.5 645.5 396.4 646.0 390.0 646.6 384.0 647.2 378.6 647.8 373.5 648.4 368.8 649.0 364.4 649.5 360.4 650.1 356.6 650.7 353.1 651.3 349.8 651.9 346.8 652.5 343.9 653.1 341.3 653.7 338.8 654.2 336.5 654.8 334.3 655.4 332.3 656.0 330.5 656.6 328.8 657.2 327.2 657.8 325.7 658.4 324.4 659.0 323.2 659.6 322.1 660.2 321.1 660.7 320.2 661.3 319.4 661.9 318.7 662.5 318.1 663.1 317.6 663.7 317.2 664.3 316.9 664.9 316.6 665.5 316.5 666.1 316.4 666.7 316.4 667.3 316.6 667.9 316.7 668.5 317.0 669.1 317.3 669.7 317.8 670.3 318.3 670.9 318.9 671.5 319.5 672.1 320.2 672.7 321.1 673.3 322.0 673.9 322.9 674.6 324.0 675.2 325.1 675.8 326.3 676.4 327.6 677.0 329.0 677.6 330.4 678.2 332.0 678.8 333.6 679.4 335.3 680.0 337.1 680.6 339.0 681.3 341.0 681.9 343.1 682.5 345.2 683.1 347.5 683.7 349.9 684.3 352.3 685.0 354.9 685.6 357.6 686.2 360.4 686.8 363.4 687.4 366.4 688.0 369.6 688.7 372.9 689.3 376.4 689.9 380.0 690.5 383.8 691.2 387.7 691.8 391.8 692.4 396.1 693.0 400.6 693.7 405.3 694.3 410.3 694.9 415.5 695.5 420.9 696.2 426.7 696.8 432.7 697.4 439.1 698.1 445.9 698.7 453.1 699.3 460.8 700.0 469.0 700.6 466.8 701.2 458.8 701.9 451.2 702.5 444.2 703.2 437.6 703.8 431.4 704.4 425.5 705.1 420.0 705.7 414.7 706.4 409.7 707.0 404.9 707.7 400.4 708.3 396.0 708.9 391.9 709.6 388.0 710.2 384.2 710.9 380.6 711.5 377.1 712.2 373.8 712.9 370.7 713.5 367.6 714.2 364.7 714.8 361.9 715.5 359.3 716.1 356.7 716.8 354.2 717.4 351.9 718.1 349.6 718.8 347.5 719.4 345.4 720.1 343.4 720.8 341.5 721.4 339.7 722.1 338.0 722.8 336.3 723.4 334.7 724.1 333.2 724.8 331.8 725.4 330.4 726.1 329.2 726.8 327.9 727.5 326.8 728.1 325.7 728.8 324.7 729.5 323.7 730.2 322.8 730.9 322.0 731.5 321.2 732.2 320.5 732.9 319.9 733.6 319.3 734.3 318.7 735.0 318.3 735.7 317.8 736.4 317.5 737.0 317.2 737.7 316.9 738.4 316.7 739.1 316.6 739.8 316.5 740.5 316.4 741.2 316.4 741.9 316.5 742.6 316.6 743.3 316.8 744.0 317.1 744.8 317.4 745.5 317.7 746.2 318.1 746.9 318.6 747.6 319.1 748.3 319.6 749.0 320.2 749.8 320.9 750.5 321.7 751.2 322.5 751.9 323.3 752.6 324.2 753.4 325.2 754.1 326.2 754.8 327.3 755.6 328.4 756.3 329.6 757.0 330.9 757.8 332.3 758.5 333.7 759.2 335.1 760.0 336.7 760.7 338.3 761.5 340.0 762.2 341.7 763.0 343.5 763.7 345.4 764.5 347.4 765.2 349.5 766.0 351.6 766.7 353.9 767.5 356.2 768.3 358.6 769.0 361.1 769.8 363.7 770.6 366.4 771.3 369.2 772.1 372.1 772.9 375.2 773.6 378.3 774.4 381.6 775.2 385.0 776.0 388.6 776.8 392.3 777.6 396.2 778.4 400.2 779.1 404.4 779.9 408.8 780.7 413.4 781.5 418.2 782.3 423.2 783.1 428.5 783.9 434.1 784.8 439.9 785.6 446.1 786.4 452.6 787.2 459.6 788.0 466.9 788.8 469.6 789.7 462.1 790.5 455.0 791.3 448.4 792.2 442.1 793.0 436.1 793.8 430.5 794.7 425.1 795.5 420.0 796.4 415.2 797.2 410.5 798.1 406.1 798.9 401.8 799.8 397.8 800.6 393.9 801.5 390.1 802.4 386.6 803.3 383.1 804.1 379.8 805.0 376.6 805.9 373.6 806.8 370.6 807.7 367.8 808.6 365.1 809.5 362.5 810.4 360.0 811.3 357.5 812.2 355.2 813.1 353.0 814.0 350.8 814.9 348.7 815.8 346.7 816.8 344.8 817.7 343.0 818.6 341.2 819.6 339.5 820.5 337.9 821.5 336.3 822.4 334.9 823.4 333.4 824.4 332.1 825.3 330.8 826.3 329.5 827.3 328.4 828.3 327.3 829.3 326.2 830.3 325.2 831.3 324.3 832.3 323.4 833.3 322.6 834.3 321.8 835.3 321.1 836.4 320.4 837.4 319.8 838.4 319.2 839.5 318.7 840.5 318.3 841.6 317.9 842.7 317.5 843.7 317.2 844.8 316.9 845.9 316.7 847.0 316.6 848.1 316.5 849.2 316.4 850.3 316.4 851.5 316.5 852.6 316.6 853.7 316.7 854.9 316.9 856.1 317.2 857.2 317.5 858.4 317.8 859.6 318.2 860.8 318.7 862.0 319.2 863.2 319.7 864.5 320.3 865.7 321.0 866.9 321.7 868.2 322.4 869.5 323.3 870.8 324.1 872.1 325.1 873.4 326.0 874.7 327.1 876.1 328.2 877.4 329.3 878.8 330.6 880.2 331.8 881.6 333.2 883.0 334.6 884.4 336.0 885.9 337.6 887.4 339.2 888.9 340.8 890.4 342.6 891.9 344.4 893.5 346.2 895.1 348.2 896.7 350.2 898.3 352.3 900.0 354.5 901.7 356.8 903.4 359.2 905.2 361.7 907.0 364.2 908.8 366.9 910.6 369.6 912.6 372.5 914.5 375.5 916.5 378.6 918.6 381.8 920.7 385.1 922.9 388.6 925.1 392.2 927.4 396.0 929.8 399.9 932.3 404.0 934.9 408.3 937.6 412.8 940.5 417.4 943.5 422.3 946.7 427.5 950.1 432.9 953.9 438.5 958.0 444.5 962.7 450.8 968.3 457.5 975.6 464.6 993.1 472.2" stroke="#ff0000" stroke-width="5"/>
<path d="M123.3 656.6 140.8 656.6 148.1 656.6 153.7 656.6 158.4 656.6 162.5 656.6 166.3 656.6 169.7 656.6 172.9 656.6 175.9 656.6 178.8 656.6 181.5 656.6 184.1 656.6 186.6 656.6 189.0 656.6 191.3 656.6 193.5 656.6 195.7 656.6 197.8 656.6 199.9 644.8 201.9 617.6 203.8 595.8 205.8 577.7 207.6 562.2 209.4 548.7 211.2 536.8 213.0 526.2 214.7 516.6 216.4 507.9 218.1 499.9 219.7 492.6 221.3 485.9 222.9 479.6 224.5 473.8 226.0 468.4 227.5 463.4 229.0 458.7 230.5 454.3 232.0 450.2 233.4 446.4 234.8 442.8 236.2 439.4 237.6 436.2 239.0 433.2 240.3 430.4 241.7 427.8 243.0 425.4 244.3 423.1 245.6 421.0 246.9 419.0 248.2 417.1 249.5 415.4 250.7 413.8 251.9 412.4 253.2 411.1 254.4 409.9 255.6 408.8 256.8 407.8 258.0 407.0 259.2 406.2 260.3 405.6 261.5 405.0 262.7 404.6 263.8 404.3 264.9 404.1 266.1 404.0 267.2 404.0 268.3 404.1 269.4 404.3 270.5 404.7 271.6 405.1 272.7 405.6 273.7 406.3 274.8 407.0 275.9 407.9 276.9 408.9 278.0 410.0 279.0 411.2 280.0 412.6 281.1 414.0 282.1 415.6 283.1 417.4 284.1 419.2 285.1 421.3 286.1 423.4 287.1 425.7 288.1 428.2 289.1 430.9 290.1 433.7 291.1 436.8 292.0 440.0 293.0 443.4 294.0 447.1 294.9 451.1 295.9 455.3 296.8 459.7 297.8 464.5 298.7 469.7 299.6 475.2 300.6 481.2 301.5 487.6 302.4 494.5 303.3 502.1 304.2 510.3 305.1 519.4 306.0 529.4 306.9 540.5 307.8 553.1 308.7 567.3 309.6 583.9 310.5 603.4 311.4 627.2 312.3 656.6 313.1 656.6 314.0 656.6 314.9 656.6 315.8 656.6 316.6 656.6 317.5 656.6 318.3 656.6 319.2 656.6 320.0 656.6 320.9 656.6 321.7 656.6 322.6 656.6 323.4 656.6 324.2 656.6 325.1 656.6 325.9 656.6 326.7 656.6 327.6 656.6 328.4 656.6 329.2 656.6 330.0 656.6 330.8 656.6 331.6 656.6 332.5 656.6 333.3 656.6 334.1 656.6 334.9 656.6 335.7 656.6 336.5 656.6 337.3 656.6 338.0 656.6 338.8 656.6 339.6 656.6 340.4 656.6 341.2 656.6 342.0 656.6 342.8 642.6 343.5 615.3 344.3 593.4 345.1 575.3 345.8 559.7 346.6 546.2 347.4 534.3 348.1 523.6 348.9 514.0 349.7 505.3 350.4 497.4 351.2 490.1 351.9 483.3 352.7 477.1 353.4 471.3 354.2 466.0 354.9 461.0 355.7 456.3 356.4 451.9 357.2 447.9 357.9 444.0 358.6 440.5 359.4 437.1 360.1 434.0 360.8 431.0 361.6 428.3 362.3 425.7 363.0 423.4 363.8 421.1 364.5 419.1 365.2 417.1 365.9 415.4 366.6 413.7 367.4 412.2 368.1 410.9 368.8 409.7 369.5 408.6 370.2 407.6 370.9 406.7 371.6 406.0 372.4 405.4 373.1 404.9 373.8 404.5 374.5 404.2 375.2 404.0 375.9 404.0 376.6 404.1 377.3 404.3 378.0 404.6 378.7 405.0 379.4 405.5 380.0 406.2 380.7 407.0 381.4 407.9 382.1 408.9 382.8 410.1 383.5 411.4 384.2 412.8 384.9 414.4 385.5 416.1 386.2 418.0 386.9 420.0 387.6 422.2 388.3 424.6 388.9 427.1 389.6 429.9 390.3 432.8 391.0 436.0 391.6 439.3 392.3 443.0 393.0 446.8 393.6 451.0 394.3 455.5 395.0 460.3 395.6 465.4 396.3 471.0 397.0 477.0 397.6 483.5 398.3 490.6 399.0 498.3 399.6 506.7 400.3 516.1 400.9 526.4 401.6 538.1 402.2 551.2 402.9 566.3 403.5 584.0 404.2 605.2 404.9 631.6 405.5 656.6 406.2 656.6 406.8 656.6 407.5 656.6 408.1 656.6 408.7 656.6 409.4 656.6 410.0 656.6 410.7 656.6 411.3 656.6 412.0 656.6 412.6 656.6 413.2 656.6 413.9 656.6 414.5 656.6 415.2 656.6 415.8 656.6 416.4 656.6 417.1 656.6 417.7 656.6 418.3 656.6 419.0 656.6 419.6 656.6 420.2 656.6 420.9 656.6 421.5 656.6 422.1 656.6 422.7 656.6 423.4 656.6 424.0 656.6 424.6 656.6 425.2 656.6 425.9 656.6 426.5 656.6 427.1 625.1 427.7 598.8 428.4 577.5 429.0 559.8 429.6 544.6 430.2 531.4 430.8 519.7 431.4 509.3 432.1 499.9 432.7 491.4 433.3 483.6 433.9 476.5 434.5 469.9 435.1 463.9 435.8 458.3 436.4 453.1 437.0 448.4 437.6 443.9 438.2 439.8 438.8 435.9 439.4 432.4 440.0 429.1 440.6 426.0 441.2 423.2 441.8 420.6 442.5 418.2 443.1 416.0 443.7 414.0 444.3 412.2 444.9 410.6 445.5 409.2 446.1 407.9 446.7 406.9 447.3 406.0 447.9 405.2 448.5 404.7 449.1 404.3 449.7 404.0 450.3 404.0 450.9 404.1 451.5 404.5 452.1 405.0 452.7 405.6 453.3 406.5 453.9 407.6 454.5 408.9 455.1 410.4 455.7 412.1 456.2 414.1 456.8 416.3 457.4 418.8 458.0 421.6 458.6 424.7 459.2 428.1 459.8 431.9 460.4 436.1 461.0 440.7 461.6 445.8 462.2 451.4 462.7 457.7 463.3 464.7 463.9 472.5 464.5 481.3 465.1 491.3 465.7 502.6 466.3 515.8 466.9 531.3 467.4 549.9 468.0 572.9 468.6 602.8 469.2 644.8 469.8 656.6 470.4 656.6 470.9 656.6 471.5 656.6 472.1 656.6 472.7 656.6 473.3 656.6 473.8 656.6 474.4 656.6 475.0 656.6 475.6 656.6 476.2 656.6 476.7 656.6 477.3 656.6 477.9 656.6 478.5 656.6 479.1 656.6 479.6 656.6 480.2 627.9 480.8 571.8 481.4 533.4 481.9 504.2 482.5 480.4 483.1 460.4 483.7 443.0 484.2 427.7 484.8 413.9 485.4 401.4 486.0 390.0 486.5 379.4 487.1 369.6 487.7 360.5 488.2 351.9 488.8 343.8 489.4 336.1 490.0 328.8 490.5 321.9 491.1 315.3 491.7 309.0 492.2 302.9 492.8 297.1 493.4 291.5 493.9 286.1 494.5 280.9 495.1 275.9 495.7 271.1 496.2 266.4 496.8 261.9 497.4 257.5 497.9 253.2 498.5 249.1 499.1 245.0 499.6 241.1 500.2 237.3 500.8 233.6 501.3 230.0 501.9 226.5 502.5 223.0 503.0 219.7 503.6 216.4 504.1 213.2 504.7 210.1 505.3 207.1 505.8 204.1 506.4 201.2 507.0 198.4 507.5 195.6 508.1 192.9 508.7 190.2 509.2 187.6 509.8 185.1 510.3 182.6 510.9 180.2 511.5 177.8 512.0 175.5 512.6 173.2 513.2 170.9 513.7 168.7 514.3 166.6 514.8 164.5 515.4 162.4 516.0 160.4 516.5 158.4 517.1 156.5 517.6 154.6 518.2 152.7 518.8 150.9 519.3 149.1 519.9 147.4 520.4 145.7 521.0 144.0 521.5 142.3 522.1 140.7 522.7 139.2 523.2 137.6 523.8 136.1 524.3 134.6 524.9 133.2 525.5 131.8 526.0 130.4 526.6 129.0 527.1 127.7 527.7 126.4 528.2 125.1 528.8 123.9 529.4 122.7 529.9 121.5 530.5 120.3 531.0 119.2 531.6 118.1 532.1 117.0 532.7 116.0 533.2 114.9 533.8 113.9 534.4 113.0 534.9 112.0 535.5 111.1 536.0 110.2 536.6 109.3 537.1 108.5 537.7 107.7 538.2 106.9 538.8 106.1 539.4 105.3 539.9 104.6 540.5 103.9 541.0 103.2 541.6 102.6 542.1 101.9 542.7 101.3 543.2 100.7 543.8 100.1 544.4 99.6 544.9 99.1 545.5 98.6 546.0 98.1 546.6 97.6 547.1 97.2 547.7 96.8 548.2 96.4 548.8 96.0 549.3 95.7 549.9 95.3 550.4 95.0 551.0 94.8 551.6 94.5 552.1 94.3 552.7 94.0 553.2 93.8 553.8 93.7 554.3 93.5 554.9 93.4 555.4 93.2 556.0 93.1 556.5 93.1 557.1 93.0 557.6 93.0 558.2 93.0 558.8 93.0 559.3 93.0 559.9 93.1 560.4 93.1 561.0 93.2 561.5 93.4 562.1 93.5 562.6 93.7 563.2 93.8 563.7 94.0 564.3 94.3 564.8 94.5 565.4 94.8 566.0 95.0 566.5 95.3 567.1 95.7 567.6 96.0 568.2 96.4 568.7 96.8 569.3 97.2 569.8 97.6 570.4 98.1 570.9 98.6 571.5 99.1 572.0 99.6 572.6 100.1 573.2 100.7 573.7 101.3 574.3 101.9 574.8 102.6 575.4 103.2 575.9 103.9 576.5 104.6 577.0 105.3 577.6 106.1 578.2 106.9 578.7 107.7 579.3 108.5 579.8 109.3 580.4 110.2 580.9 111.1 581.5 112.0 582.0 113.0 582.6 113.9 583.2 114.9 583.7 116.0 584.3 117.0 584.8 118.1 585.4 119.2 585.9 120.3 586.5 121.5 587.0 122.7 587.6 123.9 588.2 125.1 588.7 126.4 589.3 127.7 589.8 129.0 590.4 130.4 590.9 131.8 591.5 133.2 592.1 134.6 592.6 136.1 593.2 137.6 593.7 139.2 594.3 140.7 594.9 142.3 595.4 144.0 596.0 145.7 596.5 147.4 597.1 149.1 597.6 150.9 598.2 152.7 598.8 154.6 599.3 156.5 599.9 158.4 600.4 160.4 601.0 162.4 601.6 164.5 602.1 166.6 602.7 168.7 603.2 170.9 603.8 173.2 604.4 175.5 604.9 177.8 605.5 180.2 606.1 182.6 606.6 185.1 607.2 187.6 607.7 190.2 608.3 192.9 608.9 195.6 609.4 198.4 610.0 201.2 610.6 204.1 611.1 207.1 611.7 210.1 612.3 213.2 612.8 216.4 613.4 219.7 613.9 223.0 614.5 226.5 615.1 230.0 615.6 233.6 616.2 237.3 616.8 241.1 617.3 245.0 617.9 249.1 618.5 253.2 619.0 257.5 619.6 261.9 620.2 266.4 620.7 271.1 621.3 275.9 621.9 280.9 622.5 286.1 623.0 291.5 623.6 297.1 624.2 302.9 624.7 309.0 625.3 315.3 625.9 321.9 626.4 328.8 627.0 336.1 627.6 343.8 628.2 351.9 628.7 360.5 629.3 369.6 629.9 379.4 630.4 390.0 631.0 401.4 631.6 413.9 632.2 427.7 632.7 443.0 633.3 460.4 633.9 480.4 634.5 504.2 635.0 533.4 635.6 571.8 636.2 627.9 636.8 656.6 637.3 656.6 637.9 656.6 638.5 656.6 639.1 656.6 639.7 656.6 640.2 656.6 640.8 656.6 641.4 656.6 642.0 656.6 642.6 656.6 643.1 656.6 643.7 656.6 644.3 656.6 644.9 656.6 645.5 656.6 646.0 656.6 646.6 656.6 647.2 644.8 647.8 602.8 648.4 572.9 649.0 549.9 649.5 531.3 650.1 515.8 650.7 502.6 651.3 491.3 651.9 481.3 652.5 472.5 653.1 464.7 653.7 457.7 654.2 451.4 654.8 445.8 655.4 440.7 656.0 436.1 656.6 431.9 657.2 428.1 657.8 424.7 658.4 421.6 659.0 418.8 659.6 416.3 660.2 414.1 660.7 412.1 661.3 410.4 661.9 408.9 662.5 407.6 663.1 406.5 663.7 405.6 664.3 405.0 664.9 404.5 665.5 404.1 666.1 404.0 666.7 404.0 667.3 404.3 667.9 404.7 668.5 405.2 669.1 406.0 669.7 406.9 670.3 407.9 670.9 409.2 671.5 410.6 672.1 412.2 672.7 414.0 673.3 416.0 673.9 418.2 674.6 420.6 675.2 423.2 675.8 426.0 676.4 429.1 677.0 432.4 677.6 435.9 678.2 439.8 678.8 443.9 679.4 448.4 680.0 453.1 680.6 458.3 681.3 463.9 681.9 469.9 682.5 476.5 683.1 483.6 683.7 491.4 684.3 499.9 685.0 509.3 685.6 519.7 686.2 531.4 686.8 544.6 687.4 559.8 688.0 577.5 688.7 598.8 689.3 625.1 689.9 656.6 690.5 656.6 691.2 656.6 691.8 656.6 692.4 656.6 693.0 656.6 693.7 656.6 694.3 656.6 694.9 656.6 695.5 656.6 696.2 656.6 696.8 656.6 697.4 656.6 698.1 656.6 698.7 656.6 699.3 656.6 700.0 656.6 700.6 656.6 701.2 656.6 701.9 656.6 702.5 656.6 703.2 656.6 703.8 656.6 704.4 656.6 705.1 656.6 705.7 656.6 706.4 656.6 707.0 656.6 707.7 656.6 708.3 656.6 708.9 656.6 709.6 656.6 710.2 656.6 710.9 656.6 711.5 631.6 712.2 605.2 712.9 584.0 713.5 566.3 714.2 551.2 714.8 538.1 715.5 526.4 716.1 516.1 716.8 506.7 717.4 498.3 718.1 490.6 718.8 483.5 719.4 477.0 720.1 471.0 720.8 465.4 721.4 460.3 722.1 455.5 722.8 451.0 723.4 446.8 724.1 443.0 724.8 439.3 725.4 436.0 726.1 432.8 726.8 429.9 727.5 427.1 728.1 424.6 728.8 422.2 729.5 420.0 730.2 418.0 730.9 416.1 731.5 414.4 732.2 412.8 732.9 411.4 733.6 410.1 734.3 408.9 735.0 407.9 735.7 407.0 736.4 406.2 737.0 405.5 737.7 405.0 738.4 404.6 739.1 404.3 739.8 404.1 740.5 404.0 741.2 404.0 741.9 404.2 742.6 404.5 743.3 404.9 744.0 405.4 744.8 406.0 745.5 406.7 746.2 407.6 746.9 408.6 747.6 409.7 748.3 410.9 749.0 412.2 749.8 413.7 750.5 415.4 751.2 417.1 751.9 419.1 752.6 421.1 753.4 423.4 754.1 425.7 754.8 428.3 755.6 431.0 756.3 434.0 757.0 437.1 757.8 440.5 758.5 444.0 759.2 447.9 760.0 451.9 760.7 456.3 761.5 461.0 762.2 466.0 763.0 471.3 763.7 477.1 764.5 483.3 765.2 490.1 766.0 497.4 766.7 505.3 767.5 514.0 768.3 523.6 769.0 534.3 769.8 546.2 770.6 559.7 771.3 575.3 772.1 593.4 772.9 615.3 773.6 642.6 774.4 656.6 775.2 656.6 776.0 656.6 776.8 656.6 777.6 656.6 778.4 656.6 779.1 656.6 779.9 656.6 780.7 656.6 781.5 656.6 782.3 656.6 783.1 656.6 783.9 656.6 784.8 656.6 785.6 656.6 786.4 656.6 787.2 656.6 788.0 656.6 788.8 656.6 789.7 656.6 790.5 656.6 791.3 656.6 792.2 656.6 793.0 656.6 793.8 656.6 794.7 656.6 795.5 656.6 796.4 656.6 797.2 656.6 798.1 656.6 798.9 656.6 799.8 656.6 800.6 656.6 801.5 656.6 802.4 656.6 803.3 656.6 804.1 656.6 805.0 627.2 805.9 603.4 806.8 583.9 807.7 567.3 808.6 553.1 809.5 540.5 810.4 529.4 811.3 519.4 812.2 510.3 813.1 502.1 814.0 494.5 814.9 487.6 815.8 481.2 816.8 475.2 817.7 469.7 818.6 464.5 819.6 459.7 820.5 455.3 821.5 451.1 822.4 447.1 823.4 443.4 824.4 440.0 825.3 436.8 826.3 433.7 827.3 430.9 828.3 428.2 829.3 425.7 830.3 423.4 831.3 421.3 832.3 419.2 833.3 417.4 834.3 415.6 835.3 414.0 836.4 412.6 837.4 411.2 838.4 410.0 839.5 408.9 840.5 407.9 841.6 407.0 842.7 406.3 843.7 405.6 844.8 405.1 845.9 404.7 847.0 404.3 848.1 404.1 849.2 404.0 850.3 404.0 851.5 404.1 852.6 404.3 853.7 404.6 854.9 405.0 856.1 405.6 857.2 406.2 858.4 407.0 859.6 407.8 860.8 408.8 862.0 409.9 863.2 411.1 864.5 412.4 865.7 413.8 866.9 415.4 868.2 417.1 869.5 419.0 870.8 421.0 872.1 423.1 873.4 425.4 874.7 427.8 876.1 430.4 877.4 433.2 878.8 436.2 880.2 439.4 881.6 442.8 883.0 446.4 884.4 450.2 885.9 454.3 887.4 458.7 888.9 463.4 890.4 468.4 891.9 473.8 893.5 479.6 895.1 485.9 896.7 492.6 898.3 499.9 900.0 507.9 901.7 516.6 903.4 526.2 905.2 536.8 907.0 548.7 908.8 562.2 910.6 577.7 912.6 595.8 914.5 617.6 916.5 644.8 918.6 656.6 920.7 656.6 922.9 656.6 925.1 656.6 927.4 656.6 929.8 656.6 932.3 656.6 934.9 656.6 937.6 656.6 940.5 656.6 943.5 656.6 946.7 656.6 950.1 656.6 953.9 656.6 958.0 656.6 962.7 656.6 968.3 656.6 975.6 656.6 993.1 656.6" stroke="#ff0000" stroke-width="5"/>
<path d="M123.3 391.7 140.8 386.5 148.1 381.4 153.7 376.4 158.4 371.7 162.5 367.0 166.3 362.6 169.7 358.3 172.9 354.2 175.9 350.2 178.8 346.4 181.5 342.7 184.1 339.2 186.6 335.9 189.0 332.7 191.3 329.6 193.5 326.7 195.7 323.9 197.8 321.3 199.9 318.8 201.9 316.4 203.8 314.1 205.8 312.0 207.6 309.9 209.4 308.0 211.2 306.2 213.0 304.5 214.7 302.9 216.4 301.4 218.1 300.0 219.7 298.7 221.3 297.5 222.9 296.4 224.5 295.4 226.0 294.5 227.5 293.7 229.0 292.9 230.5 291.8 232.0 290.9 233.4 290.0 234.8 289.2 236.2 288.6 237.6 287.8 239.0 287.0 240.3 286.2 241.7 285.5 243.0 284.9 244.3 284.4 245.6 283.9 246.9 283.6 248.2 283.4 249.5 282.8 250.7 282.3 251.9 282.0 253.2 281.7 254.4 281.5 255.6 281.4 256.8 281.4 258.0 281.4 259.2 281.6 260.3 281.8 261.5 282.2 262.7 282.6 263.8 282.9 264.9 283.2 266.1 283.5 267.2 283.9 268.3 284.4 269.4 285.0 270.5 285.7 271.6 286.5 272.7 287.3 273.7 287.5 274.8 287.1 275.9 286.8 276.9 286.6 278.0 286.4 279.0 286.4 280.0 286.5 281.1 286.6 282.1 286.8 283.1 287.2 284.1 287.6 285.1 288.1 286.1 288.3 287.1 288.3 288.1 288.5 289.1 288.7 290.1 289.0 291.1 289.4 292.0 289.9 293.0 290.5 294.0 291.2 294.9 292.0 295.9 292.9 296.8 293.9 297.8 294.9 298.7 296.1 299.6 297.4 300.6 298.8 301.5 300.3 302.4 301.5 303.3 302.8 304.2 304.1 305.1 305.6 306.0 307.1 306.9 308.8 307.8 310.6 308.7 312.1 309.6 313.6 310.5 315.3 311.4 317.0 312.3 318.8 313.1 320.8 314.0 322.9 314.9 325.1 315.8 327.4 316.6 329.9 317.5 332.4 318.3 335.1 319.2 338.0 320.0 341.0 320.9 344.1 321.7 347.4 322.6 350.8 323.4 354.4 324.2 356.4 325.1 358.5 325.9 360.7 326.7 362.9 327.6 365.1 328.4 363.7 329.2 360.7 330.0 357.8 330.8 355.2 331.6 352.7 332.5 350.4 333.3 348.2 334.1 346.3 334.9 344.4 335.7 342.7 336.5 341.2 337.3 339.8 338.0 338.3 338.8 335.7 339.6 333.2 340.4 330.8 341.2 328.4 342.0 326.2 342.8 324.1 343.5 322.0 344.3 319.5 345.1 317.1 345.8 314.9 346.6 312.7 347.4 310.6 348.1 308.7 348.9 306.8 349.7 305.1 350.4 303.4 351.2 301.9 351.9 300.4 352.7 299.1 353.4 297.8 354.2 296.7 354.9 295.6 355.7 294.7 356.4 293.6 357.2 292.1 357.9 290.7 358.6 289.4 359.4 288.2 360.1 287.2 360.8 286.2 361.6 285.3 362.3 284.5 363.0 283.8 363.8 283.2 364.5 282.7 365.2 282.1 365.9 281.4 366.6 280.7 367.4 280.2 368.1 279.7 368.8 279.4 369.5 279.1 370.2 278.9 370.9 278.9 371.6 278.7 372.4 278.4 373.1 278.3 373.8 278.2 374.5 278.2 375.2 278.3 375.9 278.5 376.6 278.8 377.3 279.2 378.0 279.6 378.7 280.2 379.4 280.8 380.0 281.6 380.7 282.0 381.4 282.6 382.1 283.2 382.8 283.9 383.5 284.8 384.2 285.7 384.9 286.7 385.5 287.8 386.2 288.7 386.9 289.6 387.6 290.7 388.3 291.8 388.9 293.0 389.6 294.3 390.3 294.6 391.0 294.7 391.6 294.8 392.3 295.0 393.0 295.3 393.6 295.8 394.3 296.3 395.0 296.9 395.6 297.6 396.3 298.5 397.0 299.4 397.6 300.5 398.3 301.7 399.0 303.0 399.6 304.4 400.3 305.9 400.9 307.6 401.6 309.4 402.2 311.4 402.9 313.5 403.5 315.7 404.2 318.1 404.9 320.6 405.5 323.4 406.2 326.3 406.8 329.3 407.5 332.6 408.1 336.1 408.7 339.8 409.4 343.7 410.0 347.9 410.7 352.3 411.3 357.0 412.0 362.0 412.6 367.4 413.2 373.1 413.9 374.6 414.5 376.3 415.2 378.0 415.8 379.9 416.4 379.0 417.1 373.3 417.7 368.0 418.3 363.0 419.0 358.4 419.6 354.0 420.2 349.8 420.9 345.9 421.5 342.2 422.1 338.8 422.7 335.5 423.4 332.5 424.0 329.6 424.6 326.9 425.2 324.4 425.9 322.0 426.5 319.8 427.1 317.8 427.7 315.9 428.4 314.1 429.0 312.4 429.6 310.9 430.2 309.5 430.8 308.3 431.4 307.1 432.1 306.1 432.7 305.2 433.3 304.4 433.9 303.7 434.5 303.1 435.1 302.7 435.8 301.8 436.4 300.1 437.0 298.4 437.6 296.9 438.2 295.4 438.8 294.1 439.4 292.7 440.0 291.2 440.6 289.8 441.2 288.5 441.8 287.3 442.5 286.2 443.1 285.3 443.7 284.4 444.3 283.6 444.9 282.6 445.5 281.6 446.1 280.8 446.7 280.1 447.3 279.4 447.9 278.9 448.5 278.5 449.1 278.2 449.7 278.1 450.3 278.0 450.9 278.0 451.5 278.2 452.1 278.3 452.7 278.3 453.3 278.4 453.9 278.7 454.5 279.1 455.1 279.6 455.7 280.2 456.2 281.0 456.8 281.8 457.4 282.6 458.0 283.3 458.6 284.2 459.2 285.2 459.8 286.3 460.4 287.6 461.0 289.0 461.6 290.6 462.2 292.3 462.7 294.2 463.3 296.2 463.9 298.4 464.5 300.3 465.1 302.2 465.7 304.2 466.3 306.3 466.9 308.7 467.4 311.2 468.0 313.9 468.6 316.9 469.2 320.0 469.8 323.4 470.4 327.0 470.9 330.8 471.5 334.9 472.1 339.2 472.7 343.8 473.3 348.7 473.8 353.8 474.4 358.4 475.0 363.1 475.6 362.6 476.2 357.9 476.7 353.3 477.3 349.0 477.9 344.7 478.5 339.5 479.1 334.0 479.6 328.7 480.2 323.4 480.8 318.2 481.4 313.1 481.9 308.1 482.5 303.3 483.1 298.5 483.7 293.9 484.2 289.4 484.8 285.0 485.4 280.7 486.0 276.6 486.5 272.5 487.1 268.6 487.7 264.8 488.2 261.1 488.8 256.7 489.4 252.6 490.0 248.5 490.5 244.6 491.1 240.8 491.7 237.1 492.2 233.5 492.8 230.1 493.4 226.7 493.9 223.5 494.5 220.3 495.1 217.2 495.7 214.2 496.2 211.3 496.8 208.5 497.4 205.7 497.9 203.1 498.5 200.4 499.1 197.7 499.6 195.0 500.2 192.5 500.8 190.0 501.3 187.5 501.9 185.1 502.5 182.8 503.0 180.4 503.6 178.1 504.1 175.8 504.7 173.5 505.3 171.4 505.8 169.3 506.4 167.2 507.0 165.2 507.5 163.3 508.1 161.4 508.7 159.5 509.2 157.7 509.8 156.0 510.3 154.3 510.9 152.6 511.5 151.0 512.0 149.4 512.6 147.6 513.2 146.0 513.7 144.3 514.3 142.8 514.8 141.2 515.4 139.7 516.0 138.3 516.5 136.8 517.1 135.5 517.6 134.1 518.2 132.8 518.8 131.3 519.3 129.5 519.9 127.8 520.4 126.2 521.0 124.5 521.5 123.0 522.1 121.4 522.7 119.9 523.2 118.5 523.8 117.0 524.3 115.6 524.9 114.2 525.5 112.8 526.0 111.5 526.6 110.2 527.1 109.0 527.7 107.8 528.2 106.6 528.8 105.5 529.4 104.4 529.9 103.3 530.5 102.3 531.0 101.2 531.6 100.2 532.1 99.2 532.7 98.3 533.2 97.3 533.8 96.4 534.4 95.6 534.9 94.8 535.5 93.9 536.0 93.1 536.6 92.3 537.1 91.5 537.7 90.8 538.2 90.1 538.8 89.4 539.4 88.7 539.9 88.0 540.5 87.3 541.0 86.7 541.6 86.2 542.1 85.6 542.7 85.1 543.2 84.6 543.8 84.1 544.4 83.7 544.9 83.3 545.5 83.0 546.0 82.6 546.6 82.3 547.1 82.1 547.7 81.8 548.2 81.6 548.8 81.4 549.3 81.2 549.9 81.1 550.4 81.0 551.0 80.9 551.6 80.9 552.1 80.9 552.7 80.9 553.2 80.9 553.8 80.9 554.3 81.0 554.9 81.1 555.4 81.3 556.0 81.4 556.5 81.6 557.1 81.8 557.6 82.0 558.2 82.2 558.8 82.0 559.3 81.8 559.9 81.6 560.4 81.4 561.0 81.3 561.5 81.1 562.1 81.0 562.6 80.9 563.2 80.9 563.7 80.9 564.3 80.9 564.8 80.9 565.4 80.9 566.0 81.0 566.5 81.1 567.1 81.2 567.6 81.4 568.2 81.6 568.7 81.8 569.3 82.1 569.8 82.3 570.4 82.6 570.9 83.0 571.5 83.3 572.0 83.7 572.6 84.1 573.2 84.6 573.7 85.1 574.3 85.6 574.8 86.2 575.4 86.7 575.9 87.3 576.5 88.0 577.0 88.7 577.6 89.4 578.2 90.1 578.7 90.8 579.3 91.5 579.8 92.3 580.4 93.1 580.9 93.9 581.5 94.8 582.0 95.6 582.6 96.4 583.2 97.3 583.7 98.3 584.3 99.2 584.8 100.2 585.4 101.2 585.9 102.3 586.5 103.3 587.0 104.4 587.6 105.5 588.2 106.6 588.7 107.8 589.3 109.0 589.8 110.2 590.4 111.5 590.9 112.8 591.5 114.2 592.1 115.6 592.6 117.0 593.2 118.5 593.7 119.9 594.3 121.4 594.9 123.0 595.4 124.5 596.0 126.2 596.5 127.8 597.1 129.5 597.6 131.3 598.2 132.8 598.8 134.1 599.3 135.5 599.9 136.8 600.4 138.3 601.0 139.7 601.6 141.2 602.1 142.8 602.7 144.3 603.2 146.0 603.8 147.6 604.4 149.4 604.9 151.0 605.5 152.6 606.1 154.3 606.6 156.0 607.2 157.7 607.7 159.5 608.3 161.4 608.9 163.3 609.4 165.2 610.0 167.2 610.6 169.3 611.1 171.4 611.7 173.5 612.3 175.8 612.8 178.1 613.4 180.4 613.9 182.8 614.5 185.1 615.1 187.5 615.6 190.0 616.2 192.5 616.8 195.0 617.3 197.7 617.9 200.4 618.5 203.1 619.0 205.7 619.6 208.5 620.2 211.3 620.7 214.2 621.3 217.2 621.9 220.3 622.5 223.5 623.0 226.7 623.6 230.1 624.2 233.5 624.7 237.1 625.3 240.8 625.9 244.6 626.4 248.5 627.0 252.6 627.6 256.7 628.2 261.1 628.7 264.8 629.3 268.6 629.9 272.5 630.4 276.6 631.0 280.7 631.6 285.0 632.2 289.4 632.7 293.9 633.3 298.5 633.9 303.3 634.5 308.1 635.0 313.1 635.6 318.2 636.2 323.4 636.8 328.7 637.3 334.0 637.9 339.5 638.5 344.7 639.1 349.0 639.7 353.3 640.2 357.9 640.8 362.6 641.4 363.1 642.0 358.4 642.6 353.8 643.1 348.7 643.7 343.8 644.3 339.2 644.9 334.9 645.5 330.8 646.0 327.0 646.6 323.4 647.2 320.0 647.8 316.9 648.4 313.9 649.0 311.2 649.5 308.7 650.1 306.3 650.7 304.2 651.3 302.2 651.9 300.3 652.5 298.4 653.1 296.2 653.7 294.2 654.2 292.3 654.8 290.6 655.4 289.0 656.0 287.6 656.6 286.3 657.2 285.2 657.8 284.2 658.4 283.3 659.0 282.6 659.6 281.8 660.2 281.0 660.7 280.2 661.3 279.6 661.9 279.1 662.5 278.7 663.1 278.4 663.7 278.3 664.3 278.3 664.9 278.2 665.5 278.0 666.1 278.0 666.7 278.1 667.3 278.2 667.9 278.5 668.5 278.9 669.1 279.4 669.7 280.1 670.3 280.8 670.9 281.6 671.5 282.6 672.1 283.6 672.7 284.4 673.3 285.3 673.9 286.2 674.6 287.3 675.2 288.5 675.8 289.8 676.4 291.2 677.0 292.7 677.6 294.1 678.2 295.4 678.8 296.9 679.4 298.4 680.0 300.1 680.6 301.8 681.3 302.7 681.9 303.1 682.5 303.7 683.1 304.4 683.7 305.2 684.3 306.1 685.0 307.1 685.6 308.3 686.2 309.5 686.8 310.9 687.4 312.4 688.0 314.1 688.7 315.9 689.3 317.8 689.9 319.8 690.5 322.0 691.2 324.4 691.8 326.9 692.4 329.6 693.0 332.5 693.7 335.5 694.3 338.8 694.9 342.2 695.5 345.9 696.2 349.8 696.8 354.0 697.4 358.4 698.1 363.0 698.7 368.0 699.3 373.3 700.0 379.0 700.6 379.9 701.2 378.0 701.9 376.3 702.5 374.6 703.2 373.1 703.8 367.4 704.4 362.0 705.1 357.0 705.7 352.3 706.4 347.9 707.0 343.7 707.7 339.8 708.3 336.1 708.9 332.6 709.6 329.3 710.2 326.3 710.9 323.4 711.5 320.6 712.2 318.1 712.9 315.7 713.5 313.5 714.2 311.4 714.8 309.4 715.5 307.6 716.1 305.9 716.8 304.4 717.4 303.0 718.1 301.7 718.8 300.5 719.4 299.4 720.1 298.5 720.8 297.6 721.4 296.9 722.1 296.3 722.8 295.8 723.4 295.3 724.1 295.0 724.8 294.8 725.4 294.7 726.1 294.6 726.8 294.3 727.5 293.0 728.1 291.8 728.8 290.7 729.5 289.6 730.2 288.7 730.9 287.8 731.5 286.7 732.2 285.7 732.9 284.8 733.6 283.9 734.3 283.2 735.0 282.6 735.7 282.0 736.4 281.6 737.0 280.8 737.7 280.2 738.4 279.6 739.1 279.2 739.8 278.8 740.5 278.5 741.2 278.3 741.9 278.2 742.6 278.2 743.3 278.3 744.0 278.4 744.8 278.7 745.5 278.9 746.2 278.9 746.9 279.1 747.6 279.4 748.3 279.7 749.0 280.2 749.8 280.7 750.5 281.4 751.2 282.1 751.9 282.7 752.6 283.2 753.4 283.8 754.1 284.5 754.8 285.3 755.6 286.2 756.3 287.2 757.0 288.2 757.8 289.4 758.5 290.7 759.2 292.1 760.0 293.6 760.7 294.7 761.5 295.6 762.2 296.7 763.0 297.8 763.7 299.1 764.5 300.4 765.2 301.9 766.0 303.4 766.7 305.1 767.5 306.8 768.3 308.7 769.0 310.6 769.8 312.7 770.6 314.9 771.3 317.1 772.1 319.5 772.9 322.0 773.6 324.1 774.4 326.2 775.2 328.4 776.0 330.8 776.8 333.2 777.6 335.7 778.4 338.3 779.1 339.8 779.9 341.2 780.7 342.7 781.5 344.4 782.3 346.3 783.1 348.2 783.9 350.4 784.8 352.7 785.6 355.2 786.4 357.8 787.2 360.7 788.0 363.7 788.8 365.1 789.7 362.9 790.5 360.7 791.3 358.5 792.2 356.4 793.0 354.4 793.8 350.8 794.7 347.4 795.5 344.1 796.4 341.0 797.2 338.0 798.1 335.1 798.9 332.4 799.8 329.9 800.6 327.4 801.5 325.1 802.4 322.9 803.3 320.8 804.1 318.8 805.0 317.0 805.9 315.3 806.8 313.6 807.7 312.1 808.6 310.6 809.5 308.8 810.4 307.1 811.3 305.6 812.2 304.1 813.1 302.8 814.0 301.5 814.9 300.3 815.8 298.8 816.8 297.4 817.7 296.1 818.6 294.9 819.6 293.9 820.5 292.9 821.5 292.0 822.4 291.2 823.4 290.5 824.4 289.9 825.3 289.4 826.3 289.0 827.3 288.7 828.3 288.5 829.3 288.3 830.3 288.3 831.3 288.1 832.3 287.6 833.3 287.2 834.3 286.8 835.3 286.6 836.4 286.5 837.4 286.4 838.4 286.4 839.5 286.6 840.5 286.8 841.6 287.1 842.7 287.5 843.7 287.3 844.8 286.5 845.9 285.7 847.0 285.0 848.1 284.4 849.2 283.9 850.3 283.5 851.5 283.2 852.6 282.9 853.7 282.6 854.9 282.2 856.1 281.8 857.2 281.6 858.4 281.4 859.6 281.4 860.8 281.4 862.0 281.5 863.2 281.7 864.5 282.0 865.7 282.3 866.9 282.8 868.2 283.4 869.5 283.6 870.8 283.9 872.1 284.4 873.4 284.9 874.7 285.5 876.1 286.2 877.4 287.0 878.8 287.8 880.2 288.6 881.6 289.2 883.0 290.0 884.4 290.9 885.9 291.8 887.4 292.9 888.9 293.7 890.4 294.5 891.9 295.4 893.5 296.4 895.1 297.5 896.7 298.7 898.3 300.0 900.0 301.4 901.7 302.9 903.4 304.5 905.2 306.2 907.0 308.0 908.8 309.9 910.6 312.0 912.6 314.1 914.5 316.4 916.5 318.8 918.6 321.3 920.7 323.9 922.9 326.7 925.1 329.6 927.4 332.7 929.8 335.9 932.3 339.2 934.9 342.7 937.6 346.4 940.5 350.2 943.5 354.2 946.7 358.3 950.1 362.6 953.9 367.0 958.0 371.7 962.7 376.4 968.3 381.4 975.6 386.5 993.1 391.7" stroke="#a52a2a" stroke-width="5" stroke-dasharray="3.7 3.57"/>
<path d="M123.3 656.6 140.8 656.6 148.1 656.6 153.7 656.6 158.4 656.6 162.5 656.6 166.3 656.6 169.7 656.6 172.9 656.6 175.9 656.6 178.8 656.6 181.5 656.6 184.1 656.6 186.6 656.6 189.0 656.6 191.3 656.6 193.5 656.6 195.7 656.6 197.8 656.6 199.9 656.6 201.9 656.6 203.8 656.6 205.8 656.6 207.6 656.6 209.4 656.6 211.2 656.6 213.0 656.6 214.7 656.6 216.4 656.6 218.1 656.6 219.7 656.6 221.3 656.6 222.9 656.6 224.5 656.6 226.0 656.6 227.5 656.6 229.0 656.6 230.5 656.6 232.0 656.6 233.4 656.6 234.8 656.6 236.2 656.6 237.6 656.6 239.0 656.6 240.3 641.9 241.7 617.1 243.0 596.7 244.3 579.5 245.6 564.6 246.9 551.6 248.2 540.0 249.5 532.0 250.7 524.7 251.9 518.0 253.2 511.9 254.4 506.2 255.6 501.0 256.8 496.2 258.0 491.8 259.2 487.7 260.3 484.0 261.5 480.5 262.7 477.4 263.8 475.2 264.9 474.0 266.1 472.9 267.2 472.1 268.3 471.5 269.4 471.1 270.5 470.9 271.6 470.9 272.7 471.1 273.7 472.3 274.8 474.3 275.9 476.6 276.9 479.1 278.0 481.9 279.0 485.0 280.0 488.4 281.1 492.0 282.1 496.0 283.1 500.4 284.1 505.1 285.1 510.2 286.1 518.0 287.1 527.8 288.1 538.7 289.1 550.8 290.1 564.6 291.1 580.4 292.0 598.9 293.0 621.0 294.0 648.5 294.9 656.6 295.9 656.6 296.8 656.6 297.8 656.6 298.7 656.6 299.6 656.6 300.6 656.6 301.5 656.6 302.4 656.6 303.3 656.6 304.2 656.6 305.1 656.6 306.0 656.6 306.9 656.6 307.8 656.6 308.7 656.6 309.6 656.6 310.5 656.6 311.4 656.6 312.3 656.6 313.1 656.6 314.0 656.6 314.9 656.6 315.8 656.6 316.6 656.6 317.5 656.6 318.3 656.6 319.2 656.6 320.0 656.6 320.9 656.6 321.7 656.6 322.6 656.6 323.4 656.6 324.2 656.6 325.1 656.6 325.9 656.6 326.7 656.6 327.6 656.6 328.4 656.6 329.2 656.6 330.0 656.6 330.8 656.6 331.6 656.6 332.5 656.6 333.3 656.6 334.1 656.6 334.9 656.6 335.7 656.6 336.5 656.6 337.3 656.6 338.0 656.6 338.8 656.6 339.6 656.6 340.4 656.6 341.2 656.6 342.0 656.6 342.8 656.6 343.5 656.6 344.3 656.6 345.1 656.6 345.8 656.6 346.6 656.6 347.4 656.6 348.1 656.6 348.9 656.6 349.7 656.6 350.4 656.6 351.2 656.6 351.9 656.6 352.7 656.6 353.4 656.6 354.2 656.6 354.9 656.6 355.7 656.6 356.4 656.6 357.2 656.6 357.9 656.6 358.6 656.6 359.4 656.6 360.1 656.6 360.8 656.6 361.6 656.6 362.3 656.6 363.0 656.6 363.8 656.6 364.5 656.6 365.2 656.6 365.9 656.6 366.6 656.6 367.4 632.2 368.1 610.8 368.8 593.0 369.5 577.7 370.2 564.4 370.9 552.7 371.6 543.5 372.4 536.3 373.1 529.8 373.8 523.9 374.5 518.5 375.2 513.6 375.9 509.1 376.6 505.1 377.3 501.4 378.0 498.1 378.7 495.1 379.4 492.5 380.0 490.2 380.7 489.8 381.4 489.7 382.1 489.8 382.8 490.3 383.5 491.0 384.2 491.9 384.9 493.2 385.5 494.8 386.2 497.7 386.9 501.6 387.6 506.0 388.3 510.8 388.9 516.1 389.6 522.0 390.3 530.1 391.0 539.8 391.6 550.7 392.3 563.1 393.0 577.4 393.6 594.0 394.3 613.8 395.0 638.1 395.6 656.6 396.3 656.6 397.0 656.6 397.6 656.6 398.3 656.6 399.0 656.6 399.6 656.6 400.3 656.6 400.9 656.6 401.6 656.6 402.2 656.6 402.9 656.6 403.5 656.6 404.2 656.6 404.9 656.6 405.5 656.6 406.2 656.6 406.8 656.6 407.5 656.6 408.1 656.6 408.7 656.6 409.4 656.6 410.0 656.6 410.7 656.6 411.3 656.6 412.0 656.6 412.6 656.6 413.2 656.6 413.9 656.6 414.5 656.6 415.2 656.6 415.8 656.6 416.4 656.6 417.1 656.6 417.7 656.6 418.3 656.6 419.0 656.6 419.6 656.6 420.2 656.6 420.9 656.6 421.5 656.6 422.1 656.6 422.7 656.6 423.4 656.6 424.0 656.6 424.6 656.6 425.2 656.6 425.9 656.6 426.5 656.6 427.1 656.6 427.7 656.6 428.4 656.6 429.0 656.6 429.6 656.6 430.2 656.6 430.8 656.6 431.4 656.6 432.1 656.6 432.7 656.6 433.3 656.6 433.9 656.6 434.5 647.1 435.1 617.2 435.8 595.0 436.4 579.3 437.0 565.8 437.6 554.2 438.2 544.0 438.8 535.0 439.4 527.8 440.0 522.7 440.6 518.1 441.2 514.2 441.8 510.7 442.5 507.7 443.1 505.2 443.7 503.1 444.3 501.5 444.9 502.1 445.5 503.1 446.1 504.5 446.7 506.4 447.3 508.7 447.9 511.4 448.5 514.7 449.1 518.4 449.7 522.7 450.3 527.6 450.9 533.2 451.5 539.5 452.1 547.8 452.7 558.6 453.3 571.1 453.9 585.5 454.5 602.6 455.1 623.4 455.7 648.9 456.2 656.6 456.8 656.6 457.4 656.6 458.0 656.6 458.6 656.6 459.2 656.6 459.8 656.6 460.4 656.6 461.0 656.6 461.6 656.6 462.2 656.6 462.7 656.6 463.3 656.6 463.9 656.6 464.5 656.6 465.1 656.6 465.7 656.6 466.3 656.6 466.9 656.6 467.4 656.6 468.0 656.6 468.6 656.6 469.2 656.6 469.8 656.6 470.4 656.6 470.9 656.6 471.5 656.6 472.1 656.6 472.7 656.6 473.3 656.6 473.8 656.6 474.4 656.6 475.0 656.6 475.6 656.6 476.2 656.6 476.7 656.6 477.3 656.6 477.9 656.6 478.5 656.6 479.1 656.6 479.6 656.6 480.2 656.6 480.8 656.6 481.4 656.6 481.9 656.6 482.5 656.6 483.1 617.0 483.7 563.7 484.2 527.0 484.8 499.0 485.4 476.3 486.0 457.4 486.5 441.1 487.1 426.8 487.7 414.1 488.2 402.8 488.8 394.2 489.4 386.3 490.0 378.5 490.5 370.8 491.1 363.1 491.7 355.6 492.2 348.2 492.8 340.9 493.4 333.9 493.9 327.0 494.5 320.3 495.1 313.7 495.7 307.4 496.2 301.2 496.8 295.1 497.4 289.3 497.9 283.6 498.5 278.1 499.1 273.0 499.6 268.1 500.2 263.3 500.8 258.6 501.3 253.9 501.9 249.4 502.5 245.0 503.0 241.0 503.6 237.0 504.1 233.1 504.7 229.3 505.3 225.5 505.8 221.8 506.4 218.2 507.0 214.7 507.5 211.2 508.1 207.7 508.7 204.4 509.2 201.1 509.8 197.9 510.3 194.7 510.9 191.6 511.5 188.5 512.0 185.6 512.6 182.9 513.2 180.2 513.7 177.6 514.3 175.0 514.8 172.4 515.4 169.9 516.0 167.5 516.5 165.1 517.1 162.9 517.6 160.7 518.2 158.6 518.8 156.7 519.3 155.0 519.9 153.3 520.4 151.7 521.0 150.2 521.5 148.8 522.1 147.3 522.7 145.9 523.2 144.5 523.8 143.2 524.3 141.9 524.9 140.6 525.5 139.4 526.0 138.1 526.6 136.9 527.1 135.6 527.7 134.4 528.2 133.2 528.8 132.0 529.4 130.8 529.9 129.6 530.5 128.4 531.0 127.4 531.6 126.3 532.1 125.3 532.7 124.2 533.2 123.2 533.8 122.2 534.4 121.2 534.9 120.2 535.5 119.3 536.0 118.4 536.6 117.5 537.1 116.6 537.7 115.8 538.2 114.9 538.8 114.1 539.4 113.4 539.9 112.7 540.5 112.0 541.0 111.2 541.6 110.5 542.1 109.8 542.7 109.2 543.2 108.5 543.8 107.8 544.4 107.1 544.9 106.5 545.5 105.9 546.0 105.2 546.6 104.6 547.1 104.0 547.7 103.4 548.2 102.8 548.8 102.2 549.3 101.7 549.9 101.1 550.4 100.6 551.0 100.1 551.6 99.6 552.1 99.1 552.7 98.6 553.2 98.1 553.8 97.7 554.3 97.3 554.9 96.9 555.4 96.5 556.0 96.1 556.5 95.8 557.1 95.4 557.6 95.2 558.2 95.0 558.8 95.2 559.3 95.4 559.9 95.8 560.4 96.1 561.0 96.5 561.5 96.9 562.1 97.3 562.6 97.7 563.2 98.1 563.7 98.6 564.3 99.1 564.8 99.6 565.4 100.1 566.0 100.6 566.5 101.1 567.1 101.7 567.6 102.2 568.2 102.8 568.7 103.4 569.3 104.0 569.8 104.6 570.4 105.2 570.9 105.9 571.5 106.5 572.0 107.1 572.6 107.8 573.2 108.5 573.7 109.2 574.3 109.8 574.8 110.5 575.4 111.2 575.9 112.0 576.5 112.7 577.0 113.4 577.6 114.1 578.2 114.9 578.7 115.8 579.3 116.6 579.8 117.5 580.4 118.4 580.9 119.3 581.5 120.2 582.0 121.2 582.6 122.2 583.2 123.2 583.7 124.2 584.3 125.3 584.8 126.3 585.4 127.4 585.9 128.4 586.5 129.6 587.0 130.8 587.6 132.0 588.2 133.2 588.7 134.4 589.3 135.6 589.8 136.9 590.4 138.1 590.9 139.4 591.5 140.6 592.1 141.9 592.6 143.2 593.2 144.5 593.7 145.9 594.3 147.3 594.9 148.8 595.4 150.2 596.0 151.7 596.5 153.3 597.1 155.0 597.6 156.7 598.2 158.6 598.8 160.7 599.3 162.9 599.9 165.1 600.4 167.5 601.0 169.9 601.6 172.4 602.1 175.0 602.7 177.6 603.2 180.2 603.8 182.9 604.4 185.6 604.9 188.5 605.5 191.6 606.1 194.7 606.6 197.9 607.2 201.1 607.7 204.4 608.3 207.7 608.9 211.2 609.4 214.7 610.0 218.2 610.6 221.8 611.1 225.5 611.7 229.3 612.3 233.1 612.8 237.0 613.4 241.0 613.9 245.0 614.5 249.4 615.1 253.9 615.6 258.6 616.2 263.3 616.8 268.1 617.3 273.0 617.9 278.1 618.5 283.6 619.0 289.3 619.6 295.1 620.2 301.2 620.7 307.4 621.3 313.7 621.9 320.3 622.5 327.0 623.0 333.9 623.6 340.9 624.2 348.2 624.7 355.6 625.3 363.1 625.9 370.8 626.4 378.5 627.0 386.3 627.6 394.2 628.2 402.8 628.7 414.1 629.3 426.8 629.9 441.1 630.4 457.4 631.0 476.3 631.6 499.0 632.2 527.0 632.7 563.7 633.3 617.0 633.9 656.6 634.5 656.6 635.0 656.6 635.6 656.6 636.2 656.6 636.8 656.6 637.3 656.6 637.9 656.6 638.5 656.6 639.1 656.6 639.7 656.6 640.2 656.6 640.8 656.6 641.4 656.6 642.0 656.6 642.6 656.6 643.1 656.6 643.7 656.6 644.3 656.6 644.9 656.6 645.5 656.6 646.0 656.6 646.6 656.6 647.2 656.6 647.8 656.6 648.4 656.6 649.0 656.6 649.5 656.6 650.1 656.6 650.7 656.6 651.3 656.6 651.9 656.6 652.5 656.6 653.1 656.6 653.7 656.6 654.2 656.6 654.8 656.6 655.4 656.6 656.0 656.6 656.6 656.6 657.2 656.6 657.8 656.6 658.4 656.6 659.0 656.6 659.6 656.6 660.2 656.6 660.7 648.9 661.3 623.4 661.9 602.6 662.5 585.5 663.1 571.1 663.7 558.6 664.3 547.8 664.9 539.5 665.5 533.2 666.1 527.6 666.7 522.7 667.3 518.4 667.9 514.7 668.5 511.4 669.1 508.7 669.7 506.4 670.3 504.5 670.9 503.1 671.5 502.1 672.1 501.5 672.7 503.1 673.3 505.2 673.9 507.7 674.6 510.7 675.2 514.2 675.8 518.1 676.4 522.7 677.0 527.8 677.6 535.0 678.2 544.0 678.8 554.2 679.4 565.8 680.0 579.3 680.6 595.0 681.3 617.2 681.9 647.1 682.5 656.6 683.1 656.6 683.7 656.6 684.3 656.6 685.0 656.6 685.6 656.6 686.2 656.6 686.8 656.6 687.4 656.6 688.0 656.6 688.7 656.6 689.3 656.6 689.9 656.6 690.5 656.6 691.2 656.6 691.8 656.6 692.4 656.6 693.0 656.6 693.7 656.6 694.3 656.6 694.9 656.6 695.5 656.6 696.2 656.6 696.8 656.6 697.4 656.6 698.1 656.6 698.7 656.6 699.3 656.6 700.0 656.6 700.6 656.6 701.2 656.6 701.9 656.6 702.5 656.6 703.2 656.6 703.8 656.6 704.4 656.6 705.1 656.6 705.7 656.6 706.4 656.6 707.0 656.6 707.7 656.6 708.3 656.6 708.9 656.6 709.6 656.6 710.2 656.6 710.9 656.6 711.5 656.6 712.2 656.6 712.9 656.6 713.5 656.6 714.2 656.6 714.8 656.6 715.5 656.6 716.1 656.6 716.8 656.6 717.4 656.6 718.1 656.6 718.8 656.6 719.4 656.6 720.1 656.6 720.8 656.6 721.4 638.1 722.1 613.8 722.8 594.0 723.4 577.4 724.1 563.1 724.8 550.7 725.4 539.8 726.1 530.1 726.8 522.0 727.5 516.1 728.1 510.8 728.8 506.0 729.5 501.6 730.2 497.7 730.9 494.8 731.5 493.2 732.2 491.9 732.9 491.0 733.6 490.3 734.3 489.8 735.0 489.7 735.7 489.8 736.4 490.2 737.0 492.5 737.7 495.1 738.4 498.1 739.1 501.4 739.8 505.1 740.5 509.1 741.2 513.6 741.9 518.5 742.6 523.9 743.3 529.8 744.0 536.3 744.8 543.5 745.5 552.7 746.2 564.4 746.9 577.7 747.6 593.0 748.3 610.8 749.0 632.2 749.8 656.6 750.5 656.6 751.2 656.6 751.9 656.6 752.6 656.6 753.4 656.6 754.1 656.6 754.8 656.6 755.6 656.6 756.3 656.6 757.0 656.6 757.8 656.6 758.5 656.6 759.2 656.6 760.0 656.6 760.7 656.6 761.5 656.6 762.2 656.6 763.0 656.6 763.7 656.6 764.5 656.6 765.2 656.6 766.0 656.6 766.7 656.6 767.5 656.6 768.3 656.6 769.0 656.6 769.8 656.6 770.6 656.6 771.3 656.6 772.1 656.6 772.9 656.6 773.6 656.6 774.4 656.6 775.2 656.6 776.0 656.6 776.8 656.6 777.6 656.6 778.4 656.6 779.1 656.6 779.9 656.6 780.7 656.6 781.5 656.6 782.3 656.6 783.1 656.6 783.9 656.6 784.8 656.6 785.6 656.6 786.4 656.6 787.2 656.6 788.0 656.6 788.8 656.6 789.7 656.6 790.5 656.6 791.3 656.6 792.2 656.6 793.0 656.6 793.8 656.6 794.7 656.6 795.5 656.6 796.4 656.6 797.2 656.6 798.1 656.6 798.9 656.6 799.8 656.6 800.6 656.6 801.5 656.6 802.4 656.6 803.3 656.6 804.1 656.6 805.0 656.6 805.9 656.6 806.8 656.6 807.7 656.6 808.6 656.6 809.5 656.6 810.4 656.6 811.3 656.6 812.2 656.6 813.1 656.6 814.0 656.6 814.9 656.6 815.8 656.6 816.8 656.6 817.7 656.6 818.6 656.6 819.6 656.6 820.5 656.6 821.5 656.6 822.4 648.5 823.4 621.0 824.4 598.9 825.3 580.4 826.3 564.6 827.3 550.8 828.3 538.7 829.3 527.8 830.3 518.0 831.3 510.2 832.3 505.1 833.3 500.4 834.3 496.0 835.3 492.0 836.4 488.4 837.4 485.0 838.4 481.9 839.5 479.1 840.5 476.6 841.6 474.3 842.7 472.3 843.7 471.1 844.8 470.9 845.9 470.9 847.0 471.1 848.1 471.5 849.2 472.1 850.3 472.9 851.5 474.0 852.6 475.2 853.7 477.4 854.9 480.5 856.1 484.0 857.2 487.7 858.4 491.8 859.6 496.2 860.8 501.0 862.0 506.2 863.2 511.9 864.5 518.0 865.7 524.7 866.9 532.0 868.2 540.0 869.5 551.6 870.8 564.6 872.1 579.5 873.4 596.7 874.7 617.1 876.1 641.9 877.4 656.6 878.8 656.6 880.2 656.6 881.6 656.6 883.0 656.6 884.4 656.6 885.9 656.6 887.4 656.6 888.9 656.6 890.4 656.6 891.9 656.6 893.5 656.6 895.1 656.6 896.7 656.6 898.3 656.6 900.0 656.6 901.7 656.6 903.4 656.6 905.2 656.6 907.0 656.6 908.8 656.6 910.6 656.6 912.6 656.6 914.5 656.6 916.5 656.6 918.6 656.6 920.7 656.6 922.9 656.6 925.1 656.6 927.4 656.6 929.8 656.6 932.3 656.6 934.9 656.6 937.6 656.6 940.5 656.6 943.5 656.6 946.7 656.6 950.1 656.6 953.9 656.6 958.0 656.6 962.7 656.6 968.3 656.6 975.6 656.6 993.1 656.6" stroke="#a52a2a" stroke-width="5" stroke-dasharray="3.7 3.57"/>
<path d="M123.3 435.6 140.8 430.0 148.1 424.7 153.7 419.6 158.4 414.7 162.5 410.1 166.3 405.6 169.7 401.3 172.9 397.2 175.9 393.2 178.8 389.4 181.5 385.7 184.1 382.2 186.6 378.8 189.0 375.5 191.3 372.3 193.5 369.3 195.7 366.3 197.8 363.5 199.9 360.7 201.9 358.0 203.8 355.5 205.8 353.0 207.6 350.6 209.4 348.3 211.2 346.0 213.0 343.9 214.7 341.8 216.4 339.8 218.1 337.9 219.7 336.0 221.3 334.2 222.9 332.5 224.5 330.8 226.0 329.2 227.5 327.6 229.0 326.1 230.5 324.7 232.0 323.3 233.4 322.0 234.8 320.8 236.2 319.6 237.6 318.4 239.0 317.3 240.3 316.3 241.7 315.3 243.0 314.3 244.3 313.4 245.6 312.6 246.9 311.8 248.2 311.1 249.5 310.4 250.7 309.7 251.9 309.1 253.2 308.6 254.4 308.1 255.6 307.6 256.8 307.2 258.0 306.9 259.2 306.5 260.3 306.3 261.5 306.1 262.7 305.9 263.8 305.7 264.9 305.7 266.1 305.6 267.2 305.6 268.3 305.7 269.4 305.8 270.5 305.9 271.6 306.1 272.7 306.3 273.7 306.6 274.8 306.9 275.9 307.3 276.9 307.7 278.0 308.2 279.0 308.7 280.0 309.2 281.1 309.8 282.1 310.5 283.1 311.2 284.1 311.9 285.1 312.7 286.1 313.6 287.1 314.5 288.1 315.4 289.1 316.4 290.1 317.5 291.1 318.6 292.0 319.8 293.0 321.0 294.0 322.3 294.9 323.6 295.9 325.0 296.8 326.5 297.8 328.0 298.7 329.5 299.6 331.2 300.6 332.9 301.5 334.7 302.4 336.5 303.3 338.4 304.2 340.4 305.1 342.4 306.0 344.6 306.9 346.8 307.8 349.0 308.7 351.4 309.6 353.9 310.5 356.4 311.4 359.0 312.3 361.8 313.1 364.6 314.0 367.5 314.9 370.6 315.8 373.7 316.6 377.0 317.5 380.4 318.3 383.9 319.2 387.6 320.0 391.4 320.9 395.3 321.7 399.4 322.6 403.7 323.4 408.2 324.2 412.8 325.1 417.7 325.9 422.8 326.7 428.1 327.6 433.7 328.4 431.7 329.2 426.2 330.0 421.0 330.8 415.9 331.6 411.1 332.5 406.5 333.3 402.1 334.1 397.9 334.9 393.8 335.7 389.9 336.5 386.1 337.3 382.5 338.0 379.0 338.8 375.6 339.6 372.4 340.4 369.3 341.2 366.2 342.0 363.3 342.8 360.5 343.5 357.8 344.3 355.2 345.1 352.6 345.8 350.2 346.6 347.8 347.4 345.5 348.1 343.4 348.9 341.2 349.7 339.2 350.4 337.2 351.2 335.3 351.9 333.5 352.7 331.7 353.4 330.0 354.2 328.4 354.9 326.8 355.7 325.3 356.4 323.9 357.2 322.5 357.9 321.2 358.6 319.9 359.4 318.7 360.1 317.6 360.8 316.5 361.6 315.5 362.3 314.5 363.0 313.6 363.8 312.7 364.5 311.9 365.2 311.1 365.9 310.4 366.6 309.7 367.4 309.1 368.1 308.5 368.8 308.0 369.5 307.5 370.2 307.1 370.9 306.8 371.6 306.4 372.4 306.2 373.1 306.0 373.8 305.8 374.5 305.7 375.2 305.6 375.9 305.6 376.6 305.6 377.3 305.7 378.0 305.9 378.7 306.0 379.4 306.3 380.0 306.5 380.7 306.9 381.4 307.3 382.1 307.7 382.8 308.2 383.5 308.7 384.2 309.3 384.9 310.0 385.5 310.7 386.2 311.4 386.9 312.2 387.6 313.1 388.3 314.0 388.9 315.0 389.6 316.1 390.3 317.2 391.0 318.3 391.6 319.5 392.3 320.8 393.0 322.2 393.6 323.6 394.3 325.1 395.0 326.6 395.6 328.2 396.3 329.9 397.0 331.7 397.6 333.5 398.3 335.5 399.0 337.4 399.6 339.5 400.3 341.7 400.9 343.9 401.6 346.3 402.2 348.7 402.9 351.3 403.5 353.9 404.2 356.6 404.9 359.5 405.5 362.4 406.2 365.5 406.8 368.7 407.5 372.1 408.1 375.5 408.7 379.2 409.4 382.9 410.0 386.9 410.7 391.0 411.3 395.3 412.0 399.7 412.6 404.4 413.2 409.3 413.9 414.5 414.5 419.9 415.2 425.6 415.8 431.6 416.4 433.2 417.1 427.1 417.7 421.3 418.3 415.8 419.0 410.5 419.6 405.5 420.2 400.7 420.9 396.0 421.5 391.6 422.1 387.4 422.7 383.3 423.4 379.4 424.0 375.6 424.6 372.0 425.2 368.5 425.9 365.2 426.5 361.9 427.1 358.8 427.7 355.8 428.4 353.0 429.0 350.2 429.6 347.5 430.2 345.0 430.8 342.5 431.4 340.1 432.1 337.9 432.7 335.7 433.3 333.6 433.9 331.6 434.5 329.6 435.1 327.8 435.8 326.0 436.4 324.3 437.0 322.7 437.6 321.2 438.2 319.7 438.8 318.3 439.4 317.0 440.0 315.8 440.6 314.6 441.2 313.5 441.8 312.5 442.5 311.5 443.1 310.6 443.7 309.8 444.3 309.1 444.9 308.4 445.5 307.8 446.1 307.3 446.7 306.8 447.3 306.4 447.9 306.1 448.5 305.9 449.1 305.7 449.7 305.6 450.3 305.6 450.9 305.7 451.5 305.8 452.1 306.0 452.7 306.3 453.3 306.7 453.9 307.1 454.5 307.7 455.1 308.3 455.7 309.0 456.2 309.8 456.8 310.7 457.4 311.7 458.0 312.9 458.6 314.1 459.2 315.4 459.8 316.8 460.4 318.4 461.0 320.0 461.6 321.8 462.2 323.7 462.7 325.8 463.3 328.0 463.9 330.4 464.5 332.9 465.1 335.6 465.7 338.5 466.3 341.6 466.9 344.9 467.4 348.5 468.0 352.3 468.6 356.3 469.2 360.7 469.8 365.4 470.4 370.4 470.9 375.8 471.5 381.7 472.1 388.1 472.7 395.0 473.3 402.6 473.8 411.0 474.4 420.2 475.0 430.5 475.6 429.5 476.2 418.8 476.7 408.8 477.3 399.4 477.9 390.5 478.5 382.1 479.1 374.1 479.6 366.4 480.2 359.1 480.8 352.1 481.4 345.4 481.9 338.9 482.5 332.7 483.1 326.7 483.7 320.8 484.2 315.2 484.8 309.8 485.4 304.5 486.0 299.4 486.5 294.4 487.1 289.6 487.7 284.8 488.2 280.3 488.8 275.8 489.4 271.5 490.0 267.2 490.5 263.1 491.1 259.0 491.7 255.1 492.2 251.2 492.8 247.5 493.4 243.8 493.9 240.2 494.5 236.7 495.1 233.2 495.7 229.8 496.2 226.5 496.8 223.3 497.4 220.1 497.9 217.0 498.5 213.9 499.1 210.9 499.6 208.0 500.2 205.1 500.8 202.3 501.3 199.5 501.9 196.8 502.5 194.1 503.0 191.5 503.6 188.9 504.1 186.4 504.7 183.9 505.3 181.5 505.8 179.1 506.4 176.7 507.0 174.4 507.5 172.2 508.1 170.0 508.7 167.8 509.2 165.6 509.8 163.5 510.3 161.4 510.9 159.4 511.5 157.4 512.0 155.4 512.6 153.5 513.2 151.6 513.7 149.8 514.3 147.9 514.8 146.1 515.4 144.4 516.0 142.6 516.5 140.9 517.1 139.3 517.6 137.6 518.2 136.0 518.8 134.4 519.3 132.9 519.9 131.4 520.4 129.9 521.0 128.4 521.5 127.0 522.1 125.5 522.7 124.2 523.2 122.8 523.8 121.5 524.3 120.2 524.9 118.9 525.5 117.6 526.0 116.4 526.6 115.2 527.1 114.0 527.7 112.9 528.2 111.7 528.8 110.6 529.4 109.5 529.9 108.5 530.5 107.4 531.0 106.4 531.6 105.4 532.1 104.5 532.7 103.5 533.2 102.6 533.8 101.7 534.4 100.8 534.9 100.0 535.5 99.2 536.0 98.3 536.6 97.6 537.1 96.8 537.7 96.0 538.2 95.3 538.8 94.6 539.4 93.9 539.9 93.3 540.5 92.6 541.0 92.0 541.6 91.4 542.1 90.8 542.7 90.3 543.2 89.7 543.8 89.2 544.4 88.7 544.9 88.2 545.5 87.8 546.0 87.3 546.6 86.9 547.1 86.5 547.7 86.2 548.2 85.8 548.8 85.5 549.3 85.1 549.9 84.8 550.4 84.6 551.0 84.3 551.6 84.1 552.1 83.8 552.7 83.6 553.2 83.4 553.8 83.3 554.3 83.1 554.9 83.0 555.4 82.9 556.0 82.8 556.5 82.8 557.1 82.7 557.6 82.7 558.2 82.7 558.8 82.7 559.3 82.7 559.9 82.8 560.4 82.8 561.0 82.9 561.5 83.0 562.1 83.1 562.6 83.3 563.2 83.4 563.7 83.6 564.3 83.8 564.8 84.1 565.4 84.3 566.0 84.6 566.5 84.8 567.1 85.1 567.6 85.5 568.2 85.8 568.7 86.2 569.3 86.5 569.8 86.9 570.4 87.3 570.9 87.8 571.5 88.2 572.0 88.7 572.6 89.2 573.2 89.7 573.7 90.3 574.3 90.8 574.8 91.4 575.4 92.0 575.9 92.6 576.5 93.3 577.0 93.9 577.6 94.6 578.2 95.3 578.7 96.0 579.3 96.8 579.8 97.6 580.4 98.3 580.9 99.2 581.5 100.0 582.0 100.8 582.6 101.7 583.2 102.6 583.7 103.5 584.3 104.5 584.8 105.4 585.4 106.4 585.9 107.4 586.5 108.5 587.0 109.5 587.6 110.6 588.2 111.7 588.7 112.9 589.3 114.0 589.8 115.2 590.4 116.4 590.9 117.6 591.5 118.9 592.1 120.2 592.6 121.5 593.2 122.8 593.7 124.2 594.3 125.5 594.9 127.0 595.4 128.4 596.0 129.9 596.5 131.4 597.1 132.9 597.6 134.4 598.2 136.0 598.8 137.6 599.3 139.3 599.9 140.9 600.4 142.6 601.0 144.4 601.6 146.1 602.1 147.9 602.7 149.8 603.2 151.6 603.8 153.5 604.4 155.4 604.9 157.4 605.5 159.4 606.1 161.4 606.6 163.5 607.2 165.6 607.7 167.8 608.3 170.0 608.9 172.2 609.4 174.4 610.0 176.7 610.6 179.1 611.1 181.5 611.7 183.9 612.3 186.4 612.8 188.9 613.4 191.5 613.9 194.1 614.5 196.8 615.1 199.5 615.6 202.3 616.2 205.1 616.8 208.0 617.3 210.9 617.9 213.9 618.5 217.0 619.0 220.1 619.6 223.3 620.2 226.5 620.7 229.8 621.3 233.2 621.9 236.7 622.5 240.2 623.0 243.8 623.6 247.5 624.2 251.2 624.7 255.1 625.3 259.0 625.9 263.1 626.4 267.2 627.0 271.5 627.6 275.8 628.2 280.3 628.7 284.8 629.3 289.6 629.9 294.4 630.4 299.4 631.0 304.5 631.6 309.8 632.2 315.2 632.7 320.8 633.3 326.7 633.9 332.7 634.5 338.9 635.0 345.4 635.6 352.1 636.2 359.1 636.8 366.4 637.3 374.1 637.9 382.1 638.5 390.5 639.1 399.4 639.7 408.8 640.2 418.8 640.8 429.5 641.4 430.5 642.0 420.2 642.6 411.0 643.1 402.6 643.7 395.0 644.3 388.1 644.9 381.7 645.5 375.8 646.0 370.4 646.6 365.4 647.2 360.7 647.8 356.3 648.4 352.3 649.0 348.5 649.5 344.9 650.1 341.6 650.7 338.5 651.3 335.6 651.9 332.9 652.5 330.4 653.1 328.0 653.7 325.8 654.2 323.7 654.8 321.8 655.4 320.0 656.0 318.4 656.6 316.8 657.2 315.4 657.8 314.1 658.4 312.9 659.0 311.7 659.6 310.7 660.2 309.8 660.7 309.0 661.3 308.3 661.9 307.7 662.5 307.1 663.1 306.7 663.7 306.3 664.3 306.0 664.9 305.8 665.5 305.7 666.1 305.6 666.7 305.6 667.3 305.7 667.9 305.9 668.5 306.1 669.1 306.4 669.7 306.8 670.3 307.3 670.9 307.8 671.5 308.4 672.1 309.1 672.7 309.8 673.3 310.6 673.9 311.5 674.6 312.5 675.2 313.5 675.8 314.6 676.4 315.8 677.0 317.0 677.6 318.3 678.2 319.7 678.8 321.2 679.4 322.7 680.0 324.3 680.6 326.0 681.3 327.8 681.9 329.6 682.5 331.6 683.1 333.6 683.7 335.7 684.3 337.9 685.0 340.1 685.6 342.5 686.2 345.0 686.8 347.5 687.4 350.2 688.0 353.0 688.7 355.8 689.3 358.8 689.9 361.9 690.5 365.2 691.2 368.5 691.8 372.0 692.4 375.6 693.0 379.4 693.7 383.3 694.3 387.4 694.9 391.6 695.5 396.0 696.2 400.7 696.8 405.5 697.4 410.5 698.1 415.8 698.7 421.3 699.3 427.1 700.0 433.2 700.6 431.6 701.2 425.6 701.9 419.9 702.5 414.5 703.2 409.3 703.8 404.4 704.4 399.7 705.1 395.3 705.7 391.0 706.4 386.9 707.0 382.9 707.7 379.2 708.3 375.5 708.9 372.1 709.6 368.7 710.2 365.5 710.9 362.4 711.5 359.5 712.2 356.6 712.9 353.9 713.5 351.3 714.2 348.7 714.8 346.3 715.5 343.9 716.1 341.7 716.8 339.5 717.4 337.4 718.1 335.5 718.8 333.5 719.4 331.7 720.1 329.9 720.8 328.2 721.4 326.6 722.1 325.1 722.8 323.6 723.4 322.2 724.1 320.8 724.8 319.5 725.4 318.3 726.1 317.2 726.8 316.1 727.5 315.0 728.1 314.0 728.8 313.1 729.5 312.2 730.2 311.4 730.9 310.7 731.5 310.0 732.2 309.3 732.9 308.7 733.6 308.2 734.3 307.7 735.0 307.3 735.7 306.9 736.4 306.5 737.0 306.3 737.7 306.0 738.4 305.9 739.1 305.7 739.8 305.6 740.5 305.6 741.2 305.6 741.9 305.7 742.6 305.8 743.3 306.0 744.0 306.2 744.8 306.4 745.5 306.8 746.2 307.1 746.9 307.5 747.6 308.0 748.3 308.5 749.0 309.1 749.8 309.7 750.5 310.4 751.2 311.1 751.9 311.9 752.6 312.7 753.4 313.6 754.1 314.5 754.8 315.5 755.6 316.5 756.3 317.6 757.0 318.7 757.8 319.9 758.5 321.2 759.2 322.5 760.0 323.9 760.7 325.3 761.5 326.8 762.2 328.4 763.0 330.0 763.7 331.7 764.5 333.5 765.2 335.3 766.0 337.2 766.7 339.2 767.5 341.2 768.3 343.4 769.0 345.5 769.8 347.8 770.6 350.2 771.3 352.6 772.1 355.2 772.9 357.8 773.6 360.5 774.4 363.3 775.2 366.2 776.0 369.3 776.8 372.4 777.6 375.6 778.4 379.0 779.1 382.5 779.9 386.1 780.7 389.9 781.5 393.8 782.3 397.9 783.1 402.1 783.9 406.5 784.8 411.1 785.6 415.9 786.4 421.0 787.2 426.2 788.0 431.7 788.8 433.7 789.7 428.1 790.5 422.8 791.3 417.7 792.2 412.8 793.0 408.2 793.8 403.7 794.7 399.4 795.5 395.3 796.4 391.4 797.2 387.6 798.1 383.9 798.9 380.4 799.8 377.0 800.6 373.7 801.5 370.6 802.4 367.5 803.3 364.6 804.1 361.8 805.0 359.0 805.9 356.4 806.8 353.9 807.7 351.4 808.6 349.0 809.5 346.8 810.4 344.6 811.3 342.4 812.2 340.4 813.1 338.4 814.0 336.5 814.9 334.7 815.8 332.9 816.8 331.2 817.7 329.5 818.6 328.0 819.6 326.5 820.5 325.0 821.5 323.6 822.4 322.3 823.4 321.0 824.4 319.8 825.3 318.6 826.3 317.5 827.3 316.4 828.3 315.4 829.3 314.5 830.3 313.6 831.3 312.7 832.3 311.9 833.3 311.2 834.3 310.5 835.3 309.8 836.4 309.2 837.4 308.7 838.4 308.2 839.5 307.7 840.5 307.3 841.6 306.9 842.7 306.6 843.7 306.3 844.8 306.1 845.9 305.9 847.0 305.8 848.1 305.7 849.2 305.6 850.3 305.6 851.5 305.7 852.6 305.7 853.7 305.9 854.9 306.1 856.1 306.3 857.2 306.5 858.4 306.9 859.6 307.2 860.8 307.6 862.0 308.1 863.2 308.6 864.5 309.1 865.7 309.7 866.9 310.4 868.2 311.1 869.5 311.8 870.8 312.6 872.1 313.4 873.4 314.3 874.7 315.3 876.1 316.3 877.4 317.3 878.8 318.4 880.2 319.6 881.6 320.8 883.0 322.0 884.4 323.3 885.9 324.7 887.4 326.1 888.9 327.6 890.4 329.2 891.9 330.8 893.5 332.5 895.1 334.2 896.7 336.0 898.3 337.9 900.0 339.8 901.7 341.8 903.4 343.9 905.2 346.0 907.0 348.3 908.8 350.6 910.6 353.0 912.6 355.5 914.5 358.0 916.5 360.7 918.6 363.5 920.7 366.3 922.9 369.3 925.1 372.3 927.4 375.5 929.8 378.8 932.3 382.2 934.9 385.7 937.6 389.4 940.5 393.2 943.5 397.2 946.7 401.3 950.1 405.6 953.9 410.1 958.0 414.7 962.7 419.6 968.3 424.7 975.6 430.0 993.1 435.6" stroke="#00ff00" stroke-width="5" stroke-dasharray="9.3 2.1 2 2.7"/>
<path d="M123.3 656.6 140.8 656.6 148.1 656.6 153.7 656.6 158.4 656.6 162.5 656.6 166.3 656.6 169.7 656.6 172.9 656.6 175.9 656.6 178.8 656.6 181.5 656.6 184.1 656.6 186.6 656.6 189.0 656.6 191.3 656.6 193.5 656.6 195.7 656.6 197.8 656.6 199.9 656.6 201.9 656.6 203.8 656.6 205.8 656.6 207.6 656.6 209.4 656.6 211.2 656.1 213.0 628.7 214.7 606.8 216.4 588.7 218.1 573.3 219.7 560.0 221.3 548.3 222.9 537.8 224.5 528.4 226.0 519.9 227.5 512.2 229.0 505.2 230.5 498.7 232.0 492.7 233.4 487.2 234.8 482.2 236.2 477.4 237.6 473.1 239.0 469.0 240.3 465.2 241.7 461.7 243.0 458.5 244.3 455.4 245.6 452.6 246.9 450.0 248.2 447.6 249.5 445.4 250.7 443.4 251.9 441.5 253.2 439.8 254.4 438.3 255.6 436.9 256.8 435.7 258.0 434.6 259.2 433.6 260.3 432.8 261.5 432.2 262.7 431.6 263.8 431.3 264.9 431.0 266.1 430.9 267.2 430.9 268.3 431.0 269.4 431.3 270.5 431.7 271.6 432.2 272.7 432.9 273.7 433.7 274.8 434.7 275.9 435.8 276.9 437.1 278.0 438.5 279.0 440.0 280.0 441.7 281.1 443.6 282.1 445.7 283.1 447.9 284.1 450.4 285.1 453.0 286.1 455.9 287.1 458.9 288.1 462.3 289.1 465.8 290.1 469.7 291.1 473.8 292.0 478.3 293.0 483.1 294.0 488.3 294.9 493.9 295.9 500.0 296.8 506.7 297.8 513.9 298.7 521.9 299.6 530.6 300.6 540.4 301.5 551.2 302.4 563.5 303.3 577.5 304.2 593.7 305.1 613.0 306.0 636.6 306.9 656.6 307.8 656.6 308.7 656.6 309.6 656.6 310.5 656.6 311.4 656.6 312.3 656.6 313.1 656.6 314.0 656.6 314.9 656.6 315.8 656.6 316.6 656.6 317.5 656.6 318.3 656.6 319.2 656.6 320.0 656.6 320.9 656.6 321.7 656.6 322.6 656.6 323.4 656.6 324.2 656.6 325.1 656.6 325.9 656.6 326.7 656.6 327.6 656.6 328.4 656.6 329.2 656.6 330.0 656.6 330.8 656.6 331.6 656.6 332.5 656.6 333.3 656.6 334.1 656.6 334.9 656.6 335.7 656.6 336.5 656.6 337.3 656.6 338.0 656.6 338.8 656.6 339.6 656.6 340.4 656.6 341.2 656.6 342.0 656.6 342.8 656.6 343.5 656.6 344.3 656.6 345.1 656.6 345.8 656.6 346.6 656.6 347.4 649.3 348.1 622.7 348.9 601.4 349.7 583.7 350.4 568.6 351.2 555.5 351.9 544.0 352.7 533.7 353.4 524.5 354.2 516.1 354.9 508.5 355.7 501.6 356.4 495.2 357.2 489.3 357.9 483.9 358.6 478.9 359.4 474.3 360.1 470.0 360.8 466.0 361.6 462.4 362.3 458.9 363.0 455.8 363.8 452.8 364.5 450.1 365.2 447.6 365.9 445.4 366.6 443.2 367.4 441.3 368.1 439.6 368.8 438.0 369.5 436.6 370.2 435.4 370.9 434.3 371.6 433.3 372.4 432.6 373.1 431.9 373.8 431.4 374.5 431.1 375.2 430.9 375.9 430.9 376.6 431.0 377.3 431.2 378.0 431.6 378.7 432.1 379.4 432.8 380.0 433.6 380.7 434.6 381.4 435.8 382.1 437.1 382.8 438.6 383.5 440.2 384.2 442.1 384.9 444.1 385.5 446.3 386.2 448.8 386.9 451.4 387.6 454.3 388.3 457.4 388.9 460.8 389.6 464.5 390.3 468.4 391.0 472.7 391.6 477.4 392.3 482.4 393.0 487.9 393.6 493.8 394.3 500.3 395.0 507.4 395.6 515.3 396.3 523.9 397.0 533.5 397.6 544.2 398.3 556.4 399.0 570.3 399.6 586.5 400.3 605.7 400.9 629.3 401.6 656.6 402.2 656.6 402.9 656.6 403.5 656.6 404.2 656.6 404.9 656.6 405.5 656.6 406.2 656.6 406.8 656.6 407.5 656.6 408.1 656.6 408.7 656.6 409.4 656.6 410.0 656.6 410.7 656.6 411.3 656.6 412.0 656.6 412.6 656.6 413.2 656.6 413.9 656.6 414.5 656.6 415.2 656.6 415.8 656.6 416.4 656.6 417.1 656.6 417.7 656.6 418.3 656.6 419.0 656.6 419.6 656.6 420.2 656.6 420.9 656.6 421.5 656.6 422.1 656.6 422.7 656.6 423.4 656.6 424.0 656.6 424.6 656.6 425.2 656.6 425.9 656.6 426.5 656.6 427.1 656.6 427.7 656.6 428.4 656.6 429.0 656.6 429.6 656.6 430.2 641.7 430.8 613.8 431.4 591.6 432.1 573.3 432.7 557.8 433.3 544.4 433.9 532.7 434.5 522.3 435.1 512.9 435.8 504.6 436.4 497.0 437.0 490.0 437.6 483.7 438.2 478.0 438.8 472.7 439.4 467.8 440.0 463.4 440.6 459.3 441.2 455.6 441.8 452.2 442.5 449.0 443.1 446.2 443.7 443.6 444.3 441.3 444.9 439.3 445.5 437.4 446.1 435.8 446.7 434.5 447.3 433.3 447.9 432.4 448.5 431.7 449.1 431.2 449.7 430.9 450.3 430.9 450.9 431.0 451.5 431.4 452.1 432.1 452.7 432.9 453.3 434.0 453.9 435.4 454.5 437.0 455.1 438.9 455.7 441.2 456.2 443.7 456.8 446.6 457.4 449.8 458.0 453.4 458.6 457.5 459.2 462.1 459.8 467.2 460.4 472.8 461.0 479.2 461.6 486.4 462.2 494.5 462.7 503.7 463.3 514.2 463.9 526.3 464.5 540.6 465.1 557.6 465.7 578.5 466.3 605.2 466.9 641.4 467.4 656.6 468.0 656.6 468.6 656.6 469.2 656.6 469.8 656.6 470.4 656.6 470.9 656.6 471.5 656.6 472.1 656.6 472.7 656.6 473.3 656.6 473.8 656.6 474.4 656.6 475.0 656.6 475.6 656.6 476.2 656.6 476.7 656.6 477.3 656.6 477.9 656.6 478.5 656.6 479.1 656.6 479.6 656.6 480.2 656.6 480.8 656.6 481.4 647.0 481.9 581.4 482.5 539.1 483.1 507.6 483.7 482.5 484.2 461.5 484.8 443.5 485.4 427.6 486.0 413.5 486.5 400.7 487.1 389.0 487.7 378.3 488.2 368.3 488.8 359.1 489.4 350.4 490.0 342.2 490.5 334.4 491.1 327.1 491.7 320.1 492.2 313.5 492.8 307.1 493.4 301.1 493.9 295.2 494.5 289.6 495.1 284.2 495.7 279.0 496.2 274.0 496.8 269.2 497.4 264.5 497.9 260.0 498.5 255.6 499.1 251.4 499.6 247.2 500.2 243.2 500.8 239.3 501.3 235.5 501.9 231.8 502.5 228.3 503.0 224.8 503.6 221.3 504.1 218.0 504.7 214.8 505.3 211.6 505.8 208.5 506.4 205.5 507.0 202.6 507.5 199.7 508.1 196.9 508.7 194.2 509.2 191.5 509.8 188.8 510.3 186.3 510.9 183.8 511.5 181.3 512.0 178.9 512.6 176.6 513.2 174.2 513.7 172.0 514.3 169.8 514.8 167.6 515.4 165.5 516.0 163.4 516.5 161.4 517.1 159.4 517.6 157.5 518.2 155.6 518.8 153.7 519.3 151.9 519.9 150.1 520.4 148.3 521.0 146.6 521.5 144.9 522.1 143.3 522.7 141.7 523.2 140.1 523.8 138.6 524.3 137.0 524.9 135.6 525.5 134.1 526.0 132.7 526.6 131.3 527.1 130.0 527.7 128.6 528.2 127.4 528.8 126.1 529.4 124.9 529.9 123.6 530.5 122.5 531.0 121.3 531.6 120.2 532.1 119.1 532.7 118.0 533.2 117.0 533.8 116.0 534.4 115.0 534.9 114.0 535.5 113.1 536.0 112.2 536.6 111.3 537.1 110.4 537.7 109.6 538.2 108.8 538.8 108.0 539.4 107.2 539.9 106.5 540.5 105.8 541.0 105.1 541.6 104.4 542.1 103.7 542.7 103.1 543.2 102.5 543.8 101.9 544.4 101.4 544.9 100.9 545.5 100.3 546.0 99.9 546.6 99.4 547.1 99.0 547.7 98.5 548.2 98.1 548.8 97.8 549.3 97.4 549.9 97.1 550.4 96.8 551.0 96.5 551.6 96.2 552.1 96.0 552.7 95.7 553.2 95.5 553.8 95.4 554.3 95.2 554.9 95.1 555.4 94.9 556.0 94.8 556.5 94.8 557.1 94.7 557.6 94.7 558.2 94.7 558.8 94.7 559.3 94.7 559.9 94.8 560.4 94.8 561.0 94.9 561.5 95.1 562.1 95.2 562.6 95.4 563.2 95.5 563.7 95.7 564.3 96.0 564.8 96.2 565.4 96.5 566.0 96.8 566.5 97.1 567.1 97.4 567.6 97.8 568.2 98.1 568.7 98.5 569.3 99.0 569.8 99.4 570.4 99.9 570.9 100.3 571.5 100.9 572.0 101.4 572.6 101.9 573.2 102.5 573.7 103.1 574.3 103.7 574.8 104.4 575.4 105.1 575.9 105.8 576.5 106.5 577.0 107.2 577.6 108.0 578.2 108.8 578.7 109.6 579.3 110.4 579.8 111.3 580.4 112.2 580.9 113.1 581.5 114.0 582.0 115.0 582.6 116.0 583.2 117.0 583.7 118.0 584.3 119.1 584.8 120.2 585.4 121.3 585.9 122.5 586.5 123.6 587.0 124.9 587.6 126.1 588.2 127.4 588.7 128.6 589.3 130.0 589.8 131.3 590.4 132.7 590.9 134.1 591.5 135.6 592.1 137.0 592.6 138.6 593.2 140.1 593.7 141.7 594.3 143.3 594.9 144.9 595.4 146.6 596.0 148.3 596.5 150.1 597.1 151.9 597.6 153.7 598.2 155.6 598.8 157.5 599.3 159.4 599.9 161.4 600.4 163.4 601.0 165.5 601.6 167.6 602.1 169.8 602.7 172.0 603.2 174.2 603.8 176.6 604.4 178.9 604.9 181.3 605.5 183.8 606.1 186.3 606.6 188.8 607.2 191.5 607.7 194.2 608.3 196.9 608.9 199.7 609.4 202.6 610.0 205.5 610.6 208.5 611.1 211.6 611.7 214.8 612.3 218.0 612.8 221.3 613.4 224.8 613.9 228.3 614.5 231.8 615.1 235.5 615.6 239.3 616.2 243.2 616.8 247.2 617.3 251.4 617.9 255.6 618.5 260.0 619.0 264.5 619.6 269.2 620.2 274.0 620.7 279.0 621.3 284.2 621.9 289.6 622.5 295.2 623.0 301.1 623.6 307.1 624.2 313.5 624.7 320.1 625.3 327.1 625.9 334.4 626.4 342.2 627.0 350.4 627.6 359.1 628.2 368.3 628.7 378.3 629.3 389.0 629.9 400.7 630.4 413.5 631.0 427.6 631.6 443.5 632.2 461.5 632.7 482.5 633.3 507.6 633.9 539.1 634.5 581.4 635.0 647.0 635.6 656.6 636.2 656.6 636.8 656.6 637.3 656.6 637.9 656.6 638.5 656.6 639.1 656.6 639.7 656.6 640.2 656.6 640.8 656.6 641.4 656.6 642.0 656.6 642.6 656.6 643.1 656.6 643.7 656.6 644.3 656.6 644.9 656.6 645.5 656.6 646.0 656.6 646.6 656.6 647.2 656.6 647.8 656.6 648.4 656.6 649.0 656.6 649.5 641.4 650.1 605.2 650.7 578.5 651.3 557.6 651.9 540.6 652.5 526.3 653.1 514.2 653.7 503.7 654.2 494.5 654.8 486.4 655.4 479.2 656.0 472.8 656.6 467.2 657.2 462.1 657.8 457.5 658.4 453.4 659.0 449.8 659.6 446.6 660.2 443.7 660.7 441.2 661.3 438.9 661.9 437.0 662.5 435.4 663.1 434.0 663.7 432.9 664.3 432.1 664.9 431.4 665.5 431.0 666.1 430.9 666.7 430.9 667.3 431.2 667.9 431.7 668.5 432.4 669.1 433.3 669.7 434.5 670.3 435.8 670.9 437.4 671.5 439.3 672.1 441.3 672.7 443.6 673.3 446.2 673.9 449.0 674.6 452.2 675.2 455.6 675.8 459.3 676.4 463.4 677.0 467.8 677.6 472.7 678.2 478.0 678.8 483.7 679.4 490.0 680.0 497.0 680.6 504.6 681.3 512.9 681.9 522.3 682.5 532.7 683.1 544.4 683.7 557.8 684.3 573.3 685.0 591.6 685.6 613.8 686.2 641.7 686.8 656.6 687.4 656.6 688.0 656.6 688.7 656.6 689.3 656.6 689.9 656.6 690.5 656.6 691.2 656.6 691.8 656.6 692.4 656.6 693.0 656.6 693.7 656.6 694.3 656.6 694.9 656.6 695.5 656.6 696.2 656.6 696.8 656.6 697.4 656.6 698.1 656.6 698.7 656.6 699.3 656.6 700.0 656.6 700.6 656.6 701.2 656.6 701.9 656.6 702.5 656.6 703.2 656.6 703.8 656.6 704.4 656.6 705.1 656.6 705.7 656.6 706.4 656.6 707.0 656.6 707.7 656.6 708.3 656.6 708.9 656.6 709.6 656.6 710.2 656.6 710.9 656.6 711.5 656.6 712.2 656.6 712.9 656.6 713.5 656.6 714.2 656.6 714.8 656.6 715.5 629.3 716.1 605.7 716.8 586.5 717.4 570.3 718.1 556.4 718.8 544.2 719.4 533.5 720.1 523.9 720.8 515.3 721.4 507.4 722.1 500.3 722.8 493.8 723.4 487.9 724.1 482.4 724.8 477.4 725.4 472.7 726.1 468.4 726.8 464.5 727.5 460.8 728.1 457.4 728.8 454.3 729.5 451.4 730.2 448.8 730.9 446.3 731.5 444.1 732.2 442.1 732.9 440.2 733.6 438.6 734.3 437.1 735.0 435.8 735.7 434.6 736.4 433.6 737.0 432.8 737.7 432.1 738.4 431.6 739.1 431.2 739.8 431.0 740.5 430.9 741.2 430.9 741.9 431.1 742.6 431.4 743.3 431.9 744.0 432.6 744.8 433.3 745.5 434.3 746.2 435.4 746.9 436.6 747.6 438.0 748.3 439.6 749.0 441.3 749.8 443.2 750.5 445.4 751.2 447.6 751.9 450.1 752.6 452.8 753.4 455.8 754.1 458.9 754.8 462.4 755.6 466.0 756.3 470.0 757.0 474.3 757.8 478.9 758.5 483.9 759.2 489.3 760.0 495.2 760.7 501.6 761.5 508.5 762.2 516.1 763.0 524.5 763.7 533.7 764.5 544.0 765.2 555.5 766.0 568.6 766.7 583.7 767.5 601.4 768.3 622.7 769.0 649.3 769.8 656.6 770.6 656.6 771.3 656.6 772.1 656.6 772.9 656.6 773.6 656.6 774.4 656.6 775.2 656.6 776.0 656.6 776.8 656.6 777.6 656.6 778.4 656.6 779.1 656.6 779.9 656.6 780.7 656.6 781.5 656.6 782.3 656.6 783.1 656.6 783.9 656.6 784.8 656.6 785.6 656.6 786.4 656.6 787.2 656.6 788.0 656.6 788.8 656.6 789.7 656.6 790.5 656.6 791.3 656.6 792.2 656.6 793.0 656.6 793.8 656.6 794.7 656.6 795.5 656.6 796.4 656.6 797.2 656.6 798.1 656.6 798.9 656.6 799.8 656.6 800.6 656.6 801.5 656.6 802.4 656.6 803.3 656.6 804.1 656.6 805.0 656.6 805.9 656.6 806.8 656.6 807.7 656.6 808.6 656.6 809.5 656.6 810.4 636.6 811.3 613.0 812.2 593.7 813.1 577.5 814.0 563.5 814.9 551.2 815.8 540.4 816.8 530.6 817.7 521.9 818.6 513.9 819.6 506.7 820.5 500.0 821.5 493.9 822.4 488.3 823.4 483.1 824.4 478.3 825.3 473.8 826.3 469.7 827.3 465.8 828.3 462.3 829.3 458.9 830.3 455.9 831.3 453.0 832.3 450.4 833.3 447.9 834.3 445.7 835.3 443.6 836.4 441.7 837.4 440.0 838.4 438.5 839.5 437.1 840.5 435.8 841.6 434.7 842.7 433.7 843.7 432.9 844.8 432.2 845.9 431.7 847.0 431.3 848.1 431.0 849.2 430.9 850.3 430.9 851.5 431.0 852.6 431.3 853.7 431.6 854.9 432.2 856.1 432.8 857.2 433.6 858.4 434.6 859.6 435.7 860.8 436.9 862.0 438.3 863.2 439.8 864.5 441.5 865.7 443.4 866.9 445.4 868.2 447.6 869.5 450.0 870.8 452.6 872.1 455.4 873.4 458.5 874.7 461.7 876.1 465.2 877.4 469.0 878.8 473.1 880.2 477.4 881.6 482.2 883.0 487.2 884.4 492.7 885.9 498.7 887.4 505.2 888.9 512.2 890.4 519.9 891.9 528.4 893.5 537.8 895.1 548.3 896.7 560.0 898.3 573.3 900.0 588.7 901.7 606.8 903.4 628.7 905.2 656.1 907.0 656.6 908.8 656.6 910.6 656.6 912.6 656.6 914.5 656.6 916.5 656.6 918.6 656.6 920.7 656.6 922.9 656.6 925.1 656.6 927.4 656.6 929.8 656.6 932.3 656.6 934.9 656.6 937.6 656.6 940.5 656.6 943.5 656.6 946.7 656.6 950.1 656.6 953.9 656.6 958.0 656.6 962.7 656.6 968.3 656.6 975.6 656.6 993.1 656.6" stroke="#00ff00" stroke-width="5" stroke-dasharray="9.3 2.1 2 2.7"/>
</g>
<rect x="124.0" y="21.0" width="869.0" height="606.0" fill="none" stroke="#000" stroke-width="2"/>
<path d="M413.9 627.4L421.3 627.4L421 630.4L419.2 631L417.5 633L416 631L414.2 630.4ZM637.2 627.4h2v2.2h-2Z" fill="#0000ff"/>
<path d="M878.8 52.4H958.6" stroke="#0000ff" stroke-width="5" stroke-dasharray="6.3 2.44"/>
<path d="M878.8 96H958.6" stroke="#ff0000" stroke-width="5.4"/>
<path d="M878.8 139.7H955.6" stroke="#a52a2a" stroke-width="5" stroke-dasharray="3.7 3.57"/>
<path d="M878.8 183.4H956.6" stroke="#00ff00" stroke-width="5" stroke-dasharray="9.3 2.1 2 2.7"/>
<g font-family="Liberation Sans, Arial, sans-serif" font-size="28" fill="#000" letter-spacing="0.38">
<text x="106.3" y="30.9" text-anchor="end">5</text>
<text x="106.3" y="98.1" text-anchor="end">0</text>
<text x="106.3" y="165.4" text-anchor="end">-5</text>
<text x="106.3" y="232.6" text-anchor="end">-10</text>
<text x="106.3" y="299.9" text-anchor="end">-15</text>
<text x="106.3" y="367.2" text-anchor="end">-20</text>
<text x="106.3" y="434.4" text-anchor="end">-25</text>
<text x="106.3" y="501.7" text-anchor="end">-30</text>
<text x="106.3" y="569.0" text-anchor="end">-35</text>
<text x="106.3" y="636.2" text-anchor="end">-40</text>
<text x="123.5" y="665" text-anchor="middle">-90</text>
<text x="268.5" y="665" text-anchor="middle">-60</text>
<text x="413.4" y="665" text-anchor="middle">-30</text>
<text x="562.8" y="665" text-anchor="middle">0</text>
<text x="707.8" y="665" text-anchor="middle">30</text>
<text x="852.7" y="665" text-anchor="middle">60</text>
<text x="997.7" y="665" text-anchor="middle">90</text>
<text x="558.6" y="708" text-anchor="middle"><tspan font-family="Liberation Serif, DejaVu Serif, serif" font-size="31.5" dy="2">θ</tspan><tspan dy="-2"> [deg]</tspan></text>
<text transform="translate(30.8,323.5) rotate(-90)" text-anchor="middle" letter-spacing="0.54">Normalized Power Pattern [dB]</text>
<text x="862" y="64.9" text-anchor="end">P<tspan font-size="22.4" dy="-15">(q)</tspan><tspan dy="15">(</tspan><tspan font-family="Liberation Serif, DejaVu Serif, serif" font-size="31.5" dy="2">θ</tspan><tspan dy="-2">)</tspan></text>
<text x="862" y="105.9" text-anchor="end"><tspan font-weight="bold">P</tspan>(<tspan font-family="Liberation Serif, DejaVu Serif, serif" font-size="31.5" dy="2">θ</tspan><tspan dy="-2">) - CIA</tspan></text>
<text x="862" y="149.2" text-anchor="end"><tspan font-weight="bold">P</tspan>(<tspan font-family="Liberation Serif, DejaVu Serif, serif" font-size="31.5" dy="2">θ</tspan><tspan dy="-2">) - RIA</tspan></text>
<text x="862" y="192.8" text-anchor="end"><tspan font-weight="bold">P</tspan>(<tspan font-family="Liberation Serif, DejaVu Serif, serif" font-size="31.5" dy="2">θ</tspan><tspan dy="-2">) - CS</tspan></text>
</g>
</svg>
</div></body></html>
